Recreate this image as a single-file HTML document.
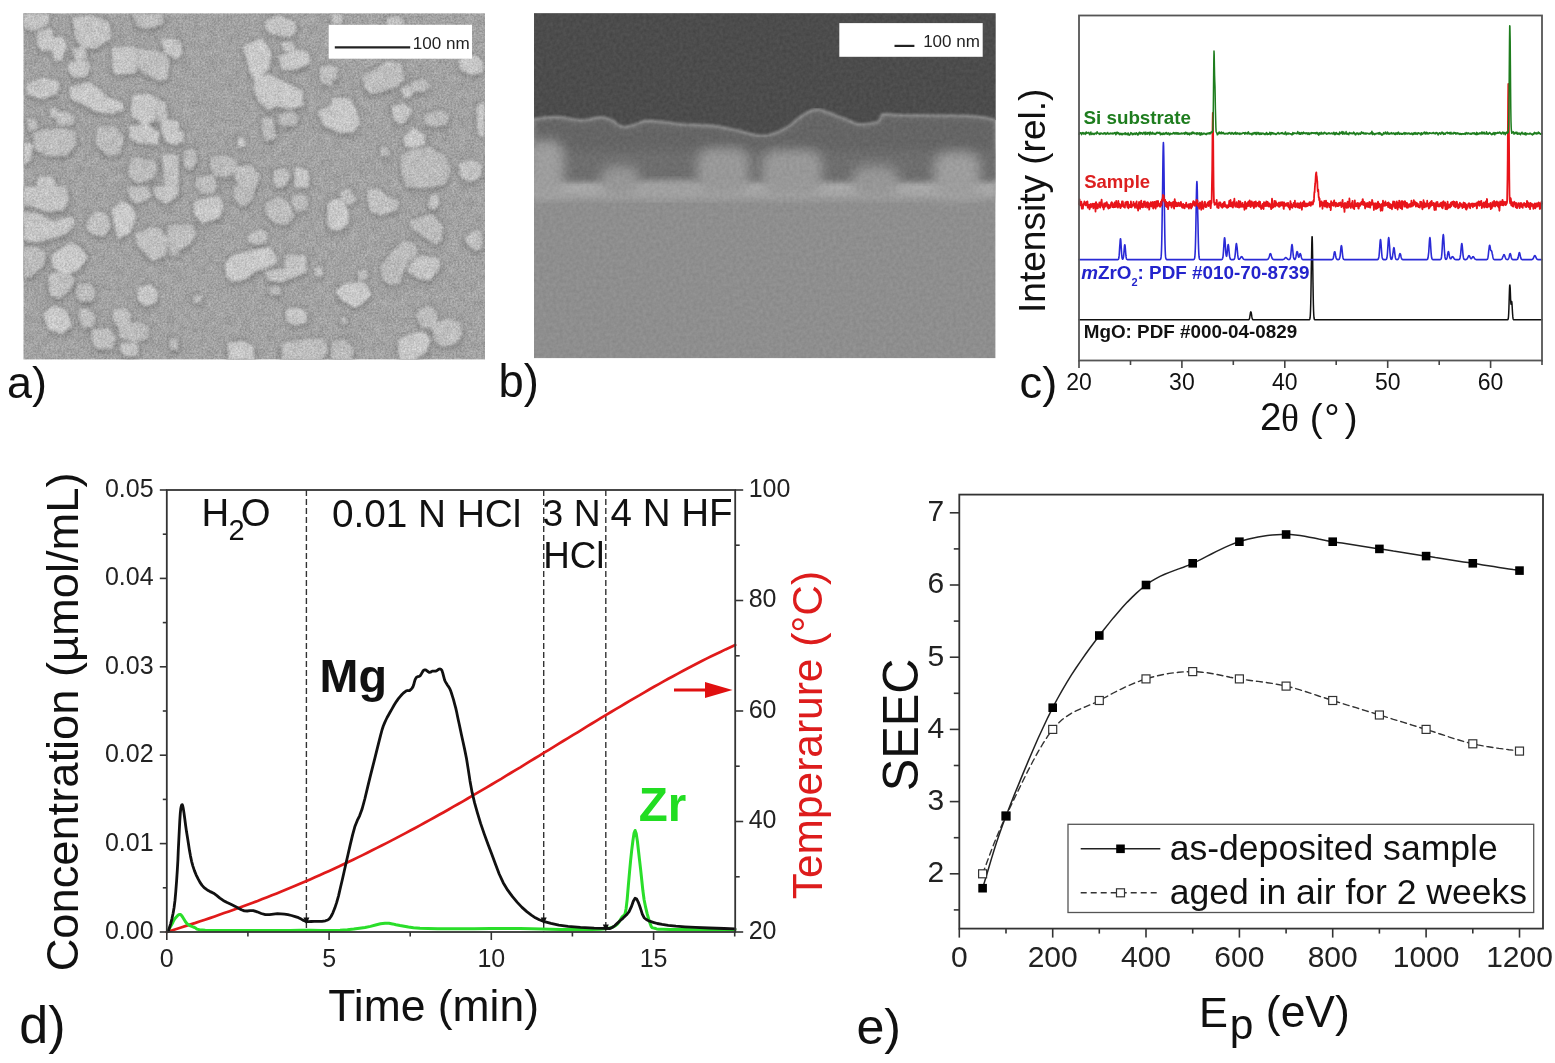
<!DOCTYPE html>
<html><head><meta charset="utf-8"><title>Figure</title>
<style>
html,body{margin:0;padding:0;background:#fff;}
body{width:1555px;height:1063px;overflow:hidden;}
svg{display:block;}
text{font-family:'Liberation Sans', Arial, sans-serif;}
</style></head><body>
<svg width="1555" height="1063" viewBox="0 0 1555 1063">
<rect x="0" y="0" width="1555" height="1063" fill="#fff"/>
<defs>
<filter id="blur2" x="-5%" y="-5%" width="110%" height="110%"><feGaussianBlur stdDeviation="2"/></filter>
<filter id="blur3" x="-5%" y="-5%" width="110%" height="110%"><feGaussianBlur stdDeviation="3"/></filter>
<filter id="blur4" x="-20%" y="-20%" width="140%" height="140%"><feGaussianBlur stdDeviation="4"/></filter>
<filter id="blur6" x="-40%" y="-40%" width="180%" height="180%"><feGaussianBlur stdDeviation="6"/></filter>
<filter id="blur1" x="-5%" y="-5%" width="110%" height="110%"><feGaussianBlur stdDeviation="1"/></filter>
<filter id="blur15" x="-5%" y="-5%" width="110%" height="110%"><feGaussianBlur stdDeviation="1.5"/></filter>
<filter id="grainA" x="0" y="0" width="100%" height="100%" color-interpolation-filters="sRGB">
 <feTurbulence type="fractalNoise" baseFrequency="0.55" numOctaves="2" seed="4"/>
 <feColorMatrix type="matrix" values="1 0 0 0 0  1 0 0 0 0  1 0 0 0 0  0 0 0 0 1"/>
</filter>
<filter id="grainB" x="0" y="0" width="100%" height="100%" color-interpolation-filters="sRGB">
 <feTurbulence type="fractalNoise" baseFrequency="0.3" numOctaves="2" seed="9"/>
 <feColorMatrix type="matrix" values="1 0 0 0 0  1 0 0 0 0  1 0 0 0 0  0 0 0 0 1"/>
</filter>
<filter id="grainC" x="0" y="0" width="100%" height="100%" color-interpolation-filters="sRGB">
 <feTurbulence type="fractalNoise" baseFrequency="0.12" numOctaves="3" seed="21"/>
 <feColorMatrix type="matrix" values="1 0 0 0 0  1 0 0 0 0  1 0 0 0 0  0 0 0 0 1"/>
</filter>
<clipPath id="clipA"><rect x="23.4" y="13.3" width="461.6" height="346.2"/></clipPath>
<clipPath id="clipB"><rect x="534" y="13.3" width="461.6" height="345"/></clipPath>
</defs>
<g clip-path="url(#clipA)">
<rect x="23.4" y="13.3" width="461.6" height="346.2" fill="rgb(181,181,181)"/>
<g filter="url(#blur3)" fill="rgb(125,125,125)" transform="translate(0.5,3)">
<polygon points="24.0,14.0 48.4,14.0 48.4,23.8 33.8,30.3 24.0,27.0"/>
<polygon points="37.0,33.5 48.4,27.8 52.5,30.3 51.7,49.8 41.9,50.6 37.8,44.9"/>
<polygon points="52.5,38.4 63.1,36.8 66.3,46.6 61.4,60.4 54.9,59.6 51.7,49.8"/>
<polygon points="72.8,17.3 92.4,15.6 108.6,22.1 110.3,38.4 95.6,48.2 81.0,46.6 76.1,38.4"/>
<polygon points="72.8,49.0 84.2,47.4 86.7,58.0 76.1,60.4"/>
<polygon points="69.6,62.8 87.5,61.2 90.7,67.7 85.9,76.7 72.8,76.7 68.0,69.3"/>
<polygon points="111.9,48.2 134.7,46.6 136.3,72.6 115.2,74.2 112.7,67.7"/>
<polygon points="137.1,48.2 164.0,53.1 168.9,61.2 167.3,79.1 159.1,80.7 141.2,71.0 137.1,62.8"/>
<polygon points="133.1,14.0 162.4,14.0 162.4,23.8 147.7,28.7 136.3,25.4"/>
<polygon points="160.7,38.4 178.0,40.0 178.0,59.6 165.6,53.1"/>
<polygon points="27.3,84.0 43.5,77.5 59.8,82.4 56.6,93.8 40.3,98.6 27.3,93.8"/>
<polygon points="69.6,87.3 89.1,82.4 100.5,90.5 108.6,98.6 121.7,101.9 123.3,110.0 111.9,113.3 97.3,111.7 85.9,105.2 71.2,98.6"/>
<polygon points="133.1,95.4 147.7,93.8 157.5,98.6 154.2,119.8 144.5,124.7 132.3,116.6 131.4,106.8"/>
<polygon points="157.5,100.3 165.6,101.9 167.3,118.2 157.5,121.4"/>
<polygon points="27.3,118.2 36.2,119.0 37.0,128.0 28.9,131.2"/>
<polygon points="50.0,108.4 56.6,108.4 56.6,116.6 50.0,116.6"/>
<polygon points="54.9,113.3 66.3,111.7 74.5,116.6 72.8,124.7 58.2,124.7"/>
<polygon points="33.8,132.8 56.6,128.0 74.5,131.2 76.1,144.2 66.3,155.6 46.8,155.6 35.4,149.1"/>
<polygon points="97.3,126.3 115.2,126.3 123.3,137.7 120.0,154.0 108.6,155.6 95.6,144.2"/>
<polygon points="129.8,126.3 147.7,124.7 159.1,132.8 157.5,144.2 138.0,142.6 129.8,137.7"/>
<polygon points="162.4,119.8 178.0,121.4 178.0,144.2 167.3,142.6 161.6,131.2"/>
<polygon points="24.0,142.6 32.1,144.2 30.5,160.5 24.0,163.8"/>
<polygon points="131.4,157.3 154.2,160.5 157.5,170.3 152.6,178.4 138.0,183.3 128.2,175.2"/>
<polygon points="38.7,176.8 51.7,176.8 56.6,187.0 37.0,187.0"/>
<polygon points="162.4,154.0 178.0,155.6 178.0,187.0 165.6,187.0"/>
<polygon points="265.9,20.5 278.9,15.6 295.2,22.1 296.8,30.3 290.3,36.8 270.8,33.5 265.9,28.7"/>
<polygon points="178.0,41.7 181.3,43.3 181.3,54.7 178.0,56.3"/>
<polygon points="243.1,46.6 261.0,38.4 270.8,51.4 269.2,67.7 256.1,82.4 249.6,69.3"/>
<polygon points="280.6,43.3 292.0,41.7 295.2,49.8 285.4,51.4"/>
<polygon points="278.9,56.3 301.7,49.8 308.2,53.1 309.9,62.8 295.2,69.3 282.2,69.3"/>
<polygon points="319.6,67.7 332.0,64.5 332.0,85.6 321.3,82.4"/>
<polygon points="254.5,82.4 269.2,74.2 277.3,79.1 292.0,85.6 301.7,90.5 303.3,105.2 288.7,108.4 275.7,105.2 269.2,110.0 259.4,101.9 254.5,92.1"/>
<polygon points="278.9,114.9 292.0,111.7 298.5,118.2 295.2,124.7 283.8,126.3 278.9,121.4"/>
<polygon points="318.0,111.7 332.0,105.2 332.0,128.0 324.5,126.3"/>
<polygon points="262.6,118.2 272.4,118.2 275.7,137.7 265.9,141.0 262.6,131.2"/>
<polygon points="184.5,150.7 194.3,149.1 197.5,160.5 191.0,170.3 184.5,165.4"/>
<polygon points="210.6,157.3 226.8,155.6 236.6,160.5 236.6,170.3 226.8,176.8 215.4,175.2 210.6,167.0"/>
<polygon points="236.6,167.0 251.3,165.4 259.4,175.2 256.1,187.0 239.9,187.0 235.0,176.8"/>
<polygon points="274.0,170.3 285.4,168.6 290.3,176.8 283.8,187.0 274.0,187.0"/>
<polygon points="295.2,167.0 308.2,170.3 308.2,187.0 295.2,187.0"/>
<polygon points="197.5,176.8 213.8,175.2 217.1,187.0 194.3,187.0"/>
<polygon points="238.2,137.7 243.1,137.7 244.7,145.9 238.2,145.9"/>
<polygon points="178.0,131.2 182.9,131.2 182.9,142.6 178.0,142.6"/>
<polygon points="387.3,17.3 402.0,17.3 403.6,25.4 387.3,25.4"/>
<polygon points="332.0,14.0 341.8,14.0 341.8,23.8 332.0,23.8"/>
<polygon points="459.0,59.6 475.3,54.7 483.4,62.8 481.8,72.6 470.4,74.2 460.6,69.3"/>
<polygon points="362.9,75.9 380.8,66.1 387.3,61.2 400.4,62.8 403.6,79.1 397.1,85.6 384.1,90.5 371.1,93.8 364.6,87.3"/>
<polygon points="400.4,88.9 408.5,85.6 413.4,93.8 405.3,98.6"/>
<polygon points="411.8,82.4 423.2,79.1 429.7,85.6 423.2,92.1 413.4,90.5"/>
<polygon points="332.0,98.6 349.9,98.6 356.4,111.7 359.7,123.1 353.2,131.2 341.8,132.8 332.0,128.0"/>
<polygon points="332.0,67.7 336.9,67.7 336.9,79.1 332.0,79.1"/>
<polygon points="392.2,106.8 403.6,103.5 411.8,110.0 406.9,119.8 400.4,124.7 393.9,118.2"/>
<polygon points="424.8,114.9 437.8,110.0 449.2,114.9 446.0,124.7 432.9,126.3 424.8,123.1"/>
<polygon points="403.6,137.7 413.4,128.0 423.2,134.5 424.8,144.2 413.4,147.5 405.3,145.9"/>
<polygon points="400.4,155.6 410.1,150.7 429.7,147.5 444.3,155.6 450.8,170.3 446.0,183.3 429.7,187.0 406.9,187.0 402.0,173.5"/>
<polygon points="459.0,163.8 472.0,160.5 481.8,165.4 480.1,176.8 470.4,181.7 460.6,176.8"/>
<polygon points="476.9,105.2 484.2,101.9 484.2,136.1 478.5,134.5"/>
<polygon points="380.8,147.5 387.3,147.5 389.0,155.6 380.8,155.6"/>
<polygon points="24.0,187.0 66.3,187.0 68.0,200.0 63.1,209.8 46.8,211.4 33.8,206.5 24.0,204.9"/>
<polygon points="24.0,211.4 40.3,214.7 53.3,222.8 72.8,216.3 74.5,224.4 64.7,234.2 48.4,239.1 35.4,242.3 24.0,239.1"/>
<polygon points="24.0,247.2 37.0,247.2 45.2,253.7 43.5,265.1 30.5,276.5 24.0,276.5"/>
<polygon points="51.7,255.4 71.2,242.3 79.3,247.2 87.5,257.0 77.7,270.0 63.1,274.9 53.3,266.8"/>
<polygon points="48.4,274.9 64.7,271.6 74.5,278.2 71.2,287.9 59.8,297.7 50.0,294.4"/>
<polygon points="87.5,219.6 97.3,211.4 107.0,214.7 110.3,227.7 103.8,235.8 92.4,234.2 86.7,227.7"/>
<polygon points="111.9,209.8 121.7,201.7 131.4,206.5 136.3,216.3 129.8,232.6 118.4,239.1 115.2,227.7"/>
<polygon points="128.2,187.0 147.7,187.0 151.0,196.8 138.0,203.3 129.8,198.4"/>
<polygon points="154.2,187.0 178.0,187.0 178.0,195.1 165.6,203.3 155.9,196.8"/>
<polygon points="136.3,234.2 149.3,227.7 160.7,229.3 167.3,239.1 165.6,255.4 152.6,260.3 142.8,250.5 136.3,244.0"/>
<polygon points="167.3,226.1 178.0,224.4 178.0,255.4 170.5,255.4"/>
<polygon points="77.7,284.7 89.1,283.0 95.6,291.2 92.4,301.0 81.0,301.0 76.1,294.4"/>
<polygon points="138.0,287.9 149.3,284.7 157.5,291.2 155.9,302.6 144.5,305.8 138.0,299.3"/>
<polygon points="43.5,314.0 53.3,305.8 66.3,310.7 71.2,325.4 61.4,333.5 48.4,328.6"/>
<polygon points="79.3,309.1 89.1,309.1 95.6,317.2 92.4,327.0 82.6,327.0 79.3,317.2"/>
<polygon points="113.5,310.7 124.9,307.5 131.4,315.6 128.2,325.4 118.4,327.0 113.5,318.9"/>
<polygon points="118.4,325.4 138.0,322.1 149.3,327.0 147.7,338.4 133.1,341.6 120.0,336.8"/>
<polygon points="92.4,330.3 108.6,328.6 115.2,338.4 111.9,348.2 97.3,348.2 92.4,340.0"/>
<polygon points="121.7,343.3 136.3,343.3 138.0,354.7 124.9,356.3 120.0,349.8"/>
<polygon points="170.5,340.0 178.0,338.4 178.0,349.8 170.5,348.2"/>
<polygon points="233.3,187.0 254.5,187.0 252.9,198.4 243.1,206.5 235.0,200.0"/>
<polygon points="194.3,201.7 204.0,198.4 218.7,196.8 223.6,206.5 218.7,217.9 202.4,222.8 194.3,213.0"/>
<polygon points="197.5,187.0 215.4,187.0 213.8,193.5 200.8,193.5"/>
<polygon points="178.0,226.1 191.0,224.4 195.9,232.6 191.0,242.3 181.3,248.9 178.0,248.9"/>
<polygon points="265.9,203.3 278.9,196.8 288.7,203.3 293.6,216.3 287.1,224.4 275.7,222.8 265.9,213.0"/>
<polygon points="292.0,196.8 301.7,193.5 308.2,200.0 306.6,209.8 296.8,211.4 292.0,203.3"/>
<polygon points="327.8,203.3 332.0,200.0 332.0,229.3 327.8,226.1"/>
<polygon points="248.0,235.8 261.0,229.3 266.7,232.6 265.9,242.3 256.1,244.0 248.0,240.7"/>
<polygon points="225.2,263.5 233.3,255.4 246.4,252.1 269.2,247.2 275.7,255.4 275.7,263.5 264.3,268.4 254.5,271.6 246.4,278.2 233.3,281.4 226.8,276.5"/>
<polygon points="265.9,271.6 285.4,268.4 285.4,255.4 305.0,255.4 306.6,271.6 295.2,276.5 282.2,281.4 267.5,279.8"/>
<polygon points="194.3,296.1 200.8,296.1 200.8,302.6 194.3,302.6"/>
<polygon points="269.2,287.9 278.9,286.3 280.6,294.4 270.8,294.4"/>
<polygon points="285.4,310.7 295.2,307.5 305.0,310.7 306.6,322.1 295.2,325.4 287.1,320.5"/>
<polygon points="228.5,343.3 243.1,341.6 252.9,346.5 254.5,360.0 228.5,360.0"/>
<polygon points="282.2,343.3 295.2,341.6 311.5,338.4 324.5,340.0 327.8,349.8 321.3,360.0 282.2,360.0"/>
<polygon points="314.7,268.4 321.3,266.8 322.9,274.9 316.4,276.5"/>
<polygon points="332.0,200.0 341.8,200.0 348.3,211.4 348.3,222.8 341.8,229.3 332.0,229.3"/>
<polygon points="340.1,191.9 349.9,188.6 356.4,200.0 349.9,204.9 341.8,201.7"/>
<polygon points="367.8,190.3 377.6,188.6 387.3,196.8 398.7,201.7 397.1,209.8 380.8,214.7 371.1,211.4 367.8,201.7"/>
<polygon points="410.1,221.2 423.2,216.3 432.9,214.7 442.7,226.1 441.1,240.7 434.6,244.0 423.2,235.8 411.8,227.7"/>
<polygon points="429.7,196.8 436.2,193.5 439.4,203.3 432.9,209.8 428.0,206.5"/>
<polygon points="465.5,237.5 476.9,229.3 481.8,234.2 481.8,247.2 476.9,250.5 467.1,244.0"/>
<polygon points="380.8,266.8 390.6,253.7 402.0,242.3 413.4,242.3 418.3,252.1 408.5,261.9 402.0,271.6 400.4,283.0 390.6,284.7 382.5,278.2"/>
<polygon points="408.5,266.8 419.9,255.4 439.4,258.6 439.4,268.4 429.7,279.8 418.3,278.2 408.5,271.6"/>
<polygon points="335.3,291.2 348.3,283.0 364.6,283.0 371.1,294.4 364.6,301.0 354.8,307.5 341.8,299.3"/>
<polygon points="358.0,271.6 366.2,268.4 367.8,278.2 359.7,281.4"/>
<polygon points="418.3,310.7 429.7,305.8 437.8,315.6 432.9,328.6 421.5,327.0 416.6,317.2"/>
<polygon points="432.9,323.7 449.2,318.9 459.0,322.1 462.2,333.5 455.7,343.3 442.7,346.5 434.6,340.0"/>
<polygon points="398.7,340.0 411.8,333.5 423.2,331.9 429.7,340.0 426.4,351.4 413.4,360.0 400.4,360.0 398.7,349.8"/>
<polygon points="332.0,341.6 345.0,340.0 353.2,349.8 351.5,360.0 332.0,360.0"/>
<polygon points="341.8,317.2 346.7,317.2 346.7,323.7 341.8,323.7"/>
</g>
<g filter="url(#blur2)" fill="none" stroke="rgb(140,140,140)" stroke-width="4" stroke-linejoin="round">
<polygon points="24.0,14.0 48.4,14.0 48.4,23.8 33.8,30.3 24.0,27.0"/>
<polygon points="37.0,33.5 48.4,27.8 52.5,30.3 51.7,49.8 41.9,50.6 37.8,44.9"/>
<polygon points="52.5,38.4 63.1,36.8 66.3,46.6 61.4,60.4 54.9,59.6 51.7,49.8"/>
<polygon points="72.8,17.3 92.4,15.6 108.6,22.1 110.3,38.4 95.6,48.2 81.0,46.6 76.1,38.4"/>
<polygon points="72.8,49.0 84.2,47.4 86.7,58.0 76.1,60.4"/>
<polygon points="69.6,62.8 87.5,61.2 90.7,67.7 85.9,76.7 72.8,76.7 68.0,69.3"/>
<polygon points="111.9,48.2 134.7,46.6 136.3,72.6 115.2,74.2 112.7,67.7"/>
<polygon points="137.1,48.2 164.0,53.1 168.9,61.2 167.3,79.1 159.1,80.7 141.2,71.0 137.1,62.8"/>
<polygon points="133.1,14.0 162.4,14.0 162.4,23.8 147.7,28.7 136.3,25.4"/>
<polygon points="160.7,38.4 178.0,40.0 178.0,59.6 165.6,53.1"/>
<polygon points="27.3,84.0 43.5,77.5 59.8,82.4 56.6,93.8 40.3,98.6 27.3,93.8"/>
<polygon points="69.6,87.3 89.1,82.4 100.5,90.5 108.6,98.6 121.7,101.9 123.3,110.0 111.9,113.3 97.3,111.7 85.9,105.2 71.2,98.6"/>
<polygon points="133.1,95.4 147.7,93.8 157.5,98.6 154.2,119.8 144.5,124.7 132.3,116.6 131.4,106.8"/>
<polygon points="157.5,100.3 165.6,101.9 167.3,118.2 157.5,121.4"/>
<polygon points="27.3,118.2 36.2,119.0 37.0,128.0 28.9,131.2"/>
<polygon points="50.0,108.4 56.6,108.4 56.6,116.6 50.0,116.6"/>
<polygon points="54.9,113.3 66.3,111.7 74.5,116.6 72.8,124.7 58.2,124.7"/>
<polygon points="33.8,132.8 56.6,128.0 74.5,131.2 76.1,144.2 66.3,155.6 46.8,155.6 35.4,149.1"/>
<polygon points="97.3,126.3 115.2,126.3 123.3,137.7 120.0,154.0 108.6,155.6 95.6,144.2"/>
<polygon points="129.8,126.3 147.7,124.7 159.1,132.8 157.5,144.2 138.0,142.6 129.8,137.7"/>
<polygon points="162.4,119.8 178.0,121.4 178.0,144.2 167.3,142.6 161.6,131.2"/>
<polygon points="24.0,142.6 32.1,144.2 30.5,160.5 24.0,163.8"/>
<polygon points="131.4,157.3 154.2,160.5 157.5,170.3 152.6,178.4 138.0,183.3 128.2,175.2"/>
<polygon points="38.7,176.8 51.7,176.8 56.6,187.0 37.0,187.0"/>
<polygon points="162.4,154.0 178.0,155.6 178.0,187.0 165.6,187.0"/>
<polygon points="265.9,20.5 278.9,15.6 295.2,22.1 296.8,30.3 290.3,36.8 270.8,33.5 265.9,28.7"/>
<polygon points="178.0,41.7 181.3,43.3 181.3,54.7 178.0,56.3"/>
<polygon points="243.1,46.6 261.0,38.4 270.8,51.4 269.2,67.7 256.1,82.4 249.6,69.3"/>
<polygon points="280.6,43.3 292.0,41.7 295.2,49.8 285.4,51.4"/>
<polygon points="278.9,56.3 301.7,49.8 308.2,53.1 309.9,62.8 295.2,69.3 282.2,69.3"/>
<polygon points="319.6,67.7 332.0,64.5 332.0,85.6 321.3,82.4"/>
<polygon points="254.5,82.4 269.2,74.2 277.3,79.1 292.0,85.6 301.7,90.5 303.3,105.2 288.7,108.4 275.7,105.2 269.2,110.0 259.4,101.9 254.5,92.1"/>
<polygon points="278.9,114.9 292.0,111.7 298.5,118.2 295.2,124.7 283.8,126.3 278.9,121.4"/>
<polygon points="318.0,111.7 332.0,105.2 332.0,128.0 324.5,126.3"/>
<polygon points="262.6,118.2 272.4,118.2 275.7,137.7 265.9,141.0 262.6,131.2"/>
<polygon points="184.5,150.7 194.3,149.1 197.5,160.5 191.0,170.3 184.5,165.4"/>
<polygon points="210.6,157.3 226.8,155.6 236.6,160.5 236.6,170.3 226.8,176.8 215.4,175.2 210.6,167.0"/>
<polygon points="236.6,167.0 251.3,165.4 259.4,175.2 256.1,187.0 239.9,187.0 235.0,176.8"/>
<polygon points="274.0,170.3 285.4,168.6 290.3,176.8 283.8,187.0 274.0,187.0"/>
<polygon points="295.2,167.0 308.2,170.3 308.2,187.0 295.2,187.0"/>
<polygon points="197.5,176.8 213.8,175.2 217.1,187.0 194.3,187.0"/>
<polygon points="238.2,137.7 243.1,137.7 244.7,145.9 238.2,145.9"/>
<polygon points="178.0,131.2 182.9,131.2 182.9,142.6 178.0,142.6"/>
<polygon points="387.3,17.3 402.0,17.3 403.6,25.4 387.3,25.4"/>
<polygon points="332.0,14.0 341.8,14.0 341.8,23.8 332.0,23.8"/>
<polygon points="459.0,59.6 475.3,54.7 483.4,62.8 481.8,72.6 470.4,74.2 460.6,69.3"/>
<polygon points="362.9,75.9 380.8,66.1 387.3,61.2 400.4,62.8 403.6,79.1 397.1,85.6 384.1,90.5 371.1,93.8 364.6,87.3"/>
<polygon points="400.4,88.9 408.5,85.6 413.4,93.8 405.3,98.6"/>
<polygon points="411.8,82.4 423.2,79.1 429.7,85.6 423.2,92.1 413.4,90.5"/>
<polygon points="332.0,98.6 349.9,98.6 356.4,111.7 359.7,123.1 353.2,131.2 341.8,132.8 332.0,128.0"/>
<polygon points="332.0,67.7 336.9,67.7 336.9,79.1 332.0,79.1"/>
<polygon points="392.2,106.8 403.6,103.5 411.8,110.0 406.9,119.8 400.4,124.7 393.9,118.2"/>
<polygon points="424.8,114.9 437.8,110.0 449.2,114.9 446.0,124.7 432.9,126.3 424.8,123.1"/>
<polygon points="403.6,137.7 413.4,128.0 423.2,134.5 424.8,144.2 413.4,147.5 405.3,145.9"/>
<polygon points="400.4,155.6 410.1,150.7 429.7,147.5 444.3,155.6 450.8,170.3 446.0,183.3 429.7,187.0 406.9,187.0 402.0,173.5"/>
<polygon points="459.0,163.8 472.0,160.5 481.8,165.4 480.1,176.8 470.4,181.7 460.6,176.8"/>
<polygon points="476.9,105.2 484.2,101.9 484.2,136.1 478.5,134.5"/>
<polygon points="380.8,147.5 387.3,147.5 389.0,155.6 380.8,155.6"/>
<polygon points="24.0,187.0 66.3,187.0 68.0,200.0 63.1,209.8 46.8,211.4 33.8,206.5 24.0,204.9"/>
<polygon points="24.0,211.4 40.3,214.7 53.3,222.8 72.8,216.3 74.5,224.4 64.7,234.2 48.4,239.1 35.4,242.3 24.0,239.1"/>
<polygon points="24.0,247.2 37.0,247.2 45.2,253.7 43.5,265.1 30.5,276.5 24.0,276.5"/>
<polygon points="51.7,255.4 71.2,242.3 79.3,247.2 87.5,257.0 77.7,270.0 63.1,274.9 53.3,266.8"/>
<polygon points="48.4,274.9 64.7,271.6 74.5,278.2 71.2,287.9 59.8,297.7 50.0,294.4"/>
<polygon points="87.5,219.6 97.3,211.4 107.0,214.7 110.3,227.7 103.8,235.8 92.4,234.2 86.7,227.7"/>
<polygon points="111.9,209.8 121.7,201.7 131.4,206.5 136.3,216.3 129.8,232.6 118.4,239.1 115.2,227.7"/>
<polygon points="128.2,187.0 147.7,187.0 151.0,196.8 138.0,203.3 129.8,198.4"/>
<polygon points="154.2,187.0 178.0,187.0 178.0,195.1 165.6,203.3 155.9,196.8"/>
<polygon points="136.3,234.2 149.3,227.7 160.7,229.3 167.3,239.1 165.6,255.4 152.6,260.3 142.8,250.5 136.3,244.0"/>
<polygon points="167.3,226.1 178.0,224.4 178.0,255.4 170.5,255.4"/>
<polygon points="77.7,284.7 89.1,283.0 95.6,291.2 92.4,301.0 81.0,301.0 76.1,294.4"/>
<polygon points="138.0,287.9 149.3,284.7 157.5,291.2 155.9,302.6 144.5,305.8 138.0,299.3"/>
<polygon points="43.5,314.0 53.3,305.8 66.3,310.7 71.2,325.4 61.4,333.5 48.4,328.6"/>
<polygon points="79.3,309.1 89.1,309.1 95.6,317.2 92.4,327.0 82.6,327.0 79.3,317.2"/>
<polygon points="113.5,310.7 124.9,307.5 131.4,315.6 128.2,325.4 118.4,327.0 113.5,318.9"/>
<polygon points="118.4,325.4 138.0,322.1 149.3,327.0 147.7,338.4 133.1,341.6 120.0,336.8"/>
<polygon points="92.4,330.3 108.6,328.6 115.2,338.4 111.9,348.2 97.3,348.2 92.4,340.0"/>
<polygon points="121.7,343.3 136.3,343.3 138.0,354.7 124.9,356.3 120.0,349.8"/>
<polygon points="170.5,340.0 178.0,338.4 178.0,349.8 170.5,348.2"/>
<polygon points="233.3,187.0 254.5,187.0 252.9,198.4 243.1,206.5 235.0,200.0"/>
<polygon points="194.3,201.7 204.0,198.4 218.7,196.8 223.6,206.5 218.7,217.9 202.4,222.8 194.3,213.0"/>
<polygon points="197.5,187.0 215.4,187.0 213.8,193.5 200.8,193.5"/>
<polygon points="178.0,226.1 191.0,224.4 195.9,232.6 191.0,242.3 181.3,248.9 178.0,248.9"/>
<polygon points="265.9,203.3 278.9,196.8 288.7,203.3 293.6,216.3 287.1,224.4 275.7,222.8 265.9,213.0"/>
<polygon points="292.0,196.8 301.7,193.5 308.2,200.0 306.6,209.8 296.8,211.4 292.0,203.3"/>
<polygon points="327.8,203.3 332.0,200.0 332.0,229.3 327.8,226.1"/>
<polygon points="248.0,235.8 261.0,229.3 266.7,232.6 265.9,242.3 256.1,244.0 248.0,240.7"/>
<polygon points="225.2,263.5 233.3,255.4 246.4,252.1 269.2,247.2 275.7,255.4 275.7,263.5 264.3,268.4 254.5,271.6 246.4,278.2 233.3,281.4 226.8,276.5"/>
<polygon points="265.9,271.6 285.4,268.4 285.4,255.4 305.0,255.4 306.6,271.6 295.2,276.5 282.2,281.4 267.5,279.8"/>
<polygon points="194.3,296.1 200.8,296.1 200.8,302.6 194.3,302.6"/>
<polygon points="269.2,287.9 278.9,286.3 280.6,294.4 270.8,294.4"/>
<polygon points="285.4,310.7 295.2,307.5 305.0,310.7 306.6,322.1 295.2,325.4 287.1,320.5"/>
<polygon points="228.5,343.3 243.1,341.6 252.9,346.5 254.5,360.0 228.5,360.0"/>
<polygon points="282.2,343.3 295.2,341.6 311.5,338.4 324.5,340.0 327.8,349.8 321.3,360.0 282.2,360.0"/>
<polygon points="314.7,268.4 321.3,266.8 322.9,274.9 316.4,276.5"/>
<polygon points="332.0,200.0 341.8,200.0 348.3,211.4 348.3,222.8 341.8,229.3 332.0,229.3"/>
<polygon points="340.1,191.9 349.9,188.6 356.4,200.0 349.9,204.9 341.8,201.7"/>
<polygon points="367.8,190.3 377.6,188.6 387.3,196.8 398.7,201.7 397.1,209.8 380.8,214.7 371.1,211.4 367.8,201.7"/>
<polygon points="410.1,221.2 423.2,216.3 432.9,214.7 442.7,226.1 441.1,240.7 434.6,244.0 423.2,235.8 411.8,227.7"/>
<polygon points="429.7,196.8 436.2,193.5 439.4,203.3 432.9,209.8 428.0,206.5"/>
<polygon points="465.5,237.5 476.9,229.3 481.8,234.2 481.8,247.2 476.9,250.5 467.1,244.0"/>
<polygon points="380.8,266.8 390.6,253.7 402.0,242.3 413.4,242.3 418.3,252.1 408.5,261.9 402.0,271.6 400.4,283.0 390.6,284.7 382.5,278.2"/>
<polygon points="408.5,266.8 419.9,255.4 439.4,258.6 439.4,268.4 429.7,279.8 418.3,278.2 408.5,271.6"/>
<polygon points="335.3,291.2 348.3,283.0 364.6,283.0 371.1,294.4 364.6,301.0 354.8,307.5 341.8,299.3"/>
<polygon points="358.0,271.6 366.2,268.4 367.8,278.2 359.7,281.4"/>
<polygon points="418.3,310.7 429.7,305.8 437.8,315.6 432.9,328.6 421.5,327.0 416.6,317.2"/>
<polygon points="432.9,323.7 449.2,318.9 459.0,322.1 462.2,333.5 455.7,343.3 442.7,346.5 434.6,340.0"/>
<polygon points="398.7,340.0 411.8,333.5 423.2,331.9 429.7,340.0 426.4,351.4 413.4,360.0 400.4,360.0 398.7,349.8"/>
<polygon points="332.0,341.6 345.0,340.0 353.2,349.8 351.5,360.0 332.0,360.0"/>
<polygon points="341.8,317.2 346.7,317.2 346.7,323.7 341.8,323.7"/>
</g>
<g filter="url(#blur15)" stroke-width="1.5" stroke-linejoin="round">
<polygon points="24.0,14.0 48.4,14.0 48.4,23.8 33.8,30.3 24.0,27.0" fill="rgb(232,232,232)" stroke="rgb(232,232,232)"/>
<polygon points="37.0,33.5 48.4,27.8 52.5,30.3 51.7,49.8 41.9,50.6 37.8,44.9" fill="rgb(235,235,235)" stroke="rgb(235,235,235)"/>
<polygon points="52.5,38.4 63.1,36.8 66.3,46.6 61.4,60.4 54.9,59.6 51.7,49.8" fill="rgb(242,242,242)" stroke="rgb(242,242,242)"/>
<polygon points="72.8,17.3 92.4,15.6 108.6,22.1 110.3,38.4 95.6,48.2 81.0,46.6 76.1,38.4" fill="rgb(232,232,232)" stroke="rgb(232,232,232)"/>
<polygon points="72.8,49.0 84.2,47.4 86.7,58.0 76.1,60.4" fill="rgb(232,232,232)" stroke="rgb(232,232,232)"/>
<polygon points="69.6,62.8 87.5,61.2 90.7,67.7 85.9,76.7 72.8,76.7 68.0,69.3" fill="rgb(234,234,234)" stroke="rgb(234,234,234)"/>
<polygon points="111.9,48.2 134.7,46.6 136.3,72.6 115.2,74.2 112.7,67.7" fill="rgb(236,236,236)" stroke="rgb(236,236,236)"/>
<polygon points="137.1,48.2 164.0,53.1 168.9,61.2 167.3,79.1 159.1,80.7 141.2,71.0 137.1,62.8" fill="rgb(224,224,224)" stroke="rgb(224,224,224)"/>
<polygon points="133.1,14.0 162.4,14.0 162.4,23.8 147.7,28.7 136.3,25.4" fill="rgb(223,223,223)" stroke="rgb(223,223,223)"/>
<polygon points="160.7,38.4 178.0,40.0 178.0,59.6 165.6,53.1" fill="rgb(234,234,234)" stroke="rgb(234,234,234)"/>
<polygon points="27.3,84.0 43.5,77.5 59.8,82.4 56.6,93.8 40.3,98.6 27.3,93.8" fill="rgb(233,233,233)" stroke="rgb(233,233,233)"/>
<polygon points="69.6,87.3 89.1,82.4 100.5,90.5 108.6,98.6 121.7,101.9 123.3,110.0 111.9,113.3 97.3,111.7 85.9,105.2 71.2,98.6" fill="rgb(238,238,238)" stroke="rgb(238,238,238)"/>
<polygon points="133.1,95.4 147.7,93.8 157.5,98.6 154.2,119.8 144.5,124.7 132.3,116.6 131.4,106.8" fill="rgb(237,237,237)" stroke="rgb(237,237,237)"/>
<polygon points="157.5,100.3 165.6,101.9 167.3,118.2 157.5,121.4" fill="rgb(223,223,223)" stroke="rgb(223,223,223)"/>
<polygon points="27.3,118.2 36.2,119.0 37.0,128.0 28.9,131.2" fill="rgb(221,221,221)" stroke="rgb(221,221,221)"/>
<polygon points="50.0,108.4 56.6,108.4 56.6,116.6 50.0,116.6" fill="rgb(232,232,232)" stroke="rgb(232,232,232)"/>
<polygon points="54.9,113.3 66.3,111.7 74.5,116.6 72.8,124.7 58.2,124.7" fill="rgb(227,227,227)" stroke="rgb(227,227,227)"/>
<polygon points="33.8,132.8 56.6,128.0 74.5,131.2 76.1,144.2 66.3,155.6 46.8,155.6 35.4,149.1" fill="rgb(222,222,222)" stroke="rgb(222,222,222)"/>
<polygon points="97.3,126.3 115.2,126.3 123.3,137.7 120.0,154.0 108.6,155.6 95.6,144.2" fill="rgb(220,220,220)" stroke="rgb(220,220,220)"/>
<polygon points="129.8,126.3 147.7,124.7 159.1,132.8 157.5,144.2 138.0,142.6 129.8,137.7" fill="rgb(235,235,235)" stroke="rgb(235,235,235)"/>
<polygon points="162.4,119.8 178.0,121.4 178.0,144.2 167.3,142.6 161.6,131.2" fill="rgb(240,240,240)" stroke="rgb(240,240,240)"/>
<polygon points="24.0,142.6 32.1,144.2 30.5,160.5 24.0,163.8" fill="rgb(238,238,238)" stroke="rgb(238,238,238)"/>
<polygon points="131.4,157.3 154.2,160.5 157.5,170.3 152.6,178.4 138.0,183.3 128.2,175.2" fill="rgb(219,219,219)" stroke="rgb(219,219,219)"/>
<polygon points="38.7,176.8 51.7,176.8 56.6,187.0 37.0,187.0" fill="rgb(237,237,237)" stroke="rgb(237,237,237)"/>
<polygon points="162.4,154.0 178.0,155.6 178.0,187.0 165.6,187.0" fill="rgb(230,230,230)" stroke="rgb(230,230,230)"/>
<polygon points="265.9,20.5 278.9,15.6 295.2,22.1 296.8,30.3 290.3,36.8 270.8,33.5 265.9,28.7" fill="rgb(232,232,232)" stroke="rgb(232,232,232)"/>
<polygon points="178.0,41.7 181.3,43.3 181.3,54.7 178.0,56.3" fill="rgb(238,238,238)" stroke="rgb(238,238,238)"/>
<polygon points="243.1,46.6 261.0,38.4 270.8,51.4 269.2,67.7 256.1,82.4 249.6,69.3" fill="rgb(241,241,241)" stroke="rgb(241,241,241)"/>
<polygon points="280.6,43.3 292.0,41.7 295.2,49.8 285.4,51.4" fill="rgb(237,237,237)" stroke="rgb(237,237,237)"/>
<polygon points="278.9,56.3 301.7,49.8 308.2,53.1 309.9,62.8 295.2,69.3 282.2,69.3" fill="rgb(238,238,238)" stroke="rgb(238,238,238)"/>
<polygon points="319.6,67.7 332.0,64.5 332.0,85.6 321.3,82.4" fill="rgb(223,223,223)" stroke="rgb(223,223,223)"/>
<polygon points="254.5,82.4 269.2,74.2 277.3,79.1 292.0,85.6 301.7,90.5 303.3,105.2 288.7,108.4 275.7,105.2 269.2,110.0 259.4,101.9 254.5,92.1" fill="rgb(237,237,237)" stroke="rgb(237,237,237)"/>
<polygon points="278.9,114.9 292.0,111.7 298.5,118.2 295.2,124.7 283.8,126.3 278.9,121.4" fill="rgb(218,218,218)" stroke="rgb(218,218,218)"/>
<polygon points="318.0,111.7 332.0,105.2 332.0,128.0 324.5,126.3" fill="rgb(234,234,234)" stroke="rgb(234,234,234)"/>
<polygon points="262.6,118.2 272.4,118.2 275.7,137.7 265.9,141.0 262.6,131.2" fill="rgb(220,220,220)" stroke="rgb(220,220,220)"/>
<polygon points="184.5,150.7 194.3,149.1 197.5,160.5 191.0,170.3 184.5,165.4" fill="rgb(219,219,219)" stroke="rgb(219,219,219)"/>
<polygon points="210.6,157.3 226.8,155.6 236.6,160.5 236.6,170.3 226.8,176.8 215.4,175.2 210.6,167.0" fill="rgb(219,219,219)" stroke="rgb(219,219,219)"/>
<polygon points="236.6,167.0 251.3,165.4 259.4,175.2 256.1,187.0 239.9,187.0 235.0,176.8" fill="rgb(224,224,224)" stroke="rgb(224,224,224)"/>
<polygon points="274.0,170.3 285.4,168.6 290.3,176.8 283.8,187.0 274.0,187.0" fill="rgb(225,225,225)" stroke="rgb(225,225,225)"/>
<polygon points="295.2,167.0 308.2,170.3 308.2,187.0 295.2,187.0" fill="rgb(237,237,237)" stroke="rgb(237,237,237)"/>
<polygon points="197.5,176.8 213.8,175.2 217.1,187.0 194.3,187.0" fill="rgb(218,218,218)" stroke="rgb(218,218,218)"/>
<polygon points="238.2,137.7 243.1,137.7 244.7,145.9 238.2,145.9" fill="rgb(242,242,242)" stroke="rgb(242,242,242)"/>
<polygon points="178.0,131.2 182.9,131.2 182.9,142.6 178.0,142.6" fill="rgb(232,232,232)" stroke="rgb(232,232,232)"/>
<polygon points="387.3,17.3 402.0,17.3 403.6,25.4 387.3,25.4" fill="rgb(228,228,228)" stroke="rgb(228,228,228)"/>
<polygon points="332.0,14.0 341.8,14.0 341.8,23.8 332.0,23.8" fill="rgb(232,232,232)" stroke="rgb(232,232,232)"/>
<polygon points="459.0,59.6 475.3,54.7 483.4,62.8 481.8,72.6 470.4,74.2 460.6,69.3" fill="rgb(236,236,236)" stroke="rgb(236,236,236)"/>
<polygon points="362.9,75.9 380.8,66.1 387.3,61.2 400.4,62.8 403.6,79.1 397.1,85.6 384.1,90.5 371.1,93.8 364.6,87.3" fill="rgb(224,224,224)" stroke="rgb(224,224,224)"/>
<polygon points="400.4,88.9 408.5,85.6 413.4,93.8 405.3,98.6" fill="rgb(234,234,234)" stroke="rgb(234,234,234)"/>
<polygon points="411.8,82.4 423.2,79.1 429.7,85.6 423.2,92.1 413.4,90.5" fill="rgb(225,225,225)" stroke="rgb(225,225,225)"/>
<polygon points="332.0,98.6 349.9,98.6 356.4,111.7 359.7,123.1 353.2,131.2 341.8,132.8 332.0,128.0" fill="rgb(238,238,238)" stroke="rgb(238,238,238)"/>
<polygon points="332.0,67.7 336.9,67.7 336.9,79.1 332.0,79.1" fill="rgb(227,227,227)" stroke="rgb(227,227,227)"/>
<polygon points="392.2,106.8 403.6,103.5 411.8,110.0 406.9,119.8 400.4,124.7 393.9,118.2" fill="rgb(233,233,233)" stroke="rgb(233,233,233)"/>
<polygon points="424.8,114.9 437.8,110.0 449.2,114.9 446.0,124.7 432.9,126.3 424.8,123.1" fill="rgb(218,218,218)" stroke="rgb(218,218,218)"/>
<polygon points="403.6,137.7 413.4,128.0 423.2,134.5 424.8,144.2 413.4,147.5 405.3,145.9" fill="rgb(239,239,239)" stroke="rgb(239,239,239)"/>
<polygon points="400.4,155.6 410.1,150.7 429.7,147.5 444.3,155.6 450.8,170.3 446.0,183.3 429.7,187.0 406.9,187.0 402.0,173.5" fill="rgb(220,220,220)" stroke="rgb(220,220,220)"/>
<polygon points="459.0,163.8 472.0,160.5 481.8,165.4 480.1,176.8 470.4,181.7 460.6,176.8" fill="rgb(232,232,232)" stroke="rgb(232,232,232)"/>
<polygon points="476.9,105.2 484.2,101.9 484.2,136.1 478.5,134.5" fill="rgb(238,238,238)" stroke="rgb(238,238,238)"/>
<polygon points="380.8,147.5 387.3,147.5 389.0,155.6 380.8,155.6" fill="rgb(226,226,226)" stroke="rgb(226,226,226)"/>
<polygon points="24.0,187.0 66.3,187.0 68.0,200.0 63.1,209.8 46.8,211.4 33.8,206.5 24.0,204.9" fill="rgb(231,231,231)" stroke="rgb(231,231,231)"/>
<polygon points="24.0,211.4 40.3,214.7 53.3,222.8 72.8,216.3 74.5,224.4 64.7,234.2 48.4,239.1 35.4,242.3 24.0,239.1" fill="rgb(235,235,235)" stroke="rgb(235,235,235)"/>
<polygon points="24.0,247.2 37.0,247.2 45.2,253.7 43.5,265.1 30.5,276.5 24.0,276.5" fill="rgb(220,220,220)" stroke="rgb(220,220,220)"/>
<polygon points="51.7,255.4 71.2,242.3 79.3,247.2 87.5,257.0 77.7,270.0 63.1,274.9 53.3,266.8" fill="rgb(240,240,240)" stroke="rgb(240,240,240)"/>
<polygon points="48.4,274.9 64.7,271.6 74.5,278.2 71.2,287.9 59.8,297.7 50.0,294.4" fill="rgb(226,226,226)" stroke="rgb(226,226,226)"/>
<polygon points="87.5,219.6 97.3,211.4 107.0,214.7 110.3,227.7 103.8,235.8 92.4,234.2 86.7,227.7" fill="rgb(228,228,228)" stroke="rgb(228,228,228)"/>
<polygon points="111.9,209.8 121.7,201.7 131.4,206.5 136.3,216.3 129.8,232.6 118.4,239.1 115.2,227.7" fill="rgb(242,242,242)" stroke="rgb(242,242,242)"/>
<polygon points="128.2,187.0 147.7,187.0 151.0,196.8 138.0,203.3 129.8,198.4" fill="rgb(225,225,225)" stroke="rgb(225,225,225)"/>
<polygon points="154.2,187.0 178.0,187.0 178.0,195.1 165.6,203.3 155.9,196.8" fill="rgb(234,234,234)" stroke="rgb(234,234,234)"/>
<polygon points="136.3,234.2 149.3,227.7 160.7,229.3 167.3,239.1 165.6,255.4 152.6,260.3 142.8,250.5 136.3,244.0" fill="rgb(227,227,227)" stroke="rgb(227,227,227)"/>
<polygon points="167.3,226.1 178.0,224.4 178.0,255.4 170.5,255.4" fill="rgb(218,218,218)" stroke="rgb(218,218,218)"/>
<polygon points="77.7,284.7 89.1,283.0 95.6,291.2 92.4,301.0 81.0,301.0 76.1,294.4" fill="rgb(220,220,220)" stroke="rgb(220,220,220)"/>
<polygon points="138.0,287.9 149.3,284.7 157.5,291.2 155.9,302.6 144.5,305.8 138.0,299.3" fill="rgb(236,236,236)" stroke="rgb(236,236,236)"/>
<polygon points="43.5,314.0 53.3,305.8 66.3,310.7 71.2,325.4 61.4,333.5 48.4,328.6" fill="rgb(242,242,242)" stroke="rgb(242,242,242)"/>
<polygon points="79.3,309.1 89.1,309.1 95.6,317.2 92.4,327.0 82.6,327.0 79.3,317.2" fill="rgb(221,221,221)" stroke="rgb(221,221,221)"/>
<polygon points="113.5,310.7 124.9,307.5 131.4,315.6 128.2,325.4 118.4,327.0 113.5,318.9" fill="rgb(230,230,230)" stroke="rgb(230,230,230)"/>
<polygon points="118.4,325.4 138.0,322.1 149.3,327.0 147.7,338.4 133.1,341.6 120.0,336.8" fill="rgb(221,221,221)" stroke="rgb(221,221,221)"/>
<polygon points="92.4,330.3 108.6,328.6 115.2,338.4 111.9,348.2 97.3,348.2 92.4,340.0" fill="rgb(227,227,227)" stroke="rgb(227,227,227)"/>
<polygon points="121.7,343.3 136.3,343.3 138.0,354.7 124.9,356.3 120.0,349.8" fill="rgb(230,230,230)" stroke="rgb(230,230,230)"/>
<polygon points="170.5,340.0 178.0,338.4 178.0,349.8 170.5,348.2" fill="rgb(220,220,220)" stroke="rgb(220,220,220)"/>
<polygon points="233.3,187.0 254.5,187.0 252.9,198.4 243.1,206.5 235.0,200.0" fill="rgb(218,218,218)" stroke="rgb(218,218,218)"/>
<polygon points="194.3,201.7 204.0,198.4 218.7,196.8 223.6,206.5 218.7,217.9 202.4,222.8 194.3,213.0" fill="rgb(239,239,239)" stroke="rgb(239,239,239)"/>
<polygon points="197.5,187.0 215.4,187.0 213.8,193.5 200.8,193.5" fill="rgb(218,218,218)" stroke="rgb(218,218,218)"/>
<polygon points="178.0,226.1 191.0,224.4 195.9,232.6 191.0,242.3 181.3,248.9 178.0,248.9" fill="rgb(224,224,224)" stroke="rgb(224,224,224)"/>
<polygon points="265.9,203.3 278.9,196.8 288.7,203.3 293.6,216.3 287.1,224.4 275.7,222.8 265.9,213.0" fill="rgb(224,224,224)" stroke="rgb(224,224,224)"/>
<polygon points="292.0,196.8 301.7,193.5 308.2,200.0 306.6,209.8 296.8,211.4 292.0,203.3" fill="rgb(219,219,219)" stroke="rgb(219,219,219)"/>
<polygon points="327.8,203.3 332.0,200.0 332.0,229.3 327.8,226.1" fill="rgb(233,233,233)" stroke="rgb(233,233,233)"/>
<polygon points="248.0,235.8 261.0,229.3 266.7,232.6 265.9,242.3 256.1,244.0 248.0,240.7" fill="rgb(230,230,230)" stroke="rgb(230,230,230)"/>
<polygon points="225.2,263.5 233.3,255.4 246.4,252.1 269.2,247.2 275.7,255.4 275.7,263.5 264.3,268.4 254.5,271.6 246.4,278.2 233.3,281.4 226.8,276.5" fill="rgb(240,240,240)" stroke="rgb(240,240,240)"/>
<polygon points="265.9,271.6 285.4,268.4 285.4,255.4 305.0,255.4 306.6,271.6 295.2,276.5 282.2,281.4 267.5,279.8" fill="rgb(230,230,230)" stroke="rgb(230,230,230)"/>
<polygon points="194.3,296.1 200.8,296.1 200.8,302.6 194.3,302.6" fill="rgb(231,231,231)" stroke="rgb(231,231,231)"/>
<polygon points="269.2,287.9 278.9,286.3 280.6,294.4 270.8,294.4" fill="rgb(220,220,220)" stroke="rgb(220,220,220)"/>
<polygon points="285.4,310.7 295.2,307.5 305.0,310.7 306.6,322.1 295.2,325.4 287.1,320.5" fill="rgb(236,236,236)" stroke="rgb(236,236,236)"/>
<polygon points="228.5,343.3 243.1,341.6 252.9,346.5 254.5,360.0 228.5,360.0" fill="rgb(238,238,238)" stroke="rgb(238,238,238)"/>
<polygon points="282.2,343.3 295.2,341.6 311.5,338.4 324.5,340.0 327.8,349.8 321.3,360.0 282.2,360.0" fill="rgb(224,224,224)" stroke="rgb(224,224,224)"/>
<polygon points="314.7,268.4 321.3,266.8 322.9,274.9 316.4,276.5" fill="rgb(242,242,242)" stroke="rgb(242,242,242)"/>
<polygon points="332.0,200.0 341.8,200.0 348.3,211.4 348.3,222.8 341.8,229.3 332.0,229.3" fill="rgb(239,239,239)" stroke="rgb(239,239,239)"/>
<polygon points="340.1,191.9 349.9,188.6 356.4,200.0 349.9,204.9 341.8,201.7" fill="rgb(226,226,226)" stroke="rgb(226,226,226)"/>
<polygon points="367.8,190.3 377.6,188.6 387.3,196.8 398.7,201.7 397.1,209.8 380.8,214.7 371.1,211.4 367.8,201.7" fill="rgb(228,228,228)" stroke="rgb(228,228,228)"/>
<polygon points="410.1,221.2 423.2,216.3 432.9,214.7 442.7,226.1 441.1,240.7 434.6,244.0 423.2,235.8 411.8,227.7" fill="rgb(220,220,220)" stroke="rgb(220,220,220)"/>
<polygon points="429.7,196.8 436.2,193.5 439.4,203.3 432.9,209.8 428.0,206.5" fill="rgb(227,227,227)" stroke="rgb(227,227,227)"/>
<polygon points="465.5,237.5 476.9,229.3 481.8,234.2 481.8,247.2 476.9,250.5 467.1,244.0" fill="rgb(228,228,228)" stroke="rgb(228,228,228)"/>
<polygon points="380.8,266.8 390.6,253.7 402.0,242.3 413.4,242.3 418.3,252.1 408.5,261.9 402.0,271.6 400.4,283.0 390.6,284.7 382.5,278.2" fill="rgb(218,218,218)" stroke="rgb(218,218,218)"/>
<polygon points="408.5,266.8 419.9,255.4 439.4,258.6 439.4,268.4 429.7,279.8 418.3,278.2 408.5,271.6" fill="rgb(231,231,231)" stroke="rgb(231,231,231)"/>
<polygon points="335.3,291.2 348.3,283.0 364.6,283.0 371.1,294.4 364.6,301.0 354.8,307.5 341.8,299.3" fill="rgb(242,242,242)" stroke="rgb(242,242,242)"/>
<polygon points="358.0,271.6 366.2,268.4 367.8,278.2 359.7,281.4" fill="rgb(221,221,221)" stroke="rgb(221,221,221)"/>
<polygon points="418.3,310.7 429.7,305.8 437.8,315.6 432.9,328.6 421.5,327.0 416.6,317.2" fill="rgb(222,222,222)" stroke="rgb(222,222,222)"/>
<polygon points="432.9,323.7 449.2,318.9 459.0,322.1 462.2,333.5 455.7,343.3 442.7,346.5 434.6,340.0" fill="rgb(225,225,225)" stroke="rgb(225,225,225)"/>
<polygon points="398.7,340.0 411.8,333.5 423.2,331.9 429.7,340.0 426.4,351.4 413.4,360.0 400.4,360.0 398.7,349.8" fill="rgb(240,240,240)" stroke="rgb(240,240,240)"/>
<polygon points="332.0,341.6 345.0,340.0 353.2,349.8 351.5,360.0 332.0,360.0" fill="rgb(221,221,221)" stroke="rgb(221,221,221)"/>
<polygon points="341.8,317.2 346.7,317.2 346.7,323.7 341.8,323.7" fill="rgb(218,218,218)" stroke="rgb(218,218,218)"/>
</g>
<rect x="23.4" y="13.3" width="461.6" height="346.2" filter="url(#grainC)" opacity="0.12"/>
<rect x="23.4" y="13.3" width="461.6" height="346.2" filter="url(#grainA)" opacity="0.26"/>
</g>
<g clip-path="url(#clipB)">
<rect x="534" y="13.3" width="461.6" height="345" fill="rgb(144,144,144)"/>
<rect x="530" y="177" width="470" height="21" fill="rgb(172,172,172)" filter="url(#blur4)"/>
<polygon points="534.0,119.4 535.9,119.0 538.6,118.5 541.7,117.9 545.0,117.5 548.5,117.2 552.2,117.0 556.2,116.9 560.0,117.0 563.9,117.5 567.8,118.2 571.6,118.9 575.0,119.5 577.7,119.8 580.0,120.1 582.3,120.1 585.0,120.0 588.5,119.4 592.4,118.5 596.3,117.7 600.0,117.3 603.3,117.5 606.4,118.1 609.4,119.0 612.0,120.0 614.2,121.4 616.1,123.2 618.0,124.8 620.0,126.0 622.2,126.5 624.6,126.7 627.1,126.5 630.0,126.0 633.4,125.0 637.2,123.5 641.1,122.0 645.0,121.0 648.6,120.7 652.2,120.8 655.9,121.1 660.0,121.5 664.6,122.0 669.7,122.7 674.9,123.4 680.0,124.0 685.1,124.4 690.3,124.6 695.4,124.8 700.0,125.0 703.9,125.2 707.2,125.2 710.7,125.5 715.0,126.0 720.7,127.0 727.2,128.3 733.9,129.7 740.0,131.0 745.5,132.3 750.6,133.8 755.5,135.0 760.0,135.6 764.1,135.6 767.8,135.1 771.4,134.2 775.0,133.0 778.9,131.5 782.8,129.6 786.6,127.5 790.0,125.4 792.7,123.3 795.0,121.2 797.3,119.1 800.0,117.0 803.4,114.8 807.2,112.5 811.1,110.6 815.0,109.5 818.6,109.5 822.2,110.3 825.9,111.6 830.0,113.0 834.9,114.8 840.3,117.0 845.6,119.2 850.0,121.0 853.0,122.3 855.1,123.3 857.2,123.9 860.0,124.2 864.2,124.1 869.3,123.6 874.2,122.7 878.0,121.6 879.9,119.9 880.6,117.7 881.2,115.7 883.0,114.3 885.6,113.9 888.7,114.2 893.1,114.7 900.0,115.0 910.9,115.1 924.8,115.3 938.8,115.4 950.0,115.5 957.2,115.6 962.2,115.7 966.1,115.8 970.0,116.0 974.2,116.3 978.1,116.6 981.6,117.0 985.0,117.5 988.3,118.1 991.4,118.8 994.1,119.5 996.0,120.0 996,180 534,180" fill="rgb(100,100,100)" filter="url(#blur3)"/>
<rect x="534" y="150" width="462" height="30" fill="rgb(112,112,112)" filter="url(#blur4)" opacity="0.8"/>
<rect x="528" y="140" width="36" height="58" rx="14" fill="rgb(160,160,160)" filter="url(#blur6)"/>
<rect x="600" y="166" width="40" height="30" rx="14" fill="rgb(152,152,152)" filter="url(#blur6)"/>
<rect x="697" y="148" width="52" height="48" rx="14" fill="rgb(155,155,155)" filter="url(#blur6)"/>
<rect x="762" y="150" width="60" height="47" rx="14" fill="rgb(155,155,155)" filter="url(#blur6)"/>
<rect x="852" y="166" width="47" height="31" rx="14" fill="rgb(152,152,152)" filter="url(#blur6)"/>
<rect x="934" y="152" width="46" height="48" rx="14" fill="rgb(160,160,160)" filter="url(#blur6)"/>
<rect x="640" y="182" width="60" height="14" rx="14" fill="rgb(160,160,160)" filter="url(#blur6)"/>
<polygon points="534,0 534.0,119.4 535.9,119.0 538.6,118.5 541.7,117.9 545.0,117.5 548.5,117.2 552.2,117.0 556.2,116.9 560.0,117.0 563.9,117.5 567.8,118.2 571.6,118.9 575.0,119.5 577.7,119.8 580.0,120.1 582.3,120.1 585.0,120.0 588.5,119.4 592.4,118.5 596.3,117.7 600.0,117.3 603.3,117.5 606.4,118.1 609.4,119.0 612.0,120.0 614.2,121.4 616.1,123.2 618.0,124.8 620.0,126.0 622.2,126.5 624.6,126.7 627.1,126.5 630.0,126.0 633.4,125.0 637.2,123.5 641.1,122.0 645.0,121.0 648.6,120.7 652.2,120.8 655.9,121.1 660.0,121.5 664.6,122.0 669.7,122.7 674.9,123.4 680.0,124.0 685.1,124.4 690.3,124.6 695.4,124.8 700.0,125.0 703.9,125.2 707.2,125.2 710.7,125.5 715.0,126.0 720.7,127.0 727.2,128.3 733.9,129.7 740.0,131.0 745.5,132.3 750.6,133.8 755.5,135.0 760.0,135.6 764.1,135.6 767.8,135.1 771.4,134.2 775.0,133.0 778.9,131.5 782.8,129.6 786.6,127.5 790.0,125.4 792.7,123.3 795.0,121.2 797.3,119.1 800.0,117.0 803.4,114.8 807.2,112.5 811.1,110.6 815.0,109.5 818.6,109.5 822.2,110.3 825.9,111.6 830.0,113.0 834.9,114.8 840.3,117.0 845.6,119.2 850.0,121.0 853.0,122.3 855.1,123.3 857.2,123.9 860.0,124.2 864.2,124.1 869.3,123.6 874.2,122.7 878.0,121.6 879.9,119.9 880.6,117.7 881.2,115.7 883.0,114.3 885.6,113.9 888.7,114.2 893.1,114.7 900.0,115.0 910.9,115.1 924.8,115.3 938.8,115.4 950.0,115.5 957.2,115.6 962.2,115.7 966.1,115.8 970.0,116.0 974.2,116.3 978.1,116.6 981.6,117.0 985.0,117.5 988.3,118.1 991.4,118.8 994.1,119.5 996.0,120.0 996,0" fill="rgb(72,72,72)"/>
<polyline points="534.0,119.4 535.9,119.0 538.6,118.5 541.7,117.9 545.0,117.5 548.5,117.2 552.2,117.0 556.2,116.9 560.0,117.0 563.9,117.5 567.8,118.2 571.6,118.9 575.0,119.5 577.7,119.8 580.0,120.1 582.3,120.1 585.0,120.0 588.5,119.4 592.4,118.5 596.3,117.7 600.0,117.3 603.3,117.5 606.4,118.1 609.4,119.0 612.0,120.0 614.2,121.4 616.1,123.2 618.0,124.8 620.0,126.0 622.2,126.5 624.6,126.7 627.1,126.5 630.0,126.0 633.4,125.0 637.2,123.5 641.1,122.0 645.0,121.0 648.6,120.7 652.2,120.8 655.9,121.1 660.0,121.5 664.6,122.0 669.7,122.7 674.9,123.4 680.0,124.0 685.1,124.4 690.3,124.6 695.4,124.8 700.0,125.0 703.9,125.2 707.2,125.2 710.7,125.5 715.0,126.0 720.7,127.0 727.2,128.3 733.9,129.7 740.0,131.0 745.5,132.3 750.6,133.8 755.5,135.0 760.0,135.6 764.1,135.6 767.8,135.1 771.4,134.2 775.0,133.0 778.9,131.5 782.8,129.6 786.6,127.5 790.0,125.4 792.7,123.3 795.0,121.2 797.3,119.1 800.0,117.0 803.4,114.8 807.2,112.5 811.1,110.6 815.0,109.5 818.6,109.5 822.2,110.3 825.9,111.6 830.0,113.0 834.9,114.8 840.3,117.0 845.6,119.2 850.0,121.0 853.0,122.3 855.1,123.3 857.2,123.9 860.0,124.2 864.2,124.1 869.3,123.6 874.2,122.7 878.0,121.6 879.9,119.9 880.6,117.7 881.2,115.7 883.0,114.3 885.6,113.9 888.7,114.2 893.1,114.7 900.0,115.0 910.9,115.1 924.8,115.3 938.8,115.4 950.0,115.5 957.2,115.6 962.2,115.7 966.1,115.8 970.0,116.0 974.2,116.3 978.1,116.6 981.6,117.0 985.0,117.5 988.3,118.1 991.4,118.8 994.1,119.5 996.0,120.0" fill="none" stroke="rgb(140,140,140)" stroke-width="2.4" stroke-linejoin="round" stroke-linecap="round" filter="url(#blur1)"/>
<rect x="534" y="13.3" width="461.6" height="345" filter="url(#grainB)" opacity="0.08"/>
</g>
<rect x="839.3" y="23.1" width="143.4" height="33.7" fill="#fff"/>
<line x1="894.5" y1="45.9" x2="914.4" y2="45.9" stroke="#222" stroke-width="2.2"/>
<text x="923.15" y="47.40" font-size="17.02" fill="#222"  >100 nm</text>
<rect x="328.7" y="24.8" width="143.3" height="33.9" fill="#fff"/>
<line x1="334.8" y1="47.3" x2="410.2" y2="47.3" stroke="#222" stroke-width="2.2"/>
<text x="412.65" y="48.90" font-size="17.08" fill="#222"  >100 nm</text>
<polyline points="1079.0,319.8 1079.2,319.8 1079.4,319.8 1079.6,319.8 1079.8,319.8 1080.0,319.8 1080.2,319.8 1080.4,319.8 1080.6,319.8 1080.9,319.8 1081.1,319.8 1081.3,319.8 1081.5,319.8 1081.7,319.8 1081.9,319.8 1082.1,319.8 1082.3,319.8 1082.5,319.8 1082.7,319.8 1082.9,319.8 1083.1,319.8 1083.3,319.8 1083.5,319.8 1083.7,319.8 1083.9,319.8 1084.1,319.8 1084.4,319.8 1084.6,319.8 1084.8,319.8 1085.0,319.8 1085.2,319.8 1085.4,319.8 1085.6,319.8 1085.8,319.8 1086.0,319.8 1086.2,319.8 1086.4,319.8 1086.6,319.8 1086.8,319.8 1087.0,319.8 1087.2,319.8 1087.4,319.8 1087.6,319.8 1087.8,319.8 1088.1,319.8 1088.3,319.8 1088.5,319.8 1088.7,319.8 1088.9,319.8 1089.1,319.8 1089.3,319.8 1089.5,319.8 1089.7,319.8 1089.9,319.8 1090.1,319.8 1090.3,319.8 1090.5,319.8 1090.7,319.8 1090.9,319.8 1091.1,319.8 1091.3,319.8 1091.6,319.8 1091.8,319.8 1092.0,319.8 1092.2,319.8 1092.4,319.8 1092.6,319.8 1092.8,319.8 1093.0,319.8 1093.2,319.8 1093.4,319.8 1093.6,319.8 1093.8,319.8 1094.0,319.8 1094.2,319.8 1094.4,319.8 1094.6,319.8 1094.8,319.8 1095.1,319.8 1095.3,319.8 1095.5,319.8 1095.7,319.8 1095.9,319.8 1096.1,319.8 1096.3,319.8 1096.5,319.8 1096.7,319.8 1096.9,319.8 1097.1,319.8 1097.3,319.8 1097.5,319.8 1097.7,319.8 1097.9,319.8 1098.1,319.8 1098.3,319.8 1098.6,319.8 1098.8,319.8 1099.0,319.8 1099.2,319.8 1099.4,319.8 1099.6,319.8 1099.8,319.8 1100.0,319.8 1100.2,319.8 1100.4,319.8 1100.6,319.8 1100.8,319.8 1101.0,319.8 1101.2,319.8 1101.4,319.8 1101.6,319.8 1101.8,319.8 1102.0,319.8 1102.3,319.8 1102.5,319.8 1102.7,319.8 1102.9,319.8 1103.1,319.8 1103.3,319.8 1103.5,319.8 1103.7,319.8 1103.9,319.8 1104.1,319.8 1104.3,319.8 1104.5,319.8 1104.7,319.8 1104.9,319.8 1105.1,319.8 1105.3,319.8 1105.5,319.8 1105.8,319.8 1106.0,319.8 1106.2,319.8 1106.4,319.8 1106.6,319.8 1106.8,319.8 1107.0,319.8 1107.2,319.8 1107.4,319.8 1107.6,319.8 1107.8,319.8 1108.0,319.8 1108.2,319.8 1108.4,319.8 1108.6,319.8 1108.8,319.8 1109.0,319.8 1109.3,319.8 1109.5,319.8 1109.7,319.8 1109.9,319.8 1110.1,319.8 1110.3,319.8 1110.5,319.8 1110.7,319.8 1110.9,319.8 1111.1,319.8 1111.3,319.8 1111.5,319.8 1111.7,319.8 1111.9,319.8 1112.1,319.8 1112.3,319.8 1112.5,319.8 1112.8,319.8 1113.0,319.8 1113.2,319.8 1113.4,319.8 1113.6,319.8 1113.8,319.8 1114.0,319.8 1114.2,319.8 1114.4,319.8 1114.6,319.8 1114.8,319.8 1115.0,319.8 1115.2,319.8 1115.4,319.8 1115.6,319.8 1115.8,319.8 1116.0,319.8 1116.2,319.8 1116.5,319.8 1116.7,319.8 1116.9,319.8 1117.1,319.8 1117.3,319.8 1117.5,319.8 1117.7,319.8 1117.9,319.8 1118.1,319.8 1118.3,319.8 1118.5,319.8 1118.7,319.8 1118.9,319.8 1119.1,319.8 1119.3,319.8 1119.5,319.8 1119.7,319.8 1120.0,319.8 1120.2,319.8 1120.4,319.8 1120.6,319.8 1120.8,319.8 1121.0,319.8 1121.2,319.8 1121.4,319.8 1121.6,319.8 1121.8,319.8 1122.0,319.8 1122.2,319.8 1122.4,319.8 1122.6,319.8 1122.8,319.8 1123.0,319.8 1123.2,319.8 1123.5,319.8 1123.7,319.8 1123.9,319.8 1124.1,319.8 1124.3,319.8 1124.5,319.8 1124.7,319.8 1124.9,319.8 1125.1,319.8 1125.3,319.8 1125.5,319.8 1125.7,319.8 1125.9,319.8 1126.1,319.8 1126.3,319.8 1126.5,319.8 1126.7,319.8 1127.0,319.8 1127.2,319.8 1127.4,319.8 1127.6,319.8 1127.8,319.8 1128.0,319.8 1128.2,319.8 1128.4,319.8 1128.6,319.8 1128.8,319.8 1129.0,319.8 1129.2,319.8 1129.4,319.8 1129.6,319.8 1129.8,319.8 1130.0,319.8 1130.2,319.8 1130.4,319.8 1130.7,319.8 1130.9,319.8 1131.1,319.8 1131.3,319.8 1131.5,319.8 1131.7,319.8 1131.9,319.8 1132.1,319.8 1132.3,319.8 1132.5,319.8 1132.7,319.8 1132.9,319.8 1133.1,319.8 1133.3,319.8 1133.5,319.8 1133.7,319.8 1133.9,319.8 1134.2,319.8 1134.4,319.8 1134.6,319.8 1134.8,319.8 1135.0,319.8 1135.2,319.8 1135.4,319.8 1135.6,319.8 1135.8,319.8 1136.0,319.8 1136.2,319.8 1136.4,319.8 1136.6,319.8 1136.8,319.8 1137.0,319.8 1137.2,319.8 1137.4,319.8 1137.7,319.8 1137.9,319.8 1138.1,319.8 1138.3,319.8 1138.5,319.8 1138.7,319.8 1138.9,319.8 1139.1,319.8 1139.3,319.8 1139.5,319.8 1139.7,319.8 1139.9,319.8 1140.1,319.8 1140.3,319.8 1140.5,319.8 1140.7,319.8 1140.9,319.8 1141.2,319.8 1141.4,319.8 1141.6,319.8 1141.8,319.8 1142.0,319.8 1142.2,319.8 1142.4,319.8 1142.6,319.8 1142.8,319.8 1143.0,319.8 1143.2,319.8 1143.4,319.8 1143.6,319.8 1143.8,319.8 1144.0,319.8 1144.2,319.8 1144.4,319.8 1144.7,319.8 1144.9,319.8 1145.1,319.8 1145.3,319.8 1145.5,319.8 1145.7,319.8 1145.9,319.8 1146.1,319.8 1146.3,319.8 1146.5,319.8 1146.7,319.8 1146.9,319.8 1147.1,319.8 1147.3,319.8 1147.5,319.8 1147.7,319.8 1147.9,319.8 1148.1,319.8 1148.4,319.8 1148.6,319.8 1148.8,319.8 1149.0,319.8 1149.2,319.8 1149.4,319.8 1149.6,319.8 1149.8,319.8 1150.0,319.8 1150.2,319.8 1150.4,319.8 1150.6,319.8 1150.8,319.8 1151.0,319.8 1151.2,319.8 1151.4,319.8 1151.6,319.8 1151.9,319.8 1152.1,319.8 1152.3,319.8 1152.5,319.8 1152.7,319.8 1152.9,319.8 1153.1,319.8 1153.3,319.8 1153.5,319.8 1153.7,319.8 1153.9,319.8 1154.1,319.8 1154.3,319.8 1154.5,319.8 1154.7,319.8 1154.9,319.8 1155.1,319.8 1155.4,319.8 1155.6,319.8 1155.8,319.8 1156.0,319.8 1156.2,319.8 1156.4,319.8 1156.6,319.8 1156.8,319.8 1157.0,319.8 1157.2,319.8 1157.4,319.8 1157.6,319.8 1157.8,319.8 1158.0,319.8 1158.2,319.8 1158.4,319.8 1158.6,319.8 1158.9,319.8 1159.1,319.8 1159.3,319.8 1159.5,319.8 1159.7,319.8 1159.9,319.8 1160.1,319.8 1160.3,319.8 1160.5,319.8 1160.7,319.8 1160.9,319.8 1161.1,319.8 1161.3,319.8 1161.5,319.8 1161.7,319.8 1161.9,319.8 1162.1,319.8 1162.3,319.8 1162.6,319.8 1162.8,319.8 1163.0,319.8 1163.2,319.8 1163.4,319.8 1163.6,319.8 1163.8,319.8 1164.0,319.8 1164.2,319.8 1164.4,319.8 1164.6,319.8 1164.8,319.8 1165.0,319.8 1165.2,319.8 1165.4,319.8 1165.6,319.8 1165.8,319.8 1166.1,319.8 1166.3,319.8 1166.5,319.8 1166.7,319.8 1166.9,319.8 1167.1,319.8 1167.3,319.8 1167.5,319.8 1167.7,319.8 1167.9,319.8 1168.1,319.8 1168.3,319.8 1168.5,319.8 1168.7,319.8 1168.9,319.8 1169.1,319.8 1169.3,319.8 1169.6,319.8 1169.8,319.8 1170.0,319.8 1170.2,319.8 1170.4,319.8 1170.6,319.8 1170.8,319.8 1171.0,319.8 1171.2,319.8 1171.4,319.8 1171.6,319.8 1171.8,319.8 1172.0,319.8 1172.2,319.8 1172.4,319.8 1172.6,319.8 1172.8,319.8 1173.1,319.8 1173.3,319.8 1173.5,319.8 1173.7,319.8 1173.9,319.8 1174.1,319.8 1174.3,319.8 1174.5,319.8 1174.7,319.8 1174.9,319.8 1175.1,319.8 1175.3,319.8 1175.5,319.8 1175.7,319.8 1175.9,319.8 1176.1,319.8 1176.3,319.8 1176.5,319.8 1176.8,319.8 1177.0,319.8 1177.2,319.8 1177.4,319.8 1177.6,319.8 1177.8,319.8 1178.0,319.8 1178.2,319.8 1178.4,319.8 1178.6,319.8 1178.8,319.8 1179.0,319.8 1179.2,319.8 1179.4,319.8 1179.6,319.8 1179.8,319.8 1180.0,319.8 1180.3,319.8 1180.5,319.8 1180.7,319.8 1180.9,319.8 1181.1,319.8 1181.3,319.8 1181.5,319.8 1181.7,319.8 1181.9,319.8 1182.1,319.8 1182.3,319.8 1182.5,319.8 1182.7,319.8 1182.9,319.8 1183.1,319.8 1183.3,319.8 1183.5,319.8 1183.8,319.8 1184.0,319.8 1184.2,319.8 1184.4,319.8 1184.6,319.8 1184.8,319.8 1185.0,319.8 1185.2,319.8 1185.4,319.8 1185.6,319.8 1185.8,319.8 1186.0,319.8 1186.2,319.8 1186.4,319.8 1186.6,319.8 1186.8,319.8 1187.0,319.8 1187.3,319.8 1187.5,319.8 1187.7,319.8 1187.9,319.8 1188.1,319.8 1188.3,319.8 1188.5,319.8 1188.7,319.8 1188.9,319.8 1189.1,319.8 1189.3,319.8 1189.5,319.8 1189.7,319.8 1189.9,319.8 1190.1,319.8 1190.3,319.8 1190.5,319.8 1190.7,319.8 1191.0,319.8 1191.2,319.8 1191.4,319.8 1191.6,319.8 1191.8,319.8 1192.0,319.8 1192.2,319.8 1192.4,319.8 1192.6,319.8 1192.8,319.8 1193.0,319.8 1193.2,319.8 1193.4,319.8 1193.6,319.8 1193.8,319.8 1194.0,319.8 1194.2,319.8 1194.5,319.8 1194.7,319.8 1194.9,319.8 1195.1,319.8 1195.3,319.8 1195.5,319.8 1195.7,319.8 1195.9,319.8 1196.1,319.8 1196.3,319.8 1196.5,319.8 1196.7,319.8 1196.9,319.8 1197.1,319.8 1197.3,319.8 1197.5,319.8 1197.7,319.8 1198.0,319.8 1198.2,319.8 1198.4,319.8 1198.6,319.8 1198.8,319.8 1199.0,319.8 1199.2,319.8 1199.4,319.8 1199.6,319.8 1199.8,319.8 1200.0,319.8 1200.2,319.8 1200.4,319.8 1200.6,319.8 1200.8,319.8 1201.0,319.8 1201.2,319.8 1201.5,319.8 1201.7,319.8 1201.9,319.8 1202.1,319.8 1202.3,319.8 1202.5,319.8 1202.7,319.8 1202.9,319.8 1203.1,319.8 1203.3,319.8 1203.5,319.8 1203.7,319.8 1203.9,319.8 1204.1,319.8 1204.3,319.8 1204.5,319.8 1204.7,319.8 1204.9,319.8 1205.2,319.8 1205.4,319.8 1205.6,319.8 1205.8,319.8 1206.0,319.8 1206.2,319.8 1206.4,319.8 1206.6,319.8 1206.8,319.8 1207.0,319.8 1207.2,319.8 1207.4,319.8 1207.6,319.8 1207.8,319.8 1208.0,319.8 1208.2,319.8 1208.4,319.8 1208.7,319.8 1208.9,319.8 1209.1,319.8 1209.3,319.8 1209.5,319.8 1209.7,319.8 1209.9,319.8 1210.1,319.8 1210.3,319.8 1210.5,319.8 1210.7,319.8 1210.9,319.8 1211.1,319.8 1211.3,319.8 1211.5,319.8 1211.7,319.8 1211.9,319.8 1212.2,319.8 1212.4,319.8 1212.6,319.8 1212.8,319.8 1213.0,319.8 1213.2,319.8 1213.4,319.8 1213.6,319.8 1213.8,319.8 1214.0,319.8 1214.2,319.8 1214.4,319.8 1214.6,319.8 1214.8,319.8 1215.0,319.8 1215.2,319.8 1215.4,319.8 1215.7,319.8 1215.9,319.8 1216.1,319.8 1216.3,319.8 1216.5,319.8 1216.7,319.8 1216.9,319.8 1217.1,319.8 1217.3,319.8 1217.5,319.8 1217.7,319.8 1217.9,319.8 1218.1,319.8 1218.3,319.8 1218.5,319.8 1218.7,319.8 1218.9,319.8 1219.1,319.8 1219.4,319.8 1219.6,319.8 1219.8,319.8 1220.0,319.8 1220.2,319.8 1220.4,319.8 1220.6,319.8 1220.8,319.8 1221.0,319.8 1221.2,319.8 1221.4,319.8 1221.6,319.8 1221.8,319.8 1222.0,319.8 1222.2,319.8 1222.4,319.8 1222.6,319.8 1222.9,319.8 1223.1,319.8 1223.3,319.8 1223.5,319.8 1223.7,319.8 1223.9,319.8 1224.1,319.8 1224.3,319.8 1224.5,319.8 1224.7,319.8 1224.9,319.8 1225.1,319.8 1225.3,319.8 1225.5,319.8 1225.7,319.8 1225.9,319.8 1226.1,319.8 1226.4,319.8 1226.6,319.8 1226.8,319.8 1227.0,319.8 1227.2,319.8 1227.4,319.8 1227.6,319.8 1227.8,319.8 1228.0,319.8 1228.2,319.8 1228.4,319.8 1228.6,319.8 1228.8,319.8 1229.0,319.8 1229.2,319.8 1229.4,319.8 1229.6,319.8 1229.9,319.8 1230.1,319.8 1230.3,319.8 1230.5,319.8 1230.7,319.8 1230.9,319.8 1231.1,319.8 1231.3,319.8 1231.5,319.8 1231.7,319.8 1231.9,319.8 1232.1,319.8 1232.3,319.8 1232.5,319.8 1232.7,319.8 1232.9,319.8 1233.1,319.8 1233.3,319.8 1233.6,319.8 1233.8,319.8 1234.0,319.8 1234.2,319.8 1234.4,319.8 1234.6,319.8 1234.8,319.8 1235.0,319.8 1235.2,319.8 1235.4,319.8 1235.6,319.8 1235.8,319.8 1236.0,319.8 1236.2,319.8 1236.4,319.8 1236.6,319.8 1236.8,319.8 1237.1,319.8 1237.3,319.8 1237.5,319.8 1237.7,319.8 1237.9,319.8 1238.1,319.8 1238.3,319.8 1238.5,319.8 1238.7,319.8 1238.9,319.8 1239.1,319.8 1239.3,319.8 1239.5,319.8 1239.7,319.8 1239.9,319.8 1240.1,319.8 1240.3,319.8 1240.6,319.8 1240.8,319.8 1241.0,319.8 1241.2,319.8 1241.4,319.8 1241.6,319.8 1241.8,319.8 1242.0,319.8 1242.2,319.8 1242.4,319.8 1242.6,319.8 1242.8,319.8 1243.0,319.8 1243.2,319.8 1243.4,319.8 1243.6,319.8 1243.8,319.8 1244.1,319.8 1244.3,319.8 1244.5,319.8 1244.7,319.8 1244.9,319.8 1245.1,319.8 1245.3,319.8 1245.5,319.8 1245.7,319.8 1245.9,319.8 1246.1,319.8 1246.3,319.8 1246.5,319.8 1246.7,319.8 1246.9,319.8 1247.1,319.8 1247.3,319.8 1247.6,319.8 1247.8,319.8 1248.0,319.8 1248.2,319.8 1248.4,319.8 1248.6,319.7 1248.8,319.7 1249.0,319.5 1249.2,319.2 1249.4,318.7 1249.6,318.0 1249.8,316.9 1250.0,315.6 1250.2,314.3 1250.4,313.0 1250.6,312.1 1250.8,311.8 1251.0,312.1 1251.3,313.0 1251.5,314.3 1251.7,315.6 1251.9,316.9 1252.1,318.0 1252.3,318.7 1252.5,319.2 1252.7,319.5 1252.9,319.7 1253.1,319.7 1253.3,319.8 1253.5,319.8 1253.7,319.8 1253.9,319.8 1254.1,319.8 1254.3,319.8 1254.5,319.8 1254.8,319.8 1255.0,319.8 1255.2,319.8 1255.4,319.8 1255.6,319.8 1255.8,319.8 1256.0,319.8 1256.2,319.8 1256.4,319.8 1256.6,319.8 1256.8,319.8 1257.0,319.8 1257.2,319.8 1257.4,319.8 1257.6,319.8 1257.8,319.8 1258.0,319.8 1258.3,319.8 1258.5,319.8 1258.7,319.8 1258.9,319.8 1259.1,319.8 1259.3,319.8 1259.5,319.8 1259.7,319.8 1259.9,319.8 1260.1,319.8 1260.3,319.8 1260.5,319.8 1260.7,319.8 1260.9,319.8 1261.1,319.8 1261.3,319.8 1261.5,319.8 1261.8,319.8 1262.0,319.8 1262.2,319.8 1262.4,319.8 1262.6,319.8 1262.8,319.8 1263.0,319.8 1263.2,319.8 1263.4,319.8 1263.6,319.8 1263.8,319.8 1264.0,319.8 1264.2,319.8 1264.4,319.8 1264.6,319.8 1264.8,319.8 1265.0,319.8 1265.2,319.8 1265.5,319.8 1265.7,319.8 1265.9,319.8 1266.1,319.8 1266.3,319.8 1266.5,319.8 1266.7,319.8 1266.9,319.8 1267.1,319.8 1267.3,319.8 1267.5,319.8 1267.7,319.8 1267.9,319.8 1268.1,319.8 1268.3,319.8 1268.5,319.8 1268.7,319.8 1269.0,319.8 1269.2,319.8 1269.4,319.8 1269.6,319.8 1269.8,319.8 1270.0,319.8 1270.2,319.8 1270.4,319.8 1270.6,319.8 1270.8,319.8 1271.0,319.8 1271.2,319.8 1271.4,319.8 1271.6,319.8 1271.8,319.8 1272.0,319.8 1272.2,319.8 1272.5,319.8 1272.7,319.8 1272.9,319.8 1273.1,319.8 1273.3,319.8 1273.5,319.8 1273.7,319.8 1273.9,319.8 1274.1,319.8 1274.3,319.8 1274.5,319.8 1274.7,319.8 1274.9,319.8 1275.1,319.8 1275.3,319.8 1275.5,319.8 1275.7,319.8 1276.0,319.8 1276.2,319.8 1276.4,319.8 1276.6,319.8 1276.8,319.8 1277.0,319.8 1277.2,319.8 1277.4,319.8 1277.6,319.8 1277.8,319.8 1278.0,319.8 1278.2,319.8 1278.4,319.8 1278.6,319.8 1278.8,319.8 1279.0,319.8 1279.2,319.8 1279.4,319.8 1279.7,319.8 1279.9,319.8 1280.1,319.8 1280.3,319.8 1280.5,319.8 1280.7,319.8 1280.9,319.8 1281.1,319.8 1281.3,319.8 1281.5,319.8 1281.7,319.8 1281.9,319.8 1282.1,319.8 1282.3,319.8 1282.5,319.8 1282.7,319.8 1282.9,319.8 1283.2,319.8 1283.4,319.8 1283.6,319.8 1283.8,319.8 1284.0,319.8 1284.2,319.8 1284.4,319.8 1284.6,319.8 1284.8,319.8 1285.0,319.8 1285.2,319.8 1285.4,319.8 1285.6,319.8 1285.8,319.8 1286.0,319.8 1286.2,319.8 1286.4,319.8 1286.7,319.8 1286.9,319.8 1287.1,319.8 1287.3,319.8 1287.5,319.8 1287.7,319.8 1287.9,319.8 1288.1,319.8 1288.3,319.8 1288.5,319.8 1288.7,319.8 1288.9,319.8 1289.1,319.8 1289.3,319.8 1289.5,319.8 1289.7,319.8 1289.9,319.8 1290.2,319.8 1290.4,319.8 1290.6,319.8 1290.8,319.8 1291.0,319.8 1291.2,319.8 1291.4,319.8 1291.6,319.8 1291.8,319.8 1292.0,319.8 1292.2,319.8 1292.4,319.8 1292.6,319.8 1292.8,319.8 1293.0,319.8 1293.2,319.8 1293.4,319.8 1293.6,319.8 1293.9,319.8 1294.1,319.8 1294.3,319.8 1294.5,319.8 1294.7,319.8 1294.9,319.8 1295.1,319.8 1295.3,319.8 1295.5,319.8 1295.7,319.8 1295.9,319.8 1296.1,319.8 1296.3,319.8 1296.5,319.8 1296.7,319.8 1296.9,319.8 1297.1,319.8 1297.4,319.8 1297.6,319.8 1297.8,319.8 1298.0,319.8 1298.2,319.8 1298.4,319.8 1298.6,319.8 1298.8,319.8 1299.0,319.8 1299.2,319.8 1299.4,319.8 1299.6,319.8 1299.8,319.8 1300.0,319.8 1300.2,319.8 1300.4,319.8 1300.6,319.8 1300.9,319.8 1301.1,319.8 1301.3,319.8 1301.5,319.8 1301.7,319.8 1301.9,319.8 1302.1,319.8 1302.3,319.8 1302.5,319.8 1302.7,319.8 1302.9,319.8 1303.1,319.8 1303.3,319.8 1303.5,319.8 1303.7,319.8 1303.9,319.8 1304.1,319.8 1304.4,319.8 1304.6,319.8 1304.8,319.8 1305.0,319.8 1305.2,319.8 1305.4,319.8 1305.6,319.8 1305.8,319.8 1306.0,319.8 1306.2,319.8 1306.4,319.8 1306.6,319.8 1306.8,319.8 1307.0,319.8 1307.2,319.8 1307.4,319.8 1307.6,319.8 1307.8,319.8 1308.1,319.8 1308.3,319.8 1308.5,319.8 1308.7,319.8 1308.9,319.8 1309.1,319.8 1309.3,319.8 1309.5,319.7 1309.7,319.4 1309.9,318.9 1310.1,317.7 1310.3,315.4 1310.5,311.3 1310.7,304.8 1310.9,295.4 1311.1,283.0 1311.3,268.9 1311.6,254.7 1311.8,243.2 1312.0,236.7 1312.2,236.7 1312.4,243.2 1312.6,254.7 1312.8,268.9 1313.0,283.0 1313.2,295.4 1313.4,304.8 1313.6,311.3 1313.8,315.4 1314.0,317.7 1314.2,318.9 1314.4,319.4 1314.6,319.7 1314.8,319.8 1315.1,319.8 1315.3,319.8 1315.5,319.8 1315.7,319.8 1315.9,319.8 1316.1,319.8 1316.3,319.8 1316.5,319.8 1316.7,319.8 1316.9,319.8 1317.1,319.8 1317.3,319.8 1317.5,319.8 1317.7,319.8 1317.9,319.8 1318.1,319.8 1318.3,319.8 1318.6,319.8 1318.8,319.8 1319.0,319.8 1319.2,319.8 1319.4,319.8 1319.6,319.8 1319.8,319.8 1320.0,319.8 1320.2,319.8 1320.4,319.8 1320.6,319.8 1320.8,319.8 1321.0,319.8 1321.2,319.8 1321.4,319.8 1321.6,319.8 1321.8,319.8 1322.0,319.8 1322.3,319.8 1322.5,319.8 1322.7,319.8 1322.9,319.8 1323.1,319.8 1323.3,319.8 1323.5,319.8 1323.7,319.8 1323.9,319.8 1324.1,319.8 1324.3,319.8 1324.5,319.8 1324.7,319.8 1324.9,319.8 1325.1,319.8 1325.3,319.8 1325.5,319.8 1325.8,319.8 1326.0,319.8 1326.2,319.8 1326.4,319.8 1326.6,319.8 1326.8,319.8 1327.0,319.8 1327.2,319.8 1327.4,319.8 1327.6,319.8 1327.8,319.8 1328.0,319.8 1328.2,319.8 1328.4,319.8 1328.6,319.8 1328.8,319.8 1329.0,319.8 1329.3,319.8 1329.5,319.8 1329.7,319.8 1329.9,319.8 1330.1,319.8 1330.3,319.8 1330.5,319.8 1330.7,319.8 1330.9,319.8 1331.1,319.8 1331.3,319.8 1331.5,319.8 1331.7,319.8 1331.9,319.8 1332.1,319.8 1332.3,319.8 1332.5,319.8 1332.8,319.8 1333.0,319.8 1333.2,319.8 1333.4,319.8 1333.6,319.8 1333.8,319.8 1334.0,319.8 1334.2,319.8 1334.4,319.8 1334.6,319.8 1334.8,319.8 1335.0,319.8 1335.2,319.8 1335.4,319.8 1335.6,319.8 1335.8,319.8 1336.0,319.8 1336.2,319.8 1336.5,319.8 1336.7,319.8 1336.9,319.8 1337.1,319.8 1337.3,319.8 1337.5,319.8 1337.7,319.8 1337.9,319.8 1338.1,319.8 1338.3,319.8 1338.5,319.8 1338.7,319.8 1338.9,319.8 1339.1,319.8 1339.3,319.8 1339.5,319.8 1339.7,319.8 1340.0,319.8 1340.2,319.8 1340.4,319.8 1340.6,319.8 1340.8,319.8 1341.0,319.8 1341.2,319.8 1341.4,319.8 1341.6,319.8 1341.8,319.8 1342.0,319.8 1342.2,319.8 1342.4,319.8 1342.6,319.8 1342.8,319.8 1343.0,319.8 1343.2,319.8 1343.5,319.8 1343.7,319.8 1343.9,319.8 1344.1,319.8 1344.3,319.8 1344.5,319.8 1344.7,319.8 1344.9,319.8 1345.1,319.8 1345.3,319.8 1345.5,319.8 1345.7,319.8 1345.9,319.8 1346.1,319.8 1346.3,319.8 1346.5,319.8 1346.7,319.8 1347.0,319.8 1347.2,319.8 1347.4,319.8 1347.6,319.8 1347.8,319.8 1348.0,319.8 1348.2,319.8 1348.4,319.8 1348.6,319.8 1348.8,319.8 1349.0,319.8 1349.2,319.8 1349.4,319.8 1349.6,319.8 1349.8,319.8 1350.0,319.8 1350.2,319.8 1350.5,319.8 1350.7,319.8 1350.9,319.8 1351.1,319.8 1351.3,319.8 1351.5,319.8 1351.7,319.8 1351.9,319.8 1352.1,319.8 1352.3,319.8 1352.5,319.8 1352.7,319.8 1352.9,319.8 1353.1,319.8 1353.3,319.8 1353.5,319.8 1353.7,319.8 1353.9,319.8 1354.2,319.8 1354.4,319.8 1354.6,319.8 1354.8,319.8 1355.0,319.8 1355.2,319.8 1355.4,319.8 1355.6,319.8 1355.8,319.8 1356.0,319.8 1356.2,319.8 1356.4,319.8 1356.6,319.8 1356.8,319.8 1357.0,319.8 1357.2,319.8 1357.4,319.8 1357.7,319.8 1357.9,319.8 1358.1,319.8 1358.3,319.8 1358.5,319.8 1358.7,319.8 1358.9,319.8 1359.1,319.8 1359.3,319.8 1359.5,319.8 1359.7,319.8 1359.9,319.8 1360.1,319.8 1360.3,319.8 1360.5,319.8 1360.7,319.8 1360.9,319.8 1361.2,319.8 1361.4,319.8 1361.6,319.8 1361.8,319.8 1362.0,319.8 1362.2,319.8 1362.4,319.8 1362.6,319.8 1362.8,319.8 1363.0,319.8 1363.2,319.8 1363.4,319.8 1363.6,319.8 1363.8,319.8 1364.0,319.8 1364.2,319.8 1364.4,319.8 1364.7,319.8 1364.9,319.8 1365.1,319.8 1365.3,319.8 1365.5,319.8 1365.7,319.8 1365.9,319.8 1366.1,319.8 1366.3,319.8 1366.5,319.8 1366.7,319.8 1366.9,319.8 1367.1,319.8 1367.3,319.8 1367.5,319.8 1367.7,319.8 1367.9,319.8 1368.1,319.8 1368.4,319.8 1368.6,319.8 1368.8,319.8 1369.0,319.8 1369.2,319.8 1369.4,319.8 1369.6,319.8 1369.8,319.8 1370.0,319.8 1370.2,319.8 1370.4,319.8 1370.6,319.8 1370.8,319.8 1371.0,319.8 1371.2,319.8 1371.4,319.8 1371.6,319.8 1371.9,319.8 1372.1,319.8 1372.3,319.8 1372.5,319.8 1372.7,319.8 1372.9,319.8 1373.1,319.8 1373.3,319.8 1373.5,319.8 1373.7,319.8 1373.9,319.8 1374.1,319.8 1374.3,319.8 1374.5,319.8 1374.7,319.8 1374.9,319.8 1375.1,319.8 1375.4,319.8 1375.6,319.8 1375.8,319.8 1376.0,319.8 1376.2,319.8 1376.4,319.8 1376.6,319.8 1376.8,319.8 1377.0,319.8 1377.2,319.8 1377.4,319.8 1377.6,319.8 1377.8,319.8 1378.0,319.8 1378.2,319.8 1378.4,319.8 1378.6,319.8 1378.9,319.8 1379.1,319.8 1379.3,319.8 1379.5,319.8 1379.7,319.8 1379.9,319.8 1380.1,319.8 1380.3,319.8 1380.5,319.8 1380.7,319.8 1380.9,319.8 1381.1,319.8 1381.3,319.8 1381.5,319.8 1381.7,319.8 1381.9,319.8 1382.1,319.8 1382.3,319.8 1382.6,319.8 1382.8,319.8 1383.0,319.8 1383.2,319.8 1383.4,319.8 1383.6,319.8 1383.8,319.8 1384.0,319.8 1384.2,319.8 1384.4,319.8 1384.6,319.8 1384.8,319.8 1385.0,319.8 1385.2,319.8 1385.4,319.8 1385.6,319.8 1385.8,319.8 1386.1,319.8 1386.3,319.8 1386.5,319.8 1386.7,319.8 1386.9,319.8 1387.1,319.8 1387.3,319.8 1387.5,319.8 1387.7,319.8 1387.9,319.8 1388.1,319.8 1388.3,319.8 1388.5,319.8 1388.7,319.8 1388.9,319.8 1389.1,319.8 1389.3,319.8 1389.6,319.8 1389.8,319.8 1390.0,319.8 1390.2,319.8 1390.4,319.8 1390.6,319.8 1390.8,319.8 1391.0,319.8 1391.2,319.8 1391.4,319.8 1391.6,319.8 1391.8,319.8 1392.0,319.8 1392.2,319.8 1392.4,319.8 1392.6,319.8 1392.8,319.8 1393.1,319.8 1393.3,319.8 1393.5,319.8 1393.7,319.8 1393.9,319.8 1394.1,319.8 1394.3,319.8 1394.5,319.8 1394.7,319.8 1394.9,319.8 1395.1,319.8 1395.3,319.8 1395.5,319.8 1395.7,319.8 1395.9,319.8 1396.1,319.8 1396.3,319.8 1396.5,319.8 1396.8,319.8 1397.0,319.8 1397.2,319.8 1397.4,319.8 1397.6,319.8 1397.8,319.8 1398.0,319.8 1398.2,319.8 1398.4,319.8 1398.6,319.8 1398.8,319.8 1399.0,319.8 1399.2,319.8 1399.4,319.8 1399.6,319.8 1399.8,319.8 1400.0,319.8 1400.3,319.8 1400.5,319.8 1400.7,319.8 1400.9,319.8 1401.1,319.8 1401.3,319.8 1401.5,319.8 1401.7,319.8 1401.9,319.8 1402.1,319.8 1402.3,319.8 1402.5,319.8 1402.7,319.8 1402.9,319.8 1403.1,319.8 1403.3,319.8 1403.5,319.8 1403.8,319.8 1404.0,319.8 1404.2,319.8 1404.4,319.8 1404.6,319.8 1404.8,319.8 1405.0,319.8 1405.2,319.8 1405.4,319.8 1405.6,319.8 1405.8,319.8 1406.0,319.8 1406.2,319.8 1406.4,319.8 1406.6,319.8 1406.8,319.8 1407.0,319.8 1407.3,319.8 1407.5,319.8 1407.7,319.8 1407.9,319.8 1408.1,319.8 1408.3,319.8 1408.5,319.8 1408.7,319.8 1408.9,319.8 1409.1,319.8 1409.3,319.8 1409.5,319.8 1409.7,319.8 1409.9,319.8 1410.1,319.8 1410.3,319.8 1410.5,319.8 1410.7,319.8 1411.0,319.8 1411.2,319.8 1411.4,319.8 1411.6,319.8 1411.8,319.8 1412.0,319.8 1412.2,319.8 1412.4,319.8 1412.6,319.8 1412.8,319.8 1413.0,319.8 1413.2,319.8 1413.4,319.8 1413.6,319.8 1413.8,319.8 1414.0,319.8 1414.2,319.8 1414.5,319.8 1414.7,319.8 1414.9,319.8 1415.1,319.8 1415.3,319.8 1415.5,319.8 1415.7,319.8 1415.9,319.8 1416.1,319.8 1416.3,319.8 1416.5,319.8 1416.7,319.8 1416.9,319.8 1417.1,319.8 1417.3,319.8 1417.5,319.8 1417.7,319.8 1418.0,319.8 1418.2,319.8 1418.4,319.8 1418.6,319.8 1418.8,319.8 1419.0,319.8 1419.2,319.8 1419.4,319.8 1419.6,319.8 1419.8,319.8 1420.0,319.8 1420.2,319.8 1420.4,319.8 1420.6,319.8 1420.8,319.8 1421.0,319.8 1421.2,319.8 1421.5,319.8 1421.7,319.8 1421.9,319.8 1422.1,319.8 1422.3,319.8 1422.5,319.8 1422.7,319.8 1422.9,319.8 1423.1,319.8 1423.3,319.8 1423.5,319.8 1423.7,319.8 1423.9,319.8 1424.1,319.8 1424.3,319.8 1424.5,319.8 1424.7,319.8 1424.9,319.8 1425.2,319.8 1425.4,319.8 1425.6,319.8 1425.8,319.8 1426.0,319.8 1426.2,319.8 1426.4,319.8 1426.6,319.8 1426.8,319.8 1427.0,319.8 1427.2,319.8 1427.4,319.8 1427.6,319.8 1427.8,319.8 1428.0,319.8 1428.2,319.8 1428.4,319.8 1428.7,319.8 1428.9,319.8 1429.1,319.8 1429.3,319.8 1429.5,319.8 1429.7,319.8 1429.9,319.8 1430.1,319.8 1430.3,319.8 1430.5,319.8 1430.7,319.8 1430.9,319.8 1431.1,319.8 1431.3,319.8 1431.5,319.8 1431.7,319.8 1431.9,319.8 1432.2,319.8 1432.4,319.8 1432.6,319.8 1432.8,319.8 1433.0,319.8 1433.2,319.8 1433.4,319.8 1433.6,319.8 1433.8,319.8 1434.0,319.8 1434.2,319.8 1434.4,319.8 1434.6,319.8 1434.8,319.8 1435.0,319.8 1435.2,319.8 1435.4,319.8 1435.7,319.8 1435.9,319.8 1436.1,319.8 1436.3,319.8 1436.5,319.8 1436.7,319.8 1436.9,319.8 1437.1,319.8 1437.3,319.8 1437.5,319.8 1437.7,319.8 1437.9,319.8 1438.1,319.8 1438.3,319.8 1438.5,319.8 1438.7,319.8 1438.9,319.8 1439.1,319.8 1439.4,319.8 1439.6,319.8 1439.8,319.8 1440.0,319.8 1440.2,319.8 1440.4,319.8 1440.6,319.8 1440.8,319.8 1441.0,319.8 1441.2,319.8 1441.4,319.8 1441.6,319.8 1441.8,319.8 1442.0,319.8 1442.2,319.8 1442.4,319.8 1442.6,319.8 1442.9,319.8 1443.1,319.8 1443.3,319.8 1443.5,319.8 1443.7,319.8 1443.9,319.8 1444.1,319.8 1444.3,319.8 1444.5,319.8 1444.7,319.8 1444.9,319.8 1445.1,319.8 1445.3,319.8 1445.5,319.8 1445.7,319.8 1445.9,319.8 1446.1,319.8 1446.4,319.8 1446.6,319.8 1446.8,319.8 1447.0,319.8 1447.2,319.8 1447.4,319.8 1447.6,319.8 1447.8,319.8 1448.0,319.8 1448.2,319.8 1448.4,319.8 1448.6,319.8 1448.8,319.8 1449.0,319.8 1449.2,319.8 1449.4,319.8 1449.6,319.8 1449.9,319.8 1450.1,319.8 1450.3,319.8 1450.5,319.8 1450.7,319.8 1450.9,319.8 1451.1,319.8 1451.3,319.8 1451.5,319.8 1451.7,319.8 1451.9,319.8 1452.1,319.8 1452.3,319.8 1452.5,319.8 1452.7,319.8 1452.9,319.8 1453.1,319.8 1453.4,319.8 1453.6,319.8 1453.8,319.8 1454.0,319.8 1454.2,319.8 1454.4,319.8 1454.6,319.8 1454.8,319.8 1455.0,319.8 1455.2,319.8 1455.4,319.8 1455.6,319.8 1455.8,319.8 1456.0,319.8 1456.2,319.8 1456.4,319.8 1456.6,319.8 1456.8,319.8 1457.1,319.8 1457.3,319.8 1457.5,319.8 1457.7,319.8 1457.9,319.8 1458.1,319.8 1458.3,319.8 1458.5,319.8 1458.7,319.8 1458.9,319.8 1459.1,319.8 1459.3,319.8 1459.5,319.8 1459.7,319.8 1459.9,319.8 1460.1,319.8 1460.3,319.8 1460.6,319.8 1460.8,319.8 1461.0,319.8 1461.2,319.8 1461.4,319.8 1461.6,319.8 1461.8,319.8 1462.0,319.8 1462.2,319.8 1462.4,319.8 1462.6,319.8 1462.8,319.8 1463.0,319.8 1463.2,319.8 1463.4,319.8 1463.6,319.8 1463.8,319.8 1464.1,319.8 1464.3,319.8 1464.5,319.8 1464.7,319.8 1464.9,319.8 1465.1,319.8 1465.3,319.8 1465.5,319.8 1465.7,319.8 1465.9,319.8 1466.1,319.8 1466.3,319.8 1466.5,319.8 1466.7,319.8 1466.9,319.8 1467.1,319.8 1467.3,319.8 1467.6,319.8 1467.8,319.8 1468.0,319.8 1468.2,319.8 1468.4,319.8 1468.6,319.8 1468.8,319.8 1469.0,319.8 1469.2,319.8 1469.4,319.8 1469.6,319.8 1469.8,319.8 1470.0,319.8 1470.2,319.8 1470.4,319.8 1470.6,319.8 1470.8,319.8 1471.0,319.8 1471.3,319.8 1471.5,319.8 1471.7,319.8 1471.9,319.8 1472.1,319.8 1472.3,319.8 1472.5,319.8 1472.7,319.8 1472.9,319.8 1473.1,319.8 1473.3,319.8 1473.5,319.8 1473.7,319.8 1473.9,319.8 1474.1,319.8 1474.3,319.8 1474.5,319.8 1474.8,319.8 1475.0,319.8 1475.2,319.8 1475.4,319.8 1475.6,319.8 1475.8,319.8 1476.0,319.8 1476.2,319.8 1476.4,319.8 1476.6,319.8 1476.8,319.8 1477.0,319.8 1477.2,319.8 1477.4,319.8 1477.6,319.8 1477.8,319.8 1478.0,319.8 1478.3,319.8 1478.5,319.8 1478.7,319.8 1478.9,319.8 1479.1,319.8 1479.3,319.8 1479.5,319.8 1479.7,319.8 1479.9,319.8 1480.1,319.8 1480.3,319.8 1480.5,319.8 1480.7,319.8 1480.9,319.8 1481.1,319.8 1481.3,319.8 1481.5,319.8 1481.8,319.8 1482.0,319.8 1482.2,319.8 1482.4,319.8 1482.6,319.8 1482.8,319.8 1483.0,319.8 1483.2,319.8 1483.4,319.8 1483.6,319.8 1483.8,319.8 1484.0,319.8 1484.2,319.8 1484.4,319.8 1484.6,319.8 1484.8,319.8 1485.0,319.8 1485.2,319.8 1485.5,319.8 1485.7,319.8 1485.9,319.8 1486.1,319.8 1486.3,319.8 1486.5,319.8 1486.7,319.8 1486.9,319.8 1487.1,319.8 1487.3,319.8 1487.5,319.8 1487.7,319.8 1487.9,319.8 1488.1,319.8 1488.3,319.8 1488.5,319.8 1488.7,319.8 1489.0,319.8 1489.2,319.8 1489.4,319.8 1489.6,319.8 1489.8,319.8 1490.0,319.8 1490.2,319.8 1490.4,319.8 1490.6,319.8 1490.8,319.8 1491.0,319.8 1491.2,319.8 1491.4,319.8 1491.6,319.8 1491.8,319.8 1492.0,319.8 1492.2,319.8 1492.5,319.8 1492.7,319.8 1492.9,319.8 1493.1,319.8 1493.3,319.8 1493.5,319.8 1493.7,319.8 1493.9,319.8 1494.1,319.8 1494.3,319.8 1494.5,319.8 1494.7,319.8 1494.9,319.8 1495.1,319.8 1495.3,319.8 1495.5,319.8 1495.7,319.8 1496.0,319.8 1496.2,319.8 1496.4,319.8 1496.6,319.8 1496.8,319.8 1497.0,319.8 1497.2,319.8 1497.4,319.8 1497.6,319.8 1497.8,319.8 1498.0,319.8 1498.2,319.8 1498.4,319.8 1498.6,319.8 1498.8,319.8 1499.0,319.8 1499.2,319.8 1499.4,319.8 1499.7,319.8 1499.9,319.8 1500.1,319.8 1500.3,319.8 1500.5,319.8 1500.7,319.8 1500.9,319.8 1501.1,319.8 1501.3,319.8 1501.5,319.8 1501.7,319.8 1501.9,319.8 1502.1,319.8 1502.3,319.8 1502.5,319.8 1502.7,319.8 1502.9,319.8 1503.2,319.8 1503.4,319.8 1503.6,319.8 1503.8,319.8 1504.0,319.8 1504.2,319.8 1504.4,319.8 1504.6,319.8 1504.8,319.8 1505.0,319.8 1505.2,319.8 1505.4,319.8 1505.6,319.8 1505.8,319.8 1506.0,319.8 1506.2,319.8 1506.4,319.8 1506.7,319.8 1506.9,319.8 1507.1,319.8 1507.3,319.8 1507.5,319.8 1507.7,319.7 1507.9,319.6 1508.1,319.2 1508.3,318.3 1508.5,316.5 1508.7,313.3 1508.9,308.4 1509.1,302.1 1509.3,295.1 1509.5,288.9 1509.7,285.2 1509.9,285.0 1510.2,288.1 1510.4,293.3 1510.6,298.7 1510.8,302.6 1511.0,304.2 1511.2,303.7 1511.4,302.4 1511.6,301.4 1511.8,301.8 1512.0,303.8 1512.2,307.1 1512.4,310.7 1512.6,314.0 1512.8,316.4 1513.0,318.1 1513.2,319.0 1513.4,319.5 1513.6,319.7 1513.9,319.8 1514.1,319.8 1514.3,319.8 1514.5,319.8 1514.7,319.8 1514.9,319.8 1515.1,319.8 1515.3,319.8 1515.5,319.8 1515.7,319.8 1515.9,319.8 1516.1,319.8 1516.3,319.8 1516.5,319.8 1516.7,319.8 1516.9,319.8 1517.1,319.8 1517.4,319.8 1517.6,319.8 1517.8,319.8 1518.0,319.8 1518.2,319.8 1518.4,319.8 1518.6,319.8 1518.8,319.8 1519.0,319.8 1519.2,319.8 1519.4,319.8 1519.6,319.8 1519.8,319.8 1520.0,319.8 1520.2,319.8 1520.4,319.8 1520.6,319.8 1520.9,319.8 1521.1,319.8 1521.3,319.8 1521.5,319.8 1521.7,319.8 1521.9,319.8 1522.1,319.8 1522.3,319.8 1522.5,319.8 1522.7,319.8 1522.9,319.8 1523.1,319.8 1523.3,319.8 1523.5,319.8 1523.7,319.8 1523.9,319.8 1524.1,319.8 1524.4,319.8 1524.6,319.8 1524.8,319.8 1525.0,319.8 1525.2,319.8 1525.4,319.8 1525.6,319.8 1525.8,319.8 1526.0,319.8 1526.2,319.8 1526.4,319.8 1526.6,319.8 1526.8,319.8 1527.0,319.8 1527.2,319.8 1527.4,319.8 1527.6,319.8 1527.8,319.8 1528.1,319.8 1528.3,319.8 1528.5,319.8 1528.7,319.8 1528.9,319.8 1529.1,319.8 1529.3,319.8 1529.5,319.8 1529.7,319.8 1529.9,319.8 1530.1,319.8 1530.3,319.8 1530.5,319.8 1530.7,319.8 1530.9,319.8 1531.1,319.8 1531.3,319.8 1531.6,319.8 1531.8,319.8 1532.0,319.8 1532.2,319.8 1532.4,319.8 1532.6,319.8 1532.8,319.8 1533.0,319.8 1533.2,319.8 1533.4,319.8 1533.6,319.8 1533.8,319.8 1534.0,319.8 1534.2,319.8 1534.4,319.8 1534.6,319.8 1534.8,319.8 1535.1,319.8 1535.3,319.8 1535.5,319.8 1535.7,319.8 1535.9,319.8 1536.1,319.8 1536.3,319.8 1536.5,319.8 1536.7,319.8 1536.9,319.8 1537.1,319.8 1537.3,319.8 1537.5,319.8 1537.7,319.8 1537.9,319.8 1538.1,319.8 1538.3,319.8 1538.6,319.8 1538.8,319.8 1539.0,319.8 1539.2,319.8 1539.4,319.8 1539.6,319.8 1539.8,319.8 1540.0,319.8 1540.2,319.8 1540.4,319.8 1540.6,319.8 1540.8,319.8 1541.0,319.8 1541.2,319.8 1541.4,319.8 1541.6,319.8 1541.8,319.8 1542.0,319.8" fill="none" stroke="#111" stroke-width="1.5" stroke-linejoin="round" stroke-linecap="round" />
<polyline points="1079.0,259.6 1079.2,259.6 1079.4,259.6 1079.6,259.6 1079.8,259.6 1080.0,259.6 1080.2,259.6 1080.4,259.6 1080.6,259.6 1080.9,259.6 1081.1,259.6 1081.3,259.6 1081.5,259.6 1081.7,259.6 1081.9,259.6 1082.1,259.6 1082.3,259.6 1082.5,259.6 1082.7,259.6 1082.9,259.6 1083.1,259.6 1083.3,259.6 1083.5,259.6 1083.7,259.6 1083.9,259.6 1084.1,259.6 1084.4,259.6 1084.6,259.6 1084.8,259.6 1085.0,259.6 1085.2,259.6 1085.4,259.6 1085.6,259.6 1085.8,259.6 1086.0,259.6 1086.2,259.6 1086.4,259.6 1086.6,259.6 1086.8,259.6 1087.0,259.6 1087.2,259.6 1087.4,259.6 1087.6,259.6 1087.8,259.6 1088.1,259.6 1088.3,259.6 1088.5,259.6 1088.7,259.6 1088.9,259.6 1089.1,259.6 1089.3,259.6 1089.5,259.6 1089.7,259.6 1089.9,259.6 1090.1,259.6 1090.3,259.6 1090.5,259.6 1090.7,259.6 1090.9,259.6 1091.1,259.6 1091.3,259.6 1091.6,259.6 1091.8,259.6 1092.0,259.6 1092.2,259.6 1092.4,259.6 1092.6,259.6 1092.8,259.6 1093.0,259.6 1093.2,259.6 1093.4,259.6 1093.6,259.6 1093.8,259.6 1094.0,259.6 1094.2,259.6 1094.4,259.6 1094.6,259.6 1094.8,259.6 1095.1,259.6 1095.3,259.6 1095.5,259.6 1095.7,259.6 1095.9,259.6 1096.1,259.6 1096.3,259.6 1096.5,259.6 1096.7,259.6 1096.9,259.6 1097.1,259.6 1097.3,259.6 1097.5,259.6 1097.7,259.6 1097.9,259.6 1098.1,259.6 1098.3,259.6 1098.6,259.6 1098.8,259.6 1099.0,259.6 1099.2,259.6 1099.4,259.6 1099.6,259.6 1099.8,259.6 1100.0,259.6 1100.2,259.6 1100.4,259.6 1100.6,259.6 1100.8,259.6 1101.0,259.6 1101.2,259.6 1101.4,259.6 1101.6,259.6 1101.8,259.6 1102.0,259.6 1102.3,259.6 1102.5,259.6 1102.7,259.6 1102.9,259.6 1103.1,259.6 1103.3,259.6 1103.5,259.6 1103.7,259.6 1103.9,259.6 1104.1,259.6 1104.3,259.6 1104.5,259.6 1104.7,259.6 1104.9,259.6 1105.1,259.6 1105.3,259.6 1105.5,259.6 1105.8,259.6 1106.0,259.6 1106.2,259.6 1106.4,259.6 1106.6,259.6 1106.8,259.6 1107.0,259.6 1107.2,259.6 1107.4,259.6 1107.6,259.6 1107.8,259.6 1108.0,259.6 1108.2,259.6 1108.4,259.6 1108.6,259.6 1108.8,259.6 1109.0,259.6 1109.3,259.6 1109.5,259.6 1109.7,259.6 1109.9,259.6 1110.1,259.6 1110.3,259.6 1110.5,259.6 1110.7,259.6 1110.9,259.6 1111.1,259.6 1111.3,259.6 1111.5,259.6 1111.7,259.6 1111.9,259.6 1112.1,259.6 1112.3,259.6 1112.5,259.6 1112.8,259.6 1113.0,259.6 1113.2,259.6 1113.4,259.6 1113.6,259.6 1113.8,259.6 1114.0,259.6 1114.2,259.6 1114.4,259.6 1114.6,259.6 1114.8,259.6 1115.0,259.6 1115.2,259.6 1115.4,259.6 1115.6,259.6 1115.8,259.6 1116.0,259.6 1116.2,259.6 1116.5,259.6 1116.7,259.6 1116.9,259.6 1117.1,259.6 1117.3,259.6 1117.5,259.6 1117.7,259.6 1117.9,259.6 1118.1,259.5 1118.3,259.4 1118.5,259.1 1118.7,258.5 1118.9,257.5 1119.1,255.9 1119.3,253.5 1119.5,250.4 1119.7,246.9 1120.0,243.3 1120.2,240.4 1120.4,238.8 1120.6,238.8 1120.8,240.4 1121.0,243.3 1121.2,246.9 1121.4,250.4 1121.6,253.5 1121.8,255.9 1122.0,257.5 1122.2,258.5 1122.4,259.0 1122.6,259.2 1122.8,259.1 1123.0,258.8 1123.2,258.1 1123.5,256.9 1123.7,255.2 1123.9,253.0 1124.1,250.5 1124.3,248.0 1124.5,245.9 1124.7,244.8 1124.9,244.8 1125.1,245.9 1125.3,248.0 1125.5,250.5 1125.7,253.0 1125.9,255.2 1126.1,256.9 1126.3,258.1 1126.5,258.8 1126.7,259.2 1127.0,259.4 1127.2,259.5 1127.4,259.6 1127.6,259.6 1127.8,259.6 1128.0,259.6 1128.2,259.6 1128.4,259.6 1128.6,259.6 1128.8,259.6 1129.0,259.6 1129.2,259.6 1129.4,259.6 1129.6,259.6 1129.8,259.6 1130.0,259.6 1130.2,259.6 1130.4,259.6 1130.7,259.6 1130.9,259.6 1131.1,259.6 1131.3,259.6 1131.5,259.6 1131.7,259.6 1131.9,259.6 1132.1,259.6 1132.3,259.6 1132.5,259.6 1132.7,259.6 1132.9,259.6 1133.1,259.6 1133.3,259.6 1133.5,259.6 1133.7,259.6 1133.9,259.6 1134.2,259.6 1134.4,259.6 1134.6,259.6 1134.8,259.6 1135.0,259.6 1135.2,259.6 1135.4,259.6 1135.6,259.6 1135.8,259.6 1136.0,259.6 1136.2,259.6 1136.4,259.6 1136.6,259.6 1136.8,259.6 1137.0,259.6 1137.2,259.6 1137.4,259.6 1137.7,259.6 1137.9,259.6 1138.1,259.6 1138.3,259.6 1138.5,259.6 1138.7,259.6 1138.9,259.6 1139.1,259.6 1139.3,259.6 1139.5,259.6 1139.7,259.6 1139.9,259.6 1140.1,259.6 1140.3,259.6 1140.5,259.6 1140.7,259.6 1140.9,259.6 1141.2,259.6 1141.4,259.6 1141.6,259.6 1141.8,259.6 1142.0,259.6 1142.2,259.6 1142.4,259.6 1142.6,259.6 1142.8,259.6 1143.0,259.6 1143.2,259.6 1143.4,259.6 1143.6,259.6 1143.8,259.6 1144.0,259.6 1144.2,259.6 1144.4,259.6 1144.7,259.6 1144.9,259.6 1145.1,259.6 1145.3,259.6 1145.5,259.6 1145.7,259.6 1145.9,259.6 1146.1,259.6 1146.3,259.6 1146.5,259.6 1146.7,259.6 1146.9,259.6 1147.1,259.6 1147.3,259.6 1147.5,259.6 1147.7,259.6 1147.9,259.6 1148.1,259.6 1148.4,259.6 1148.6,259.6 1148.8,259.6 1149.0,259.6 1149.2,259.6 1149.4,259.6 1149.6,259.6 1149.8,259.6 1150.0,259.6 1150.2,259.6 1150.4,259.6 1150.6,259.6 1150.8,259.6 1151.0,259.6 1151.2,259.6 1151.4,259.6 1151.6,259.6 1151.9,259.6 1152.1,259.6 1152.3,259.6 1152.5,259.6 1152.7,259.6 1152.9,259.6 1153.1,259.6 1153.3,259.6 1153.5,259.6 1153.7,259.6 1153.9,259.6 1154.1,259.6 1154.3,259.6 1154.5,259.6 1154.7,259.6 1154.9,259.6 1155.1,259.6 1155.4,259.6 1155.6,259.6 1155.8,259.6 1156.0,259.6 1156.2,259.6 1156.4,259.6 1156.6,259.6 1156.8,259.6 1157.0,259.6 1157.2,259.6 1157.4,259.6 1157.6,259.6 1157.8,259.6 1158.0,259.6 1158.2,259.6 1158.4,259.6 1158.6,259.6 1158.9,259.6 1159.1,259.6 1159.3,259.6 1159.5,259.6 1159.7,259.6 1159.9,259.6 1160.1,259.6 1160.3,259.5 1160.5,259.3 1160.7,259.0 1160.9,258.3 1161.1,256.9 1161.3,254.5 1161.5,250.3 1161.7,243.8 1161.9,234.3 1162.1,221.6 1162.3,206.0 1162.6,188.6 1162.8,171.3 1163.0,156.3 1163.2,146.2 1163.4,142.6 1163.6,146.2 1163.8,156.3 1164.0,171.3 1164.2,188.6 1164.4,206.0 1164.6,221.6 1164.8,234.3 1165.0,243.8 1165.2,250.3 1165.4,254.5 1165.6,256.9 1165.8,258.3 1166.1,259.0 1166.3,259.3 1166.5,259.5 1166.7,259.6 1166.9,259.6 1167.1,259.6 1167.3,259.6 1167.5,259.6 1167.7,259.6 1167.9,259.6 1168.1,259.6 1168.3,259.6 1168.5,259.6 1168.7,259.6 1168.9,259.6 1169.1,259.6 1169.3,259.6 1169.6,259.6 1169.8,259.6 1170.0,259.6 1170.2,259.6 1170.4,259.6 1170.6,259.6 1170.8,259.6 1171.0,259.6 1171.2,259.6 1171.4,259.6 1171.6,259.6 1171.8,259.6 1172.0,259.6 1172.2,259.6 1172.4,259.6 1172.6,259.6 1172.8,259.6 1173.1,259.6 1173.3,259.6 1173.5,259.6 1173.7,259.6 1173.9,259.6 1174.1,259.6 1174.3,259.6 1174.5,259.6 1174.7,259.6 1174.9,259.6 1175.1,259.6 1175.3,259.6 1175.5,259.6 1175.7,259.6 1175.9,259.6 1176.1,259.6 1176.3,259.6 1176.5,259.6 1176.8,259.6 1177.0,259.6 1177.2,259.6 1177.4,259.6 1177.6,259.6 1177.8,259.6 1178.0,259.6 1178.2,259.6 1178.4,259.6 1178.6,259.6 1178.8,259.6 1179.0,259.6 1179.2,259.6 1179.4,259.6 1179.6,259.6 1179.8,259.6 1180.0,259.6 1180.3,259.6 1180.5,259.6 1180.7,259.6 1180.9,259.6 1181.1,259.6 1181.3,259.6 1181.5,259.6 1181.7,259.6 1181.9,259.6 1182.1,259.6 1182.3,259.6 1182.5,259.6 1182.7,259.6 1182.9,259.6 1183.1,259.6 1183.3,259.6 1183.5,259.6 1183.8,259.6 1184.0,259.6 1184.2,259.6 1184.4,259.6 1184.6,259.6 1184.8,259.6 1185.0,259.6 1185.2,259.6 1185.4,259.6 1185.6,259.6 1185.8,259.6 1186.0,259.6 1186.2,259.6 1186.4,259.6 1186.6,259.6 1186.8,259.6 1187.0,259.6 1187.3,259.6 1187.5,259.6 1187.7,259.6 1187.9,259.6 1188.1,259.6 1188.3,259.6 1188.5,259.6 1188.7,259.6 1188.9,259.6 1189.1,259.6 1189.3,259.6 1189.5,259.6 1189.7,259.6 1189.9,259.6 1190.1,259.6 1190.3,259.6 1190.5,259.6 1190.7,259.6 1191.0,259.6 1191.2,259.6 1191.4,259.6 1191.6,259.6 1191.8,259.6 1192.0,259.6 1192.2,259.6 1192.4,259.6 1192.6,259.6 1192.8,259.6 1193.0,259.6 1193.2,259.6 1193.4,259.6 1193.6,259.6 1193.8,259.5 1194.0,259.4 1194.2,259.2 1194.5,258.7 1194.7,257.8 1194.9,256.2 1195.1,253.4 1195.3,249.0 1195.5,242.7 1195.7,234.3 1195.9,223.9 1196.1,212.3 1196.3,200.7 1196.5,190.8 1196.7,184.0 1196.9,181.6 1197.1,184.0 1197.3,190.8 1197.5,200.7 1197.7,212.3 1198.0,223.9 1198.2,234.3 1198.4,242.7 1198.6,249.0 1198.8,253.4 1199.0,256.2 1199.2,257.8 1199.4,258.7 1199.6,259.2 1199.8,259.4 1200.0,259.5 1200.2,259.6 1200.4,259.6 1200.6,259.6 1200.8,259.6 1201.0,259.6 1201.2,259.6 1201.5,259.6 1201.7,259.6 1201.9,259.6 1202.1,259.6 1202.3,259.6 1202.5,259.6 1202.7,259.6 1202.9,259.6 1203.1,259.6 1203.3,259.6 1203.5,259.6 1203.7,259.6 1203.9,259.6 1204.1,259.6 1204.3,259.6 1204.5,259.6 1204.7,259.6 1204.9,259.6 1205.2,259.6 1205.4,259.6 1205.6,259.6 1205.8,259.6 1206.0,259.6 1206.2,259.6 1206.4,259.6 1206.6,259.6 1206.8,259.6 1207.0,259.6 1207.2,259.6 1207.4,259.6 1207.6,259.6 1207.8,259.6 1208.0,259.6 1208.2,259.6 1208.4,259.6 1208.7,259.6 1208.9,259.6 1209.1,259.6 1209.3,259.6 1209.5,259.6 1209.7,259.6 1209.9,259.6 1210.1,259.6 1210.3,259.6 1210.5,259.6 1210.7,259.6 1210.9,259.6 1211.1,259.6 1211.3,259.6 1211.5,259.6 1211.7,259.6 1211.9,259.6 1212.2,259.6 1212.4,259.6 1212.6,259.6 1212.8,259.6 1213.0,259.6 1213.2,259.6 1213.4,259.6 1213.6,259.6 1213.8,259.6 1214.0,259.6 1214.2,259.6 1214.4,259.6 1214.6,259.6 1214.8,259.6 1215.0,259.6 1215.2,259.6 1215.4,259.6 1215.7,259.6 1215.9,259.6 1216.1,259.6 1216.3,259.6 1216.5,259.6 1216.7,259.6 1216.9,259.6 1217.1,259.6 1217.3,259.6 1217.5,259.6 1217.7,259.6 1217.9,259.6 1218.1,259.6 1218.3,259.6 1218.5,259.6 1218.7,259.6 1218.9,259.6 1219.1,259.6 1219.4,259.6 1219.6,259.6 1219.8,259.6 1220.0,259.6 1220.2,259.6 1220.4,259.6 1220.6,259.6 1220.8,259.6 1221.0,259.6 1221.2,259.6 1221.4,259.6 1221.6,259.6 1221.8,259.5 1222.0,259.4 1222.2,259.2 1222.4,258.9 1222.6,258.3 1222.9,257.3 1223.1,255.8 1223.3,253.7 1223.5,251.1 1223.7,247.9 1223.9,244.6 1224.1,241.5 1224.3,239.1 1224.5,237.8 1224.7,237.8 1224.9,239.1 1225.1,241.5 1225.3,244.6 1225.5,247.8 1225.7,250.9 1225.9,253.4 1226.1,255.1 1226.4,256.1 1226.6,256.3 1226.8,255.7 1227.0,254.4 1227.2,252.6 1227.4,250.4 1227.6,248.2 1227.8,246.4 1228.0,245.1 1228.2,244.6 1228.4,245.1 1228.6,246.4 1228.8,248.3 1229.0,250.5 1229.2,252.7 1229.4,254.7 1229.6,256.4 1229.9,257.6 1230.1,258.4 1230.3,258.9 1230.5,259.3 1230.7,259.4 1230.9,259.5 1231.1,259.6 1231.3,259.6 1231.5,259.6 1231.7,259.6 1231.9,259.6 1232.1,259.6 1232.3,259.6 1232.5,259.6 1232.7,259.6 1232.9,259.6 1233.1,259.6 1233.3,259.6 1233.6,259.6 1233.8,259.5 1234.0,259.4 1234.2,259.2 1234.4,258.9 1234.6,258.3 1234.8,257.4 1235.0,256.1 1235.2,254.4 1235.4,252.3 1235.6,249.9 1235.8,247.5 1236.0,245.5 1236.2,244.1 1236.4,243.6 1236.6,244.1 1236.8,245.5 1237.1,247.5 1237.3,249.9 1237.5,252.3 1237.7,254.4 1237.9,256.1 1238.1,257.4 1238.3,258.3 1238.5,258.9 1238.7,259.2 1238.9,259.3 1239.1,259.4 1239.3,259.3 1239.5,259.2 1239.7,259.0 1239.9,258.8 1240.1,258.5 1240.3,258.1 1240.6,257.8 1240.8,257.4 1241.0,257.1 1241.2,256.8 1241.4,256.7 1241.6,256.6 1241.8,256.7 1242.0,256.8 1242.2,257.1 1242.4,257.4 1242.6,257.8 1242.8,258.1 1243.0,258.5 1243.2,258.8 1243.4,259.0 1243.6,259.2 1243.8,259.3 1244.1,259.4 1244.3,259.5 1244.5,259.5 1244.7,259.6 1244.9,259.6 1245.1,259.6 1245.3,259.6 1245.5,259.6 1245.7,259.6 1245.9,259.6 1246.1,259.6 1246.3,259.6 1246.5,259.6 1246.7,259.6 1246.9,259.6 1247.1,259.6 1247.3,259.6 1247.6,259.6 1247.8,259.6 1248.0,259.6 1248.2,259.6 1248.4,259.6 1248.6,259.6 1248.8,259.6 1249.0,259.6 1249.2,259.6 1249.4,259.6 1249.6,259.6 1249.8,259.6 1250.0,259.6 1250.2,259.6 1250.4,259.6 1250.6,259.6 1250.8,259.6 1251.0,259.6 1251.3,259.6 1251.5,259.6 1251.7,259.6 1251.9,259.6 1252.1,259.6 1252.3,259.6 1252.5,259.6 1252.7,259.6 1252.9,259.6 1253.1,259.6 1253.3,259.6 1253.5,259.6 1253.7,259.6 1253.9,259.6 1254.1,259.6 1254.3,259.6 1254.5,259.6 1254.8,259.6 1255.0,259.6 1255.2,259.6 1255.4,259.6 1255.6,259.6 1255.8,259.6 1256.0,259.6 1256.2,259.6 1256.4,259.6 1256.6,259.6 1256.8,259.6 1257.0,259.6 1257.2,259.6 1257.4,259.6 1257.6,259.6 1257.8,259.6 1258.0,259.6 1258.3,259.6 1258.5,259.6 1258.7,259.6 1258.9,259.6 1259.1,259.6 1259.3,259.6 1259.5,259.6 1259.7,259.6 1259.9,259.6 1260.1,259.6 1260.3,259.6 1260.5,259.6 1260.7,259.6 1260.9,259.6 1261.1,259.6 1261.3,259.6 1261.5,259.6 1261.8,259.6 1262.0,259.6 1262.2,259.6 1262.4,259.6 1262.6,259.6 1262.8,259.6 1263.0,259.6 1263.2,259.6 1263.4,259.6 1263.6,259.6 1263.8,259.6 1264.0,259.6 1264.2,259.6 1264.4,259.6 1264.6,259.6 1264.8,259.6 1265.0,259.6 1265.2,259.6 1265.5,259.6 1265.7,259.6 1265.9,259.6 1266.1,259.6 1266.3,259.6 1266.5,259.6 1266.7,259.6 1266.9,259.6 1267.1,259.6 1267.3,259.5 1267.5,259.5 1267.7,259.4 1267.9,259.3 1268.1,259.1 1268.3,258.8 1268.5,258.4 1268.7,257.9 1269.0,257.3 1269.2,256.7 1269.4,256.0 1269.6,255.2 1269.8,254.6 1270.0,254.1 1270.2,253.7 1270.4,253.6 1270.6,253.7 1270.8,254.1 1271.0,254.6 1271.2,255.2 1271.4,256.0 1271.6,256.7 1271.8,257.3 1272.0,257.9 1272.2,258.4 1272.5,258.8 1272.7,259.1 1272.9,259.3 1273.1,259.4 1273.3,259.5 1273.5,259.5 1273.7,259.6 1273.9,259.6 1274.1,259.6 1274.3,259.6 1274.5,259.6 1274.7,259.6 1274.9,259.6 1275.1,259.6 1275.3,259.6 1275.5,259.6 1275.7,259.6 1276.0,259.6 1276.2,259.6 1276.4,259.6 1276.6,259.6 1276.8,259.6 1277.0,259.6 1277.2,259.6 1277.4,259.6 1277.6,259.6 1277.8,259.6 1278.0,259.6 1278.2,259.6 1278.4,259.6 1278.6,259.6 1278.8,259.6 1279.0,259.6 1279.2,259.6 1279.4,259.6 1279.7,259.6 1279.9,259.6 1280.1,259.6 1280.3,259.6 1280.5,259.6 1280.7,259.6 1280.9,259.6 1281.1,259.6 1281.3,259.6 1281.5,259.6 1281.7,259.6 1281.9,259.6 1282.1,259.6 1282.3,259.6 1282.5,259.6 1282.7,259.6 1282.9,259.6 1283.2,259.5 1283.4,259.5 1283.6,259.4 1283.8,259.3 1284.0,259.2 1284.2,259.0 1284.4,258.8 1284.6,258.6 1284.8,258.4 1285.0,258.1 1285.2,257.9 1285.4,257.8 1285.6,257.6 1285.8,257.6 1286.0,257.6 1286.2,257.8 1286.4,257.9 1286.7,258.1 1286.9,258.4 1287.1,258.6 1287.3,258.8 1287.5,259.0 1287.7,259.2 1287.9,259.3 1288.1,259.4 1288.3,259.5 1288.5,259.5 1288.7,259.6 1288.9,259.6 1289.1,259.6 1289.3,259.5 1289.5,259.4 1289.7,259.3 1289.9,258.9 1290.2,258.4 1290.4,257.6 1290.6,256.4 1290.8,254.7 1291.0,252.7 1291.2,250.5 1291.4,248.3 1291.6,246.4 1291.8,245.1 1292.0,244.6 1292.2,245.1 1292.4,246.4 1292.6,248.3 1292.8,250.5 1293.0,252.7 1293.2,254.7 1293.4,256.4 1293.6,257.6 1293.9,258.4 1294.1,258.9 1294.3,259.2 1294.5,259.4 1294.7,259.4 1294.9,259.4 1295.1,259.2 1295.3,259.0 1295.5,258.5 1295.7,257.9 1295.9,257.0 1296.1,255.9 1296.3,254.7 1296.5,253.6 1296.7,252.5 1296.9,251.8 1297.1,251.6 1297.4,251.8 1297.6,252.5 1297.8,253.5 1298.0,254.6 1298.2,255.7 1298.4,256.5 1298.6,257.1 1298.8,257.2 1299.0,257.0 1299.2,256.5 1299.4,255.8 1299.6,255.0 1299.8,254.3 1300.0,253.8 1300.2,253.6 1300.4,253.8 1300.6,254.3 1300.9,255.1 1301.1,256.0 1301.3,256.9 1301.5,257.7 1301.7,258.3 1301.9,258.8 1302.1,259.1 1302.3,259.3 1302.5,259.5 1302.7,259.5 1302.9,259.6 1303.1,259.6 1303.3,259.6 1303.5,259.6 1303.7,259.6 1303.9,259.6 1304.1,259.6 1304.4,259.6 1304.6,259.6 1304.8,259.6 1305.0,259.6 1305.2,259.6 1305.4,259.6 1305.6,259.6 1305.8,259.6 1306.0,259.6 1306.2,259.6 1306.4,259.6 1306.6,259.6 1306.8,259.6 1307.0,259.6 1307.2,259.6 1307.4,259.6 1307.6,259.6 1307.8,259.6 1308.1,259.6 1308.3,259.6 1308.5,259.6 1308.7,259.6 1308.9,259.6 1309.1,259.6 1309.3,259.6 1309.5,259.6 1309.7,259.6 1309.9,259.6 1310.1,259.6 1310.3,259.6 1310.5,259.6 1310.7,259.6 1310.9,259.6 1311.1,259.6 1311.3,259.6 1311.6,259.6 1311.8,259.6 1312.0,259.6 1312.2,259.6 1312.4,259.6 1312.6,259.6 1312.8,259.6 1313.0,259.6 1313.2,259.6 1313.4,259.6 1313.6,259.6 1313.8,259.6 1314.0,259.6 1314.2,259.6 1314.4,259.6 1314.6,259.6 1314.8,259.6 1315.1,259.6 1315.3,259.6 1315.5,259.6 1315.7,259.6 1315.9,259.6 1316.1,259.6 1316.3,259.6 1316.5,259.6 1316.7,259.6 1316.9,259.6 1317.1,259.6 1317.3,259.6 1317.5,259.6 1317.7,259.6 1317.9,259.6 1318.1,259.6 1318.3,259.6 1318.6,259.6 1318.8,259.6 1319.0,259.6 1319.2,259.6 1319.4,259.6 1319.6,259.6 1319.8,259.6 1320.0,259.6 1320.2,259.6 1320.4,259.6 1320.6,259.6 1320.8,259.6 1321.0,259.6 1321.2,259.6 1321.4,259.6 1321.6,259.6 1321.8,259.6 1322.0,259.6 1322.3,259.6 1322.5,259.6 1322.7,259.6 1322.9,259.6 1323.1,259.6 1323.3,259.6 1323.5,259.6 1323.7,259.6 1323.9,259.6 1324.1,259.6 1324.3,259.6 1324.5,259.6 1324.7,259.6 1324.9,259.6 1325.1,259.6 1325.3,259.6 1325.5,259.6 1325.8,259.6 1326.0,259.6 1326.2,259.6 1326.4,259.6 1326.6,259.6 1326.8,259.6 1327.0,259.6 1327.2,259.6 1327.4,259.6 1327.6,259.6 1327.8,259.6 1328.0,259.6 1328.2,259.6 1328.4,259.6 1328.6,259.6 1328.8,259.6 1329.0,259.6 1329.3,259.6 1329.5,259.6 1329.7,259.6 1329.9,259.6 1330.1,259.6 1330.3,259.6 1330.5,259.6 1330.7,259.6 1330.9,259.6 1331.1,259.6 1331.3,259.6 1331.5,259.6 1331.7,259.6 1331.9,259.6 1332.1,259.5 1332.3,259.5 1332.5,259.3 1332.8,259.1 1333.0,258.8 1333.2,258.2 1333.4,257.5 1333.6,256.5 1333.8,255.4 1334.0,254.1 1334.2,253.0 1334.4,252.1 1334.6,251.7 1334.8,251.7 1335.0,252.1 1335.2,253.0 1335.4,254.1 1335.6,255.4 1335.8,256.5 1336.0,257.5 1336.2,258.2 1336.5,258.8 1336.7,259.1 1336.9,259.3 1337.1,259.5 1337.3,259.5 1337.5,259.6 1337.7,259.6 1337.9,259.6 1338.1,259.6 1338.3,259.6 1338.5,259.6 1338.7,259.5 1338.9,259.4 1339.1,259.3 1339.3,259.0 1339.5,258.5 1339.7,257.7 1340.0,256.6 1340.2,255.1 1340.4,253.2 1340.6,251.1 1340.8,249.0 1341.0,247.2 1341.2,246.0 1341.4,245.6 1341.6,246.0 1341.8,247.2 1342.0,249.0 1342.2,251.1 1342.4,253.2 1342.6,255.1 1342.8,256.6 1343.0,257.7 1343.2,258.5 1343.5,259.0 1343.7,259.3 1343.9,259.4 1344.1,259.5 1344.3,259.6 1344.5,259.6 1344.7,259.6 1344.9,259.6 1345.1,259.6 1345.3,259.6 1345.5,259.6 1345.7,259.6 1345.9,259.6 1346.1,259.6 1346.3,259.6 1346.5,259.6 1346.7,259.6 1347.0,259.6 1347.2,259.6 1347.4,259.6 1347.6,259.6 1347.8,259.6 1348.0,259.6 1348.2,259.6 1348.4,259.6 1348.6,259.6 1348.8,259.6 1349.0,259.6 1349.2,259.6 1349.4,259.6 1349.6,259.6 1349.8,259.6 1350.0,259.6 1350.2,259.6 1350.5,259.6 1350.7,259.6 1350.9,259.6 1351.1,259.6 1351.3,259.6 1351.5,259.6 1351.7,259.6 1351.9,259.6 1352.1,259.6 1352.3,259.6 1352.5,259.6 1352.7,259.6 1352.9,259.6 1353.1,259.6 1353.3,259.6 1353.5,259.6 1353.7,259.6 1353.9,259.6 1354.2,259.6 1354.4,259.6 1354.6,259.6 1354.8,259.6 1355.0,259.6 1355.2,259.6 1355.4,259.6 1355.6,259.6 1355.8,259.6 1356.0,259.6 1356.2,259.6 1356.4,259.6 1356.6,259.6 1356.8,259.6 1357.0,259.6 1357.2,259.6 1357.4,259.6 1357.7,259.6 1357.9,259.6 1358.1,259.6 1358.3,259.6 1358.5,259.6 1358.7,259.6 1358.9,259.6 1359.1,259.6 1359.3,259.6 1359.5,259.6 1359.7,259.6 1359.9,259.6 1360.1,259.6 1360.3,259.6 1360.5,259.6 1360.7,259.6 1360.9,259.6 1361.2,259.6 1361.4,259.6 1361.6,259.6 1361.8,259.6 1362.0,259.6 1362.2,259.6 1362.4,259.6 1362.6,259.6 1362.8,259.6 1363.0,259.6 1363.2,259.6 1363.4,259.6 1363.6,259.6 1363.8,259.6 1364.0,259.6 1364.2,259.6 1364.4,259.6 1364.7,259.6 1364.9,259.6 1365.1,259.6 1365.3,259.6 1365.5,259.6 1365.7,259.6 1365.9,259.6 1366.1,259.6 1366.3,259.6 1366.5,259.6 1366.7,259.6 1366.9,259.6 1367.1,259.6 1367.3,259.6 1367.5,259.6 1367.7,259.6 1367.9,259.6 1368.1,259.6 1368.4,259.6 1368.6,259.6 1368.8,259.6 1369.0,259.6 1369.2,259.6 1369.4,259.6 1369.6,259.6 1369.8,259.6 1370.0,259.6 1370.2,259.6 1370.4,259.6 1370.6,259.6 1370.8,259.6 1371.0,259.6 1371.2,259.6 1371.4,259.6 1371.6,259.6 1371.9,259.6 1372.1,259.6 1372.3,259.6 1372.5,259.6 1372.7,259.6 1372.9,259.6 1373.1,259.6 1373.3,259.6 1373.5,259.6 1373.7,259.6 1373.9,259.6 1374.1,259.6 1374.3,259.6 1374.5,259.6 1374.7,259.6 1374.9,259.6 1375.1,259.6 1375.4,259.6 1375.6,259.6 1375.8,259.6 1376.0,259.6 1376.2,259.6 1376.4,259.6 1376.6,259.6 1376.8,259.6 1377.0,259.6 1377.2,259.6 1377.4,259.6 1377.6,259.6 1377.8,259.5 1378.0,259.4 1378.2,259.1 1378.4,258.7 1378.6,258.0 1378.9,256.9 1379.1,255.3 1379.3,253.1 1379.5,250.4 1379.7,247.5 1379.9,244.5 1380.1,242.0 1380.3,240.2 1380.5,239.6 1380.7,240.2 1380.9,242.0 1381.1,244.5 1381.3,247.5 1381.5,250.4 1381.7,253.1 1381.9,255.3 1382.1,256.9 1382.3,258.0 1382.6,258.7 1382.8,259.1 1383.0,259.4 1383.2,259.5 1383.4,259.6 1383.6,259.6 1383.8,259.6 1384.0,259.6 1384.2,259.6 1384.4,259.6 1384.6,259.6 1384.8,259.6 1385.0,259.6 1385.2,259.6 1385.4,259.6 1385.6,259.6 1385.8,259.6 1386.1,259.5 1386.3,259.4 1386.5,259.1 1386.7,258.6 1386.9,257.8 1387.1,256.6 1387.3,254.8 1387.5,252.5 1387.7,249.5 1387.9,246.3 1388.1,243.0 1388.3,240.2 1388.5,238.3 1388.7,237.6 1388.9,238.3 1389.1,240.2 1389.3,243.0 1389.6,246.3 1389.8,249.5 1390.0,252.5 1390.2,254.8 1390.4,256.6 1390.6,257.8 1390.8,258.6 1391.0,259.1 1391.2,259.3 1391.4,259.4 1391.6,259.3 1391.8,259.1 1392.0,258.6 1392.2,258.0 1392.4,257.0 1392.6,255.7 1392.8,254.1 1393.1,252.3 1393.3,250.5 1393.5,249.0 1393.7,248.0 1393.9,247.6 1394.1,248.0 1394.3,249.0 1394.5,250.5 1394.7,252.3 1394.9,254.1 1395.1,255.7 1395.3,257.0 1395.5,258.0 1395.7,258.6 1395.9,259.1 1396.1,259.3 1396.3,259.5 1396.5,259.5 1396.8,259.6 1397.0,259.6 1397.2,259.6 1397.4,259.6 1397.6,259.5 1397.8,259.5 1398.0,259.3 1398.2,259.1 1398.4,258.8 1398.6,258.3 1398.8,257.7 1399.0,256.9 1399.2,256.0 1399.4,255.1 1399.6,254.3 1399.8,253.8 1400.0,253.6 1400.3,253.8 1400.5,254.3 1400.7,255.1 1400.9,256.0 1401.1,256.9 1401.3,257.7 1401.5,258.3 1401.7,258.8 1401.9,259.1 1402.1,259.3 1402.3,259.5 1402.5,259.5 1402.7,259.6 1402.9,259.6 1403.1,259.6 1403.3,259.6 1403.5,259.6 1403.8,259.6 1404.0,259.6 1404.2,259.6 1404.4,259.6 1404.6,259.6 1404.8,259.6 1405.0,259.6 1405.2,259.6 1405.4,259.6 1405.6,259.6 1405.8,259.6 1406.0,259.6 1406.2,259.6 1406.4,259.6 1406.6,259.6 1406.8,259.6 1407.0,259.6 1407.3,259.6 1407.5,259.6 1407.7,259.6 1407.9,259.6 1408.1,259.6 1408.3,259.6 1408.5,259.6 1408.7,259.6 1408.9,259.6 1409.1,259.6 1409.3,259.6 1409.5,259.6 1409.7,259.6 1409.9,259.6 1410.1,259.6 1410.3,259.6 1410.5,259.6 1410.7,259.6 1411.0,259.6 1411.2,259.6 1411.4,259.6 1411.6,259.6 1411.8,259.6 1412.0,259.6 1412.2,259.6 1412.4,259.6 1412.6,259.6 1412.8,259.6 1413.0,259.6 1413.2,259.6 1413.4,259.6 1413.6,259.6 1413.8,259.6 1414.0,259.6 1414.2,259.6 1414.5,259.6 1414.7,259.6 1414.9,259.6 1415.1,259.6 1415.3,259.6 1415.5,259.6 1415.7,259.6 1415.9,259.6 1416.1,259.6 1416.3,259.6 1416.5,259.6 1416.7,259.6 1416.9,259.6 1417.1,259.6 1417.3,259.6 1417.5,259.6 1417.7,259.6 1418.0,259.6 1418.2,259.6 1418.4,259.6 1418.6,259.6 1418.8,259.6 1419.0,259.6 1419.2,259.6 1419.4,259.6 1419.6,259.6 1419.8,259.6 1420.0,259.6 1420.2,259.6 1420.4,259.6 1420.6,259.6 1420.8,259.6 1421.0,259.6 1421.2,259.6 1421.5,259.6 1421.7,259.6 1421.9,259.6 1422.1,259.6 1422.3,259.6 1422.5,259.6 1422.7,259.6 1422.9,259.6 1423.1,259.6 1423.3,259.6 1423.5,259.6 1423.7,259.6 1423.9,259.6 1424.1,259.6 1424.3,259.6 1424.5,259.6 1424.7,259.6 1424.9,259.6 1425.2,259.6 1425.4,259.6 1425.6,259.6 1425.8,259.6 1426.0,259.6 1426.2,259.6 1426.4,259.6 1426.6,259.6 1426.8,259.6 1427.0,259.6 1427.2,259.5 1427.4,259.4 1427.6,259.1 1427.8,258.6 1428.0,257.8 1428.2,256.6 1428.4,254.8 1428.7,252.5 1428.9,249.5 1429.1,246.3 1429.3,243.0 1429.5,240.2 1429.7,238.3 1429.9,237.6 1430.1,238.3 1430.3,240.2 1430.5,243.0 1430.7,246.3 1430.9,249.5 1431.1,252.5 1431.3,254.8 1431.5,256.6 1431.7,257.8 1431.9,258.6 1432.2,259.1 1432.4,259.4 1432.6,259.5 1432.8,259.6 1433.0,259.6 1433.2,259.6 1433.4,259.6 1433.6,259.6 1433.8,259.6 1434.0,259.6 1434.2,259.6 1434.4,259.6 1434.6,259.6 1434.8,259.6 1435.0,259.6 1435.2,259.6 1435.4,259.6 1435.7,259.6 1435.9,259.6 1436.1,259.6 1436.3,259.6 1436.5,259.6 1436.7,259.6 1436.9,259.6 1437.1,259.6 1437.3,259.6 1437.5,259.6 1437.7,259.6 1437.9,259.6 1438.1,259.6 1438.3,259.6 1438.5,259.6 1438.7,259.6 1438.9,259.6 1439.1,259.6 1439.4,259.6 1439.6,259.6 1439.8,259.6 1440.0,259.6 1440.2,259.6 1440.4,259.5 1440.6,259.5 1440.8,259.3 1441.0,259.0 1441.2,258.5 1441.4,257.6 1441.6,256.2 1441.8,254.2 1442.0,251.5 1442.2,248.2 1442.4,244.4 1442.6,240.7 1442.9,237.5 1443.1,235.4 1443.3,234.6 1443.5,235.4 1443.7,237.5 1443.9,240.7 1444.1,244.4 1444.3,248.2 1444.5,251.5 1444.7,254.2 1444.9,256.2 1445.1,257.6 1445.3,258.5 1445.5,259.0 1445.7,259.3 1445.9,259.4 1446.1,259.4 1446.4,259.2 1446.6,259.0 1446.8,258.5 1447.0,257.9 1447.2,257.0 1447.4,255.9 1447.6,254.7 1447.8,253.6 1448.0,252.5 1448.2,251.8 1448.4,251.6 1448.6,251.8 1448.8,252.5 1449.0,253.6 1449.2,254.7 1449.4,255.9 1449.6,256.9 1449.9,257.8 1450.1,258.3 1450.3,258.7 1450.5,258.8 1450.7,258.8 1450.9,258.7 1451.1,258.4 1451.3,258.1 1451.5,257.8 1451.7,257.4 1451.9,257.1 1452.1,256.8 1452.3,256.7 1452.5,256.6 1452.7,256.7 1452.9,256.8 1453.1,257.1 1453.4,257.4 1453.6,257.8 1453.8,258.1 1454.0,258.5 1454.2,258.8 1454.4,259.0 1454.6,259.2 1454.8,259.3 1455.0,259.4 1455.2,259.5 1455.4,259.5 1455.6,259.6 1455.8,259.6 1456.0,259.6 1456.2,259.6 1456.4,259.6 1456.6,259.6 1456.8,259.6 1457.1,259.6 1457.3,259.6 1457.5,259.6 1457.7,259.6 1457.9,259.6 1458.1,259.6 1458.3,259.6 1458.5,259.6 1458.7,259.6 1458.9,259.6 1459.1,259.5 1459.3,259.4 1459.5,259.2 1459.7,258.9 1459.9,258.3 1460.1,257.4 1460.3,256.1 1460.6,254.4 1460.8,252.3 1461.0,249.9 1461.2,247.5 1461.4,245.5 1461.6,244.1 1461.8,243.6 1462.0,244.1 1462.2,245.5 1462.4,247.5 1462.6,249.9 1462.8,252.3 1463.0,254.4 1463.2,256.1 1463.4,257.4 1463.6,258.3 1463.8,258.9 1464.1,259.2 1464.3,259.4 1464.5,259.5 1464.7,259.6 1464.9,259.6 1465.1,259.6 1465.3,259.6 1465.5,259.6 1465.7,259.6 1465.9,259.6 1466.1,259.5 1466.3,259.5 1466.5,259.4 1466.7,259.2 1466.9,259.1 1467.1,258.8 1467.3,258.5 1467.6,258.1 1467.8,257.7 1468.0,257.2 1468.2,256.7 1468.4,256.3 1468.6,255.9 1468.8,255.7 1469.0,255.6 1469.2,255.7 1469.4,255.9 1469.6,256.2 1469.8,256.7 1470.0,257.1 1470.2,257.6 1470.4,258.0 1470.6,258.3 1470.8,258.5 1471.0,258.7 1471.3,258.7 1471.5,258.5 1471.7,258.3 1471.9,258.1 1472.1,257.7 1472.3,257.4 1472.5,257.1 1472.7,256.8 1472.9,256.7 1473.1,256.6 1473.3,256.7 1473.5,256.8 1473.7,257.1 1473.9,257.4 1474.1,257.8 1474.3,258.1 1474.5,258.5 1474.8,258.8 1475.0,259.0 1475.2,259.2 1475.4,259.3 1475.6,259.4 1475.8,259.5 1476.0,259.5 1476.2,259.6 1476.4,259.6 1476.6,259.6 1476.8,259.6 1477.0,259.6 1477.2,259.6 1477.4,259.6 1477.6,259.6 1477.8,259.6 1478.0,259.6 1478.3,259.6 1478.5,259.6 1478.7,259.6 1478.9,259.6 1479.1,259.6 1479.3,259.6 1479.5,259.6 1479.7,259.6 1479.9,259.6 1480.1,259.6 1480.3,259.6 1480.5,259.6 1480.7,259.6 1480.9,259.6 1481.1,259.6 1481.3,259.6 1481.5,259.6 1481.8,259.6 1482.0,259.6 1482.2,259.6 1482.4,259.6 1482.6,259.6 1482.8,259.6 1483.0,259.6 1483.2,259.6 1483.4,259.6 1483.6,259.6 1483.8,259.6 1484.0,259.6 1484.2,259.6 1484.4,259.6 1484.6,259.6 1484.8,259.6 1485.0,259.6 1485.2,259.6 1485.5,259.6 1485.7,259.6 1485.9,259.6 1486.1,259.6 1486.3,259.6 1486.5,259.6 1486.7,259.6 1486.9,259.5 1487.1,259.4 1487.3,259.3 1487.5,259.0 1487.7,258.5 1487.9,257.7 1488.1,256.6 1488.3,255.1 1488.5,253.2 1488.7,251.1 1489.0,249.0 1489.2,247.2 1489.4,245.8 1489.6,245.2 1489.8,245.4 1490.0,246.2 1490.2,247.3 1490.4,248.5 1490.6,249.5 1490.8,250.2 1491.0,250.5 1491.2,250.6 1491.4,250.7 1491.6,251.0 1491.8,251.5 1492.0,252.4 1492.2,253.5 1492.5,254.7 1492.7,255.9 1492.9,257.0 1493.1,257.9 1493.3,258.5 1493.5,259.0 1493.7,259.2 1493.9,259.4 1494.1,259.5 1494.3,259.6 1494.5,259.6 1494.7,259.6 1494.9,259.6 1495.1,259.6 1495.3,259.6 1495.5,259.6 1495.7,259.6 1496.0,259.6 1496.2,259.6 1496.4,259.6 1496.6,259.6 1496.8,259.6 1497.0,259.6 1497.2,259.6 1497.4,259.6 1497.6,259.6 1497.8,259.6 1498.0,259.6 1498.2,259.6 1498.4,259.6 1498.6,259.6 1498.8,259.6 1499.0,259.6 1499.2,259.6 1499.4,259.6 1499.7,259.6 1499.9,259.6 1500.1,259.6 1500.3,259.6 1500.5,259.6 1500.7,259.6 1500.9,259.5 1501.1,259.5 1501.3,259.4 1501.5,259.3 1501.7,259.2 1501.9,258.9 1502.1,258.6 1502.3,258.2 1502.5,257.7 1502.7,257.2 1502.9,256.6 1503.2,256.0 1503.4,255.4 1503.6,255.0 1503.8,254.7 1504.0,254.6 1504.2,254.7 1504.4,255.0 1504.6,255.4 1504.8,256.0 1505.0,256.6 1505.2,257.2 1505.4,257.7 1505.6,258.2 1505.8,258.6 1506.0,258.9 1506.2,259.2 1506.4,259.3 1506.7,259.4 1506.9,259.5 1507.1,259.5 1507.3,259.6 1507.5,259.6 1507.7,259.5 1507.9,259.5 1508.1,259.3 1508.3,259.1 1508.5,258.8 1508.7,258.3 1508.9,257.7 1509.1,256.9 1509.3,256.0 1509.5,255.1 1509.7,254.3 1509.9,253.8 1510.2,253.6 1510.4,253.8 1510.6,254.3 1510.8,255.1 1511.0,256.0 1511.2,256.9 1511.4,257.7 1511.6,258.3 1511.8,258.8 1512.0,259.1 1512.2,259.3 1512.4,259.5 1512.6,259.5 1512.8,259.6 1513.0,259.6 1513.2,259.6 1513.4,259.6 1513.6,259.6 1513.9,259.6 1514.1,259.6 1514.3,259.6 1514.5,259.6 1514.7,259.6 1514.9,259.6 1515.1,259.6 1515.3,259.6 1515.5,259.6 1515.7,259.6 1515.9,259.6 1516.1,259.6 1516.3,259.6 1516.5,259.6 1516.7,259.6 1516.9,259.5 1517.1,259.4 1517.4,259.3 1517.6,259.0 1517.8,258.7 1518.0,258.1 1518.2,257.3 1518.4,256.4 1518.6,255.4 1518.8,254.3 1519.0,253.4 1519.2,252.8 1519.4,252.6 1519.6,252.8 1519.8,253.4 1520.0,254.3 1520.2,255.4 1520.4,256.4 1520.6,257.3 1520.9,258.1 1521.1,258.7 1521.3,259.0 1521.5,259.3 1521.7,259.4 1521.9,259.5 1522.1,259.6 1522.3,259.6 1522.5,259.6 1522.7,259.6 1522.9,259.6 1523.1,259.6 1523.3,259.6 1523.5,259.6 1523.7,259.6 1523.9,259.6 1524.1,259.6 1524.4,259.6 1524.6,259.6 1524.8,259.6 1525.0,259.6 1525.2,259.6 1525.4,259.6 1525.6,259.6 1525.8,259.6 1526.0,259.6 1526.2,259.6 1526.4,259.6 1526.6,259.6 1526.8,259.6 1527.0,259.6 1527.2,259.6 1527.4,259.6 1527.6,259.6 1527.8,259.6 1528.1,259.6 1528.3,259.6 1528.5,259.6 1528.7,259.6 1528.9,259.6 1529.1,259.6 1529.3,259.6 1529.5,259.6 1529.7,259.6 1529.9,259.6 1530.1,259.6 1530.3,259.6 1530.5,259.6 1530.7,259.6 1530.9,259.6 1531.1,259.6 1531.3,259.6 1531.6,259.6 1531.8,259.6 1532.0,259.5 1532.2,259.5 1532.4,259.4 1532.6,259.2 1532.8,259.1 1533.0,258.8 1533.2,258.5 1533.4,258.1 1533.6,257.7 1533.8,257.2 1534.0,256.7 1534.2,256.3 1534.4,255.9 1534.6,255.7 1534.8,255.6 1535.1,255.7 1535.3,255.9 1535.5,256.3 1535.7,256.7 1535.9,257.2 1536.1,257.7 1536.3,258.1 1536.5,258.5 1536.7,258.8 1536.9,259.1 1537.1,259.2 1537.3,259.4 1537.5,259.5 1537.7,259.5 1537.9,259.6 1538.1,259.6 1538.3,259.6 1538.6,259.6 1538.8,259.6 1539.0,259.6 1539.2,259.6 1539.4,259.6 1539.6,259.6 1539.8,259.6 1540.0,259.6 1540.2,259.6 1540.4,259.6 1540.6,259.6 1540.8,259.6 1541.0,259.6 1541.2,259.6 1541.4,259.6 1541.6,259.6 1541.8,259.6 1542.0,259.6" fill="none" stroke="#2a2ad6" stroke-width="1.6" stroke-linejoin="round" stroke-linecap="round" />
<polyline points="1079.0,204.1 1079.2,203.8 1079.4,201.7 1079.6,199.5 1079.8,203.6 1080.0,205.4 1080.2,203.9 1080.4,205.3 1080.6,205.4 1080.9,204.6 1081.1,204.7 1081.3,201.7 1081.5,203.0 1081.7,207.9 1081.9,208.7 1082.1,206.7 1082.3,205.4 1082.5,205.8 1082.7,207.6 1082.9,208.7 1083.1,206.1 1083.3,204.2 1083.5,204.4 1083.7,203.8 1083.9,203.2 1084.1,203.8 1084.4,201.3 1084.6,202.0 1084.8,204.7 1085.0,202.5 1085.2,202.8 1085.4,203.5 1085.6,205.4 1085.8,204.9 1086.0,203.3 1086.2,205.3 1086.4,204.1 1086.6,201.9 1086.8,203.6 1087.0,204.7 1087.2,202.9 1087.4,201.4 1087.6,203.6 1087.8,207.7 1088.1,206.1 1088.3,204.8 1088.5,207.0 1088.7,207.7 1088.9,205.4 1089.1,204.7 1089.3,206.5 1089.5,209.3 1089.7,208.7 1089.9,206.6 1090.1,207.5 1090.3,206.9 1090.5,204.5 1090.7,204.0 1090.9,207.4 1091.1,206.5 1091.3,204.8 1091.6,204.2 1091.8,204.3 1092.0,205.9 1092.2,206.5 1092.4,205.4 1092.6,203.9 1092.8,203.7 1093.0,204.6 1093.2,205.6 1093.4,208.4 1093.6,207.3 1093.8,205.1 1094.0,205.2 1094.2,203.6 1094.4,205.9 1094.6,207.1 1094.8,206.3 1095.1,203.9 1095.3,206.8 1095.5,211.5 1095.7,206.9 1095.9,202.2 1096.1,202.2 1096.3,204.4 1096.5,204.1 1096.7,204.1 1096.9,204.5 1097.1,207.9 1097.3,208.5 1097.5,204.1 1097.7,207.2 1097.9,208.2 1098.1,205.5 1098.3,205.0 1098.6,205.8 1098.8,205.2 1099.0,204.6 1099.2,204.4 1099.4,202.4 1099.6,202.7 1099.8,204.8 1100.0,207.4 1100.2,207.5 1100.4,204.9 1100.6,204.7 1100.8,206.0 1101.0,202.8 1101.2,201.4 1101.4,201.5 1101.6,199.7 1101.8,201.6 1102.0,203.8 1102.3,204.9 1102.5,205.3 1102.7,207.0 1102.9,207.4 1103.1,206.2 1103.3,205.1 1103.5,207.3 1103.7,209.5 1103.9,206.0 1104.1,203.5 1104.3,205.3 1104.5,207.5 1104.7,206.0 1104.9,206.2 1105.1,205.0 1105.3,203.2 1105.5,206.3 1105.8,205.7 1106.0,204.5 1106.2,205.3 1106.4,204.7 1106.6,202.2 1106.8,202.1 1107.0,204.9 1107.2,205.6 1107.4,206.4 1107.6,207.4 1107.8,205.9 1108.0,204.3 1108.2,207.1 1108.4,208.7 1108.6,206.4 1108.8,204.9 1109.0,206.3 1109.3,208.1 1109.5,206.5 1109.7,205.7 1109.9,205.8 1110.1,205.2 1110.3,207.7 1110.5,206.0 1110.7,204.5 1110.9,204.8 1111.1,202.8 1111.3,205.4 1111.5,204.5 1111.7,202.1 1111.9,202.3 1112.1,202.8 1112.3,204.8 1112.5,207.2 1112.8,205.9 1113.0,205.5 1113.2,204.7 1113.4,206.4 1113.6,207.4 1113.8,203.8 1114.0,204.8 1114.2,205.6 1114.4,204.9 1114.6,202.5 1114.8,203.9 1115.0,207.2 1115.2,205.4 1115.4,202.8 1115.6,203.7 1115.8,206.9 1116.0,204.1 1116.2,201.0 1116.5,203.5 1116.7,204.0 1116.9,203.4 1117.1,204.3 1117.3,205.9 1117.5,207.1 1117.7,207.4 1117.9,207.6 1118.1,205.3 1118.3,200.8 1118.5,202.1 1118.7,206.0 1118.9,206.2 1119.1,204.6 1119.3,206.7 1119.5,205.3 1119.7,203.8 1120.0,206.9 1120.2,207.1 1120.4,208.2 1120.6,207.6 1120.8,206.1 1121.0,205.0 1121.2,205.6 1121.4,206.6 1121.6,206.6 1121.8,204.5 1122.0,201.3 1122.2,202.9 1122.4,205.8 1122.6,203.6 1122.8,201.4 1123.0,203.1 1123.2,204.9 1123.5,205.8 1123.7,206.8 1123.9,206.1 1124.1,205.3 1124.3,207.3 1124.5,206.4 1124.7,207.7 1124.9,207.6 1125.1,204.7 1125.3,202.6 1125.5,202.3 1125.7,204.2 1125.9,203.4 1126.1,204.5 1126.3,203.9 1126.5,203.8 1126.7,202.6 1127.0,201.6 1127.2,206.2 1127.4,207.1 1127.6,206.0 1127.8,204.6 1128.0,202.0 1128.2,205.1 1128.4,208.3 1128.6,207.6 1128.8,206.2 1129.0,206.6 1129.2,206.0 1129.4,205.4 1129.6,206.9 1129.8,204.7 1130.0,205.7 1130.2,207.1 1130.4,206.3 1130.7,204.1 1130.9,201.3 1131.1,202.8 1131.3,205.1 1131.5,207.3 1131.7,207.1 1131.9,205.4 1132.1,205.6 1132.3,205.5 1132.5,204.9 1132.7,205.8 1132.9,204.6 1133.1,204.6 1133.3,203.6 1133.5,201.9 1133.7,204.8 1133.9,205.0 1134.2,204.8 1134.4,206.0 1134.6,205.1 1134.8,206.8 1135.0,207.8 1135.2,204.9 1135.4,203.5 1135.6,204.5 1135.8,203.1 1136.0,204.5 1136.2,206.5 1136.4,202.5 1136.6,201.3 1136.8,205.6 1137.0,207.3 1137.2,208.3 1137.4,208.0 1137.7,205.7 1137.9,208.3 1138.1,210.6 1138.3,206.6 1138.5,204.9 1138.7,204.8 1138.9,202.9 1139.1,201.9 1139.3,203.4 1139.5,204.4 1139.7,202.5 1139.9,206.6 1140.1,208.9 1140.3,206.0 1140.5,202.3 1140.7,202.9 1140.9,202.2 1141.2,200.6 1141.4,204.6 1141.6,207.0 1141.8,206.3 1142.0,206.3 1142.2,206.4 1142.4,204.2 1142.6,203.9 1142.8,207.4 1143.0,207.3 1143.2,205.3 1143.4,206.2 1143.6,203.8 1143.8,201.7 1144.0,201.4 1144.2,203.3 1144.4,205.0 1144.7,202.8 1144.9,201.5 1145.1,204.2 1145.3,207.1 1145.5,206.7 1145.7,205.6 1145.9,205.7 1146.1,205.7 1146.3,205.5 1146.5,204.9 1146.7,203.0 1146.9,202.5 1147.1,204.3 1147.3,207.6 1147.5,206.1 1147.7,202.2 1147.9,204.4 1148.1,206.9 1148.4,204.9 1148.6,203.1 1148.8,203.3 1149.0,204.5 1149.2,209.6 1149.4,208.1 1149.6,204.3 1149.8,204.6 1150.0,204.4 1150.2,205.6 1150.4,205.8 1150.6,203.8 1150.8,202.1 1151.0,204.7 1151.2,206.5 1151.4,205.5 1151.6,205.9 1151.9,204.6 1152.1,205.4 1152.3,205.3 1152.5,202.2 1152.7,201.9 1152.9,203.2 1153.1,208.2 1153.3,208.5 1153.5,205.2 1153.7,207.3 1153.9,206.3 1154.1,202.2 1154.3,201.9 1154.5,203.3 1154.7,201.9 1154.9,202.0 1155.1,204.4 1155.4,207.6 1155.6,208.6 1155.8,205.9 1156.0,204.1 1156.2,202.9 1156.4,201.1 1156.6,201.9 1156.8,201.3 1157.0,201.3 1157.2,206.7 1157.4,206.3 1157.6,204.6 1157.8,204.0 1158.0,200.8 1158.2,202.3 1158.4,204.6 1158.6,204.9 1158.9,205.4 1159.1,205.6 1159.3,204.8 1159.5,204.7 1159.7,206.7 1159.9,205.2 1160.1,203.4 1160.3,205.5 1160.5,206.6 1160.7,204.7 1160.9,201.7 1161.1,201.4 1161.3,205.2 1161.5,204.5 1161.7,201.6 1161.9,200.1 1162.1,199.4 1162.3,199.6 1162.6,199.2 1162.8,197.5 1163.0,194.8 1163.2,198.2 1163.4,199.8 1163.6,195.8 1163.8,195.8 1164.0,198.4 1164.2,201.0 1164.4,201.7 1164.6,200.7 1164.8,201.9 1165.0,201.2 1165.2,199.9 1165.4,204.0 1165.6,206.0 1165.8,204.4 1166.1,203.5 1166.3,202.0 1166.5,203.3 1166.7,205.1 1166.9,207.1 1167.1,205.9 1167.3,203.5 1167.5,204.2 1167.7,203.0 1167.9,206.0 1168.1,209.1 1168.3,206.8 1168.5,203.0 1168.7,203.2 1168.9,205.8 1169.1,204.5 1169.3,201.6 1169.6,205.0 1169.8,205.3 1170.0,204.3 1170.2,205.2 1170.4,203.2 1170.6,205.5 1170.8,204.5 1171.0,202.6 1171.2,204.1 1171.4,206.2 1171.6,207.7 1171.8,206.2 1172.0,203.1 1172.2,204.6 1172.4,205.8 1172.6,204.5 1172.8,202.5 1173.1,201.9 1173.3,205.2 1173.5,204.9 1173.7,205.1 1173.9,207.3 1174.1,208.7 1174.3,206.1 1174.5,201.8 1174.7,199.2 1174.9,200.8 1175.1,202.0 1175.3,203.1 1175.5,202.4 1175.7,203.3 1175.9,206.2 1176.1,202.5 1176.3,202.8 1176.5,205.8 1176.8,206.2 1177.0,205.4 1177.2,205.5 1177.4,206.2 1177.6,204.9 1177.8,204.3 1178.0,202.9 1178.2,203.9 1178.4,203.9 1178.6,202.6 1178.8,202.7 1179.0,204.3 1179.2,206.1 1179.4,203.4 1179.6,203.5 1179.8,204.6 1180.0,205.2 1180.3,205.5 1180.5,204.5 1180.7,204.1 1180.9,201.9 1181.1,202.9 1181.3,206.2 1181.5,204.2 1181.7,203.9 1181.9,206.8 1182.1,207.4 1182.3,207.6 1182.5,207.6 1182.7,205.3 1182.9,207.1 1183.1,207.8 1183.3,204.0 1183.5,206.0 1183.8,205.8 1184.0,205.0 1184.2,204.9 1184.4,205.3 1184.6,208.3 1184.8,206.0 1185.0,205.0 1185.2,206.7 1185.4,205.8 1185.6,205.5 1185.8,205.5 1186.0,203.9 1186.2,202.7 1186.4,204.0 1186.6,206.1 1186.8,206.9 1187.0,206.8 1187.3,206.6 1187.5,205.5 1187.7,206.9 1187.9,206.3 1188.1,205.0 1188.3,205.9 1188.5,204.5 1188.7,207.5 1188.9,208.7 1189.1,204.3 1189.3,204.1 1189.5,205.1 1189.7,207.1 1189.9,206.6 1190.1,204.2 1190.3,204.6 1190.5,203.7 1190.7,205.4 1191.0,207.7 1191.2,208.5 1191.4,206.7 1191.6,204.2 1191.8,205.1 1192.0,205.4 1192.2,206.8 1192.4,205.4 1192.6,203.9 1192.8,204.1 1193.0,202.1 1193.2,201.6 1193.4,201.1 1193.6,204.0 1193.8,204.8 1194.0,202.6 1194.2,201.9 1194.5,202.0 1194.7,203.0 1194.9,205.4 1195.1,206.0 1195.3,204.5 1195.5,204.1 1195.7,205.0 1195.9,203.5 1196.1,202.6 1196.3,202.0 1196.5,199.8 1196.7,201.8 1196.9,203.1 1197.1,201.8 1197.3,200.3 1197.5,201.3 1197.7,205.8 1198.0,206.2 1198.2,204.3 1198.4,203.8 1198.6,205.0 1198.8,204.9 1199.0,207.7 1199.2,208.8 1199.4,205.0 1199.6,206.5 1199.8,205.0 1200.0,202.4 1200.2,203.0 1200.4,203.7 1200.6,207.1 1200.8,206.1 1201.0,207.1 1201.2,209.8 1201.5,208.5 1201.7,207.5 1201.9,203.3 1202.1,201.3 1202.3,205.2 1202.5,206.4 1202.7,205.1 1202.9,206.0 1203.1,207.5 1203.3,208.9 1203.5,207.3 1203.7,205.7 1203.9,206.6 1204.1,205.0 1204.3,202.7 1204.5,202.3 1204.7,202.0 1204.9,201.7 1205.2,204.2 1205.4,205.9 1205.6,207.2 1205.8,207.1 1206.0,205.0 1206.2,204.8 1206.4,205.4 1206.6,206.9 1206.8,205.4 1207.0,205.0 1207.2,204.4 1207.4,203.2 1207.6,202.8 1207.8,204.8 1208.0,204.8 1208.2,202.1 1208.4,204.7 1208.7,206.0 1208.9,202.7 1209.1,201.3 1209.3,202.3 1209.5,202.2 1209.7,202.8 1209.9,202.6 1210.1,201.0 1210.3,203.6 1210.5,207.5 1210.7,208.1 1210.9,205.1 1211.1,203.7 1211.3,203.3 1211.5,203.0 1211.7,198.4 1211.9,185.7 1212.2,169.6 1212.4,147.3 1212.6,124.2 1212.8,112.8 1213.0,120.4 1213.2,140.5 1213.4,166.7 1213.6,186.8 1213.8,196.4 1214.0,202.1 1214.2,202.1 1214.4,203.0 1214.6,204.8 1214.8,204.5 1215.0,204.1 1215.2,204.7 1215.4,203.5 1215.7,203.0 1215.9,203.7 1216.1,202.9 1216.3,203.8 1216.5,201.8 1216.7,199.8 1216.9,202.5 1217.1,206.5 1217.3,207.6 1217.5,204.5 1217.7,205.7 1217.9,207.0 1218.1,204.1 1218.3,203.7 1218.5,206.7 1218.7,208.0 1218.9,205.0 1219.1,202.4 1219.4,204.2 1219.6,204.1 1219.8,202.6 1220.0,205.2 1220.2,204.4 1220.4,202.3 1220.6,204.1 1220.8,204.8 1221.0,206.3 1221.2,206.7 1221.4,205.7 1221.6,206.6 1221.8,205.0 1222.0,205.2 1222.2,207.8 1222.4,206.4 1222.6,203.9 1222.9,203.8 1223.1,206.5 1223.3,206.8 1223.5,204.2 1223.7,202.5 1223.9,203.1 1224.1,203.0 1224.3,204.3 1224.5,205.0 1224.7,202.0 1224.9,204.5 1225.1,206.7 1225.3,206.0 1225.5,204.3 1225.7,204.7 1225.9,206.3 1226.1,205.5 1226.4,206.3 1226.6,207.5 1226.8,206.2 1227.0,206.9 1227.2,207.8 1227.4,205.5 1227.6,205.7 1227.8,206.1 1228.0,207.4 1228.2,207.4 1228.4,205.1 1228.6,204.7 1228.8,206.0 1229.0,203.9 1229.2,201.0 1229.4,202.8 1229.6,205.2 1229.9,206.4 1230.1,205.3 1230.3,202.3 1230.5,199.8 1230.7,201.7 1230.9,204.0 1231.1,204.6 1231.3,206.5 1231.5,204.9 1231.7,205.5 1231.9,206.1 1232.1,204.0 1232.3,204.8 1232.5,202.4 1232.7,205.4 1232.9,207.6 1233.1,205.9 1233.3,205.4 1233.6,201.7 1233.8,201.2 1234.0,201.8 1234.2,200.6 1234.4,198.7 1234.6,202.3 1234.8,204.8 1235.0,204.0 1235.2,206.6 1235.4,205.7 1235.6,204.1 1235.8,206.2 1236.0,206.7 1236.2,205.6 1236.4,203.8 1236.6,202.2 1236.8,204.5 1237.1,205.4 1237.3,205.7 1237.5,207.0 1237.7,206.4 1237.9,206.3 1238.1,206.1 1238.3,206.8 1238.5,203.6 1238.7,201.0 1238.9,204.3 1239.1,207.6 1239.3,204.8 1239.5,201.8 1239.7,204.7 1239.9,207.2 1240.1,206.0 1240.3,201.4 1240.6,202.5 1240.8,206.4 1241.0,206.6 1241.2,206.1 1241.4,206.3 1241.6,204.7 1241.8,204.7 1242.0,206.8 1242.2,206.1 1242.4,203.7 1242.6,202.9 1242.8,205.0 1243.0,204.9 1243.2,205.7 1243.4,206.9 1243.6,204.8 1243.8,205.7 1244.1,206.0 1244.3,207.8 1244.5,209.8 1244.7,205.9 1244.9,203.4 1245.1,201.7 1245.3,203.2 1245.5,206.6 1245.7,205.7 1245.9,203.2 1246.1,205.0 1246.3,208.7 1246.5,206.0 1246.7,203.4 1246.9,203.3 1247.1,205.3 1247.3,206.4 1247.6,205.2 1247.8,204.3 1248.0,202.6 1248.2,202.1 1248.4,201.6 1248.6,203.8 1248.8,206.0 1249.0,204.7 1249.2,204.1 1249.4,202.8 1249.6,200.5 1249.8,200.7 1250.0,202.8 1250.2,203.4 1250.4,205.3 1250.6,207.1 1250.8,204.5 1251.0,202.1 1251.3,204.8 1251.5,203.0 1251.7,201.3 1251.9,205.4 1252.1,205.9 1252.3,204.3 1252.5,205.0 1252.7,204.8 1252.9,202.7 1253.1,203.9 1253.3,204.9 1253.5,205.4 1253.7,207.1 1253.9,208.2 1254.1,203.3 1254.3,201.9 1254.5,206.0 1254.8,206.7 1255.0,205.5 1255.2,203.9 1255.4,204.9 1255.6,204.2 1255.8,201.4 1256.0,203.5 1256.2,206.7 1256.4,204.1 1256.6,204.6 1256.8,205.0 1257.0,204.1 1257.2,203.5 1257.4,203.0 1257.6,203.8 1257.8,203.0 1258.0,204.5 1258.3,206.0 1258.5,204.3 1258.7,205.5 1258.9,205.6 1259.1,201.3 1259.3,202.1 1259.5,206.9 1259.7,206.6 1259.9,202.1 1260.1,201.9 1260.3,204.2 1260.5,205.9 1260.7,206.1 1260.9,206.8 1261.1,209.0 1261.3,207.7 1261.5,205.5 1261.8,205.4 1262.0,205.4 1262.2,207.0 1262.4,207.0 1262.6,204.0 1262.8,204.7 1263.0,208.2 1263.2,207.3 1263.4,207.8 1263.6,209.0 1263.8,204.3 1264.0,202.2 1264.2,202.7 1264.4,202.6 1264.6,202.9 1264.8,203.9 1265.0,206.0 1265.2,202.9 1265.5,203.1 1265.7,205.7 1265.9,206.0 1266.1,205.8 1266.3,201.3 1266.5,201.5 1266.7,205.1 1266.9,205.9 1267.1,205.2 1267.3,203.2 1267.5,202.0 1267.7,202.4 1267.9,202.2 1268.1,203.4 1268.3,205.4 1268.5,206.4 1268.7,206.5 1269.0,205.1 1269.2,205.5 1269.4,205.6 1269.6,203.4 1269.8,204.7 1270.0,206.0 1270.2,204.7 1270.4,206.4 1270.6,207.3 1270.8,206.5 1271.0,208.5 1271.2,209.2 1271.4,207.7 1271.6,206.2 1271.8,202.3 1272.0,198.7 1272.2,200.1 1272.5,206.8 1272.7,207.8 1272.9,204.0 1273.1,205.0 1273.3,207.2 1273.5,206.9 1273.7,206.2 1273.9,206.1 1274.1,204.8 1274.3,203.5 1274.5,200.9 1274.7,201.6 1274.9,204.6 1275.1,205.1 1275.3,206.5 1275.5,204.2 1275.7,201.2 1276.0,204.0 1276.2,203.4 1276.4,202.7 1276.6,205.0 1276.8,205.4 1277.0,204.2 1277.2,204.3 1277.4,203.8 1277.6,204.0 1277.8,205.6 1278.0,204.0 1278.2,204.2 1278.4,206.5 1278.6,204.8 1278.8,202.8 1279.0,202.5 1279.2,204.1 1279.4,206.8 1279.7,204.3 1279.9,202.9 1280.1,202.6 1280.3,203.0 1280.5,205.9 1280.7,205.1 1280.9,203.7 1281.1,202.2 1281.3,204.5 1281.5,205.2 1281.7,203.0 1281.9,204.2 1282.1,205.4 1282.3,205.6 1282.5,203.6 1282.7,202.1 1282.9,204.3 1283.2,203.7 1283.4,204.2 1283.6,208.5 1283.8,208.9 1284.0,205.8 1284.2,202.3 1284.4,203.8 1284.6,206.4 1284.8,204.7 1285.0,204.9 1285.2,204.8 1285.4,204.1 1285.6,205.7 1285.8,205.1 1286.0,204.9 1286.2,205.6 1286.4,203.3 1286.7,203.7 1286.9,205.4 1287.1,203.7 1287.3,203.3 1287.5,204.6 1287.7,206.2 1287.9,204.8 1288.1,202.9 1288.3,206.0 1288.5,207.0 1288.7,205.2 1288.9,205.1 1289.1,205.9 1289.3,208.2 1289.5,208.2 1289.7,208.6 1289.9,209.5 1290.2,204.3 1290.4,201.1 1290.6,202.3 1290.8,204.1 1291.0,206.2 1291.2,203.7 1291.4,205.5 1291.6,207.4 1291.8,207.4 1292.0,206.4 1292.2,205.3 1292.4,207.9 1292.6,206.3 1292.8,205.0 1293.0,205.5 1293.2,204.5 1293.4,204.9 1293.6,202.8 1293.9,203.3 1294.1,206.1 1294.3,203.4 1294.5,204.2 1294.7,203.2 1294.9,200.7 1295.1,205.0 1295.3,207.3 1295.5,204.8 1295.7,206.0 1295.9,206.5 1296.1,204.3 1296.3,204.7 1296.5,205.9 1296.7,206.6 1296.9,204.3 1297.1,203.1 1297.4,205.2 1297.6,207.3 1297.8,206.9 1298.0,206.5 1298.2,207.4 1298.4,204.7 1298.6,203.3 1298.8,207.6 1299.0,207.5 1299.2,205.6 1299.4,204.2 1299.6,207.4 1299.8,208.1 1300.0,204.8 1300.2,206.6 1300.4,203.5 1300.6,202.5 1300.9,206.2 1301.1,205.6 1301.3,205.4 1301.5,205.8 1301.7,206.2 1301.9,209.8 1302.1,206.6 1302.3,203.9 1302.5,204.4 1302.7,202.6 1302.9,203.6 1303.1,205.2 1303.3,205.8 1303.5,206.1 1303.7,202.4 1303.9,201.1 1304.1,201.2 1304.4,202.3 1304.6,206.4 1304.8,206.3 1305.0,204.4 1305.2,204.5 1305.4,206.3 1305.6,206.6 1305.8,204.7 1306.0,203.4 1306.2,205.9 1306.4,206.4 1306.6,204.9 1306.8,204.9 1307.0,205.5 1307.2,206.2 1307.4,204.9 1307.6,203.7 1307.8,203.7 1308.1,204.3 1308.3,205.5 1308.5,203.3 1308.7,204.6 1308.9,205.1 1309.1,203.0 1309.3,203.0 1309.5,202.1 1309.7,203.4 1309.9,204.9 1310.1,205.3 1310.3,205.6 1310.5,204.8 1310.7,205.8 1310.9,204.0 1311.1,202.1 1311.3,204.7 1311.6,203.7 1311.8,203.1 1312.0,202.4 1312.2,202.9 1312.4,203.4 1312.6,203.7 1312.8,204.5 1313.0,203.7 1313.2,202.9 1313.4,200.6 1313.6,200.5 1313.8,201.7 1314.0,198.9 1314.2,194.5 1314.4,192.0 1314.6,192.5 1314.8,188.3 1315.1,184.4 1315.3,183.2 1315.5,180.8 1315.7,176.7 1315.9,174.1 1316.1,173.1 1316.3,172.4 1316.5,176.1 1316.7,175.9 1316.9,177.7 1317.1,180.3 1317.3,181.4 1317.5,187.4 1317.7,190.8 1317.9,191.3 1318.1,189.4 1318.3,190.1 1318.6,195.9 1318.8,197.8 1319.0,197.3 1319.2,200.1 1319.4,200.3 1319.6,198.7 1319.8,202.1 1320.0,206.7 1320.2,205.0 1320.4,202.6 1320.6,204.5 1320.8,203.5 1321.0,201.7 1321.2,203.2 1321.4,203.0 1321.6,201.4 1321.8,205.5 1322.0,204.0 1322.3,204.1 1322.5,208.8 1322.7,205.3 1322.9,205.0 1323.1,206.1 1323.3,203.3 1323.5,202.3 1323.7,202.6 1323.9,205.5 1324.1,204.9 1324.3,201.0 1324.5,202.1 1324.7,203.0 1324.9,206.5 1325.1,206.7 1325.3,202.8 1325.5,202.4 1325.8,202.3 1326.0,200.6 1326.2,201.7 1326.4,203.5 1326.6,203.0 1326.8,205.7 1327.0,207.5 1327.2,207.0 1327.4,204.3 1327.6,203.0 1327.8,203.6 1328.0,203.3 1328.2,203.8 1328.4,203.5 1328.6,205.2 1328.8,204.9 1329.0,205.4 1329.3,207.0 1329.5,205.0 1329.7,205.0 1329.9,204.7 1330.1,203.7 1330.3,205.5 1330.5,205.6 1330.7,210.1 1330.9,208.8 1331.1,201.1 1331.3,204.6 1331.5,205.7 1331.7,203.0 1331.9,202.3 1332.1,202.8 1332.3,203.2 1332.5,204.5 1332.8,204.7 1333.0,203.6 1333.2,205.4 1333.4,205.7 1333.6,204.1 1333.8,202.4 1334.0,201.0 1334.2,200.3 1334.4,203.4 1334.6,204.7 1334.8,203.1 1335.0,204.1 1335.2,205.2 1335.4,206.4 1335.6,206.6 1335.8,204.8 1336.0,202.6 1336.2,203.5 1336.5,205.0 1336.7,204.3 1336.9,203.3 1337.1,203.8 1337.3,206.2 1337.5,205.5 1337.7,205.3 1337.9,205.6 1338.1,204.2 1338.3,205.9 1338.5,206.0 1338.7,204.7 1338.9,203.0 1339.1,203.8 1339.3,205.3 1339.5,204.0 1339.7,204.0 1340.0,204.6 1340.2,204.3 1340.4,202.4 1340.6,203.5 1340.8,205.3 1341.0,204.4 1341.2,205.0 1341.4,207.2 1341.6,205.2 1341.8,204.4 1342.0,206.0 1342.2,203.3 1342.4,200.9 1342.6,200.0 1342.8,203.6 1343.0,206.1 1343.2,203.6 1343.5,205.2 1343.7,207.9 1343.9,207.7 1344.1,207.7 1344.3,208.9 1344.5,211.9 1344.7,208.8 1344.9,203.0 1345.1,203.2 1345.3,204.7 1345.5,204.6 1345.7,204.8 1345.9,203.3 1346.1,203.6 1346.3,207.0 1346.5,207.7 1346.7,207.9 1347.0,206.0 1347.2,205.6 1347.4,202.5 1347.6,201.7 1347.8,204.7 1348.0,207.5 1348.2,207.5 1348.4,202.7 1348.6,205.7 1348.8,206.6 1349.0,203.5 1349.2,203.5 1349.4,198.5 1349.6,201.0 1349.8,205.2 1350.0,205.2 1350.2,205.0 1350.5,204.8 1350.7,207.9 1350.9,207.9 1351.1,205.5 1351.3,203.9 1351.5,204.1 1351.7,202.9 1351.9,203.1 1352.1,205.9 1352.3,203.6 1352.5,200.9 1352.7,205.6 1352.9,207.3 1353.1,207.3 1353.3,208.2 1353.5,206.6 1353.7,206.1 1353.9,207.5 1354.2,209.1 1354.4,206.6 1354.6,202.0 1354.8,200.3 1355.0,202.8 1355.2,203.2 1355.4,204.2 1355.6,206.2 1355.8,206.0 1356.0,206.3 1356.2,205.8 1356.4,205.6 1356.6,205.6 1356.8,203.5 1357.0,203.2 1357.2,204.7 1357.4,206.0 1357.7,205.5 1357.9,202.9 1358.1,206.1 1358.3,208.5 1358.5,207.4 1358.7,208.6 1358.9,206.6 1359.1,205.8 1359.3,206.5 1359.5,203.5 1359.7,203.5 1359.9,205.4 1360.1,205.9 1360.3,205.2 1360.5,204.0 1360.7,202.8 1360.9,204.3 1361.2,203.1 1361.4,201.9 1361.6,204.0 1361.8,203.4 1362.0,204.4 1362.2,204.5 1362.4,201.7 1362.6,199.3 1362.8,199.1 1363.0,200.9 1363.2,203.0 1363.4,203.7 1363.6,204.2 1363.8,205.0 1364.0,204.3 1364.2,202.1 1364.4,202.0 1364.7,203.1 1364.9,206.2 1365.1,208.5 1365.3,204.9 1365.5,203.3 1365.7,206.3 1365.9,206.8 1366.1,206.5 1366.3,206.6 1366.5,205.5 1366.7,206.1 1366.9,204.9 1367.1,203.0 1367.3,203.3 1367.5,205.9 1367.7,206.8 1367.9,203.5 1368.1,204.5 1368.4,207.0 1368.6,206.9 1368.8,206.6 1369.0,205.4 1369.2,202.1 1369.4,202.5 1369.6,202.7 1369.8,202.0 1370.0,207.1 1370.2,207.7 1370.4,205.6 1370.6,204.6 1370.8,204.5 1371.0,203.4 1371.2,202.7 1371.4,204.9 1371.6,204.8 1371.9,202.9 1372.1,199.9 1372.3,200.6 1372.5,202.7 1372.7,202.8 1372.9,204.6 1373.1,202.9 1373.3,203.3 1373.5,203.8 1373.7,206.3 1373.9,210.0 1374.1,207.4 1374.3,204.4 1374.5,203.8 1374.7,205.2 1374.9,204.1 1375.1,203.1 1375.4,205.5 1375.6,206.5 1375.8,207.7 1376.0,209.2 1376.2,206.4 1376.4,205.6 1376.6,205.9 1376.8,203.3 1377.0,203.9 1377.2,204.5 1377.4,205.7 1377.6,208.3 1377.8,202.9 1378.0,201.6 1378.2,203.5 1378.4,205.7 1378.6,207.0 1378.9,205.1 1379.1,206.1 1379.3,204.3 1379.5,203.7 1379.7,206.9 1379.9,205.8 1380.1,204.8 1380.3,205.3 1380.5,207.7 1380.7,210.8 1380.9,207.7 1381.1,204.6 1381.3,205.3 1381.5,205.5 1381.7,204.5 1381.9,203.9 1382.1,206.5 1382.3,210.5 1382.6,208.8 1382.8,203.4 1383.0,200.6 1383.2,203.6 1383.4,204.2 1383.6,202.7 1383.8,204.2 1384.0,204.4 1384.2,205.9 1384.4,204.7 1384.6,203.1 1384.8,203.3 1385.0,203.4 1385.2,202.4 1385.4,201.5 1385.6,205.7 1385.8,205.3 1386.1,204.2 1386.3,204.4 1386.5,204.3 1386.7,204.5 1386.9,205.1 1387.1,204.1 1387.3,203.0 1387.5,205.5 1387.7,204.8 1387.9,204.9 1388.1,207.1 1388.3,206.4 1388.5,202.3 1388.7,204.4 1388.9,205.5 1389.1,203.1 1389.3,205.5 1389.6,207.8 1389.8,207.3 1390.0,203.8 1390.2,204.6 1390.4,208.2 1390.6,205.9 1390.8,204.4 1391.0,205.8 1391.2,205.2 1391.4,204.8 1391.6,205.1 1391.8,206.3 1392.0,209.3 1392.2,205.8 1392.4,204.7 1392.6,207.5 1392.8,203.7 1393.1,201.5 1393.3,204.9 1393.5,204.6 1393.7,205.3 1393.9,205.7 1394.1,203.6 1394.3,204.2 1394.5,201.7 1394.7,202.1 1394.9,206.9 1395.1,208.1 1395.3,205.7 1395.5,206.8 1395.7,208.1 1395.9,205.5 1396.1,204.4 1396.3,205.8 1396.5,204.6 1396.8,201.5 1397.0,203.4 1397.2,207.6 1397.4,205.5 1397.6,209.5 1397.8,208.5 1398.0,203.0 1398.2,205.1 1398.4,204.3 1398.6,203.9 1398.8,207.2 1399.0,205.7 1399.2,200.6 1399.4,201.2 1399.6,202.7 1399.8,202.9 1400.0,203.2 1400.3,203.8 1400.5,208.1 1400.7,208.2 1400.9,208.0 1401.1,207.8 1401.3,203.9 1401.5,201.1 1401.7,202.2 1401.9,205.8 1402.1,209.3 1402.3,206.0 1402.5,201.2 1402.7,203.2 1402.9,203.8 1403.1,204.3 1403.3,203.4 1403.5,203.3 1403.8,203.1 1404.0,201.8 1404.2,203.6 1404.4,206.7 1404.6,205.4 1404.8,201.1 1405.0,201.2 1405.2,203.9 1405.4,204.6 1405.6,206.3 1405.8,204.9 1406.0,202.7 1406.2,203.3 1406.4,206.1 1406.6,207.6 1406.8,204.7 1407.0,203.0 1407.3,204.7 1407.5,204.0 1407.7,204.3 1407.9,207.8 1408.1,207.0 1408.3,205.8 1408.5,205.0 1408.7,205.9 1408.9,205.6 1409.1,205.8 1409.3,204.1 1409.5,204.6 1409.7,206.5 1409.9,206.3 1410.1,207.0 1410.3,204.5 1410.5,203.8 1410.7,203.7 1411.0,205.0 1411.2,203.9 1411.4,200.7 1411.6,204.0 1411.8,206.6 1412.0,203.9 1412.2,204.2 1412.4,203.7 1412.6,203.0 1412.8,202.9 1413.0,203.9 1413.2,205.7 1413.4,205.0 1413.6,202.1 1413.8,200.1 1414.0,200.9 1414.2,201.9 1414.5,204.0 1414.7,202.2 1414.9,201.5 1415.1,203.7 1415.3,205.0 1415.5,205.0 1415.7,204.7 1415.9,206.7 1416.1,204.1 1416.3,204.0 1416.5,204.3 1416.7,202.6 1416.9,203.5 1417.1,203.9 1417.3,204.7 1417.5,206.1 1417.7,204.2 1418.0,203.9 1418.2,206.8 1418.4,207.1 1418.6,205.6 1418.8,205.9 1419.0,207.1 1419.2,206.1 1419.4,205.9 1419.6,205.8 1419.8,207.7 1420.0,206.4 1420.2,201.7 1420.4,202.2 1420.6,205.9 1420.8,204.7 1421.0,203.1 1421.2,201.8 1421.5,203.1 1421.7,203.8 1421.9,204.4 1422.1,207.5 1422.3,208.9 1422.5,209.2 1422.7,208.1 1422.9,206.4 1423.1,207.7 1423.3,204.7 1423.5,200.2 1423.7,205.5 1423.9,206.2 1424.1,202.1 1424.3,202.1 1424.5,204.9 1424.7,207.4 1424.9,207.2 1425.2,205.0 1425.4,203.7 1425.6,205.3 1425.8,205.2 1426.0,205.1 1426.2,203.7 1426.4,204.5 1426.6,206.6 1426.8,204.9 1427.0,203.9 1427.2,200.7 1427.4,203.4 1427.6,205.8 1427.8,203.9 1428.0,204.7 1428.2,206.0 1428.4,205.9 1428.7,207.2 1428.9,208.5 1429.1,205.2 1429.3,203.4 1429.5,207.6 1429.7,207.1 1429.9,202.8 1430.1,202.5 1430.3,203.4 1430.5,204.9 1430.7,206.4 1430.9,205.2 1431.1,201.4 1431.3,205.3 1431.5,203.4 1431.7,200.9 1431.9,202.2 1432.2,203.0 1432.4,204.4 1432.6,204.5 1432.8,205.1 1433.0,204.5 1433.2,203.3 1433.4,202.9 1433.6,205.0 1433.8,205.3 1434.0,206.5 1434.2,207.6 1434.4,210.0 1434.6,206.8 1434.8,203.5 1435.0,205.3 1435.2,205.5 1435.4,207.6 1435.7,209.7 1435.9,209.9 1436.1,205.7 1436.3,202.2 1436.5,202.1 1436.7,203.3 1436.9,202.5 1437.1,202.2 1437.3,202.1 1437.5,202.0 1437.7,204.2 1437.9,206.4 1438.1,206.3 1438.3,204.2 1438.5,205.2 1438.7,204.4 1438.9,205.3 1439.1,206.5 1439.4,205.4 1439.6,205.1 1439.8,204.4 1440.0,204.3 1440.2,203.3 1440.4,204.0 1440.6,206.0 1440.8,203.8 1441.0,202.7 1441.2,206.3 1441.4,205.8 1441.6,206.0 1441.8,207.5 1442.0,204.3 1442.2,202.4 1442.4,205.9 1442.6,208.4 1442.9,207.1 1443.1,205.7 1443.3,201.6 1443.5,201.3 1443.7,202.2 1443.9,202.1 1444.1,204.5 1444.3,204.5 1444.5,205.3 1444.7,205.7 1444.9,203.2 1445.1,202.4 1445.3,205.5 1445.5,209.2 1445.7,206.2 1445.9,203.9 1446.1,207.1 1446.4,207.2 1446.6,205.4 1446.8,206.4 1447.0,209.3 1447.2,207.8 1447.4,204.0 1447.6,201.7 1447.8,204.0 1448.0,208.0 1448.2,206.6 1448.4,204.7 1448.6,204.7 1448.8,207.6 1449.0,206.6 1449.2,204.7 1449.4,205.2 1449.6,205.2 1449.9,206.8 1450.1,207.5 1450.3,206.5 1450.5,203.8 1450.7,203.3 1450.9,202.8 1451.1,205.0 1451.3,206.3 1451.5,202.5 1451.7,202.9 1451.9,204.6 1452.1,201.8 1452.3,202.0 1452.5,204.4 1452.7,203.9 1452.9,203.1 1453.1,202.3 1453.4,201.4 1453.6,205.8 1453.8,205.7 1454.0,203.8 1454.2,206.4 1454.4,205.6 1454.6,201.9 1454.8,203.5 1455.0,205.4 1455.2,206.9 1455.4,207.3 1455.6,202.6 1455.8,204.9 1456.0,206.0 1456.2,204.7 1456.4,206.6 1456.6,204.9 1456.8,201.6 1457.1,203.0 1457.3,206.3 1457.5,206.1 1457.7,204.1 1457.9,206.4 1458.1,208.4 1458.3,206.4 1458.5,208.0 1458.7,207.3 1458.9,204.7 1459.1,204.1 1459.3,204.5 1459.5,207.4 1459.7,206.3 1459.9,202.7 1460.1,203.3 1460.3,205.2 1460.6,205.3 1460.8,203.7 1461.0,203.6 1461.2,204.4 1461.4,205.1 1461.6,206.3 1461.8,204.8 1462.0,204.9 1462.2,206.1 1462.4,208.2 1462.6,207.0 1462.8,205.0 1463.0,204.2 1463.2,204.0 1463.4,203.0 1463.6,202.5 1463.8,206.7 1464.1,207.1 1464.3,204.5 1464.5,203.8 1464.7,203.0 1464.9,204.6 1465.1,205.3 1465.3,203.3 1465.5,206.4 1465.7,209.0 1465.9,206.8 1466.1,204.4 1466.3,205.9 1466.5,209.7 1466.7,207.7 1466.9,205.5 1467.1,206.3 1467.3,207.9 1467.6,207.9 1467.8,206.3 1468.0,205.1 1468.2,203.8 1468.4,204.7 1468.6,205.9 1468.8,204.9 1469.0,203.2 1469.2,203.4 1469.4,204.1 1469.6,204.5 1469.8,206.7 1470.0,207.7 1470.2,208.2 1470.4,204.4 1470.6,204.4 1470.8,205.2 1471.0,203.8 1471.3,205.4 1471.5,205.7 1471.7,204.4 1471.9,204.4 1472.1,203.3 1472.3,204.1 1472.5,205.1 1472.7,206.6 1472.9,207.3 1473.1,203.8 1473.3,204.3 1473.5,205.2 1473.7,205.3 1473.9,204.1 1474.1,203.5 1474.3,203.8 1474.5,206.2 1474.8,205.6 1475.0,204.2 1475.2,204.3 1475.4,203.7 1475.6,204.9 1475.8,205.7 1476.0,203.5 1476.2,203.7 1476.4,205.3 1476.6,205.0 1476.8,208.4 1477.0,208.2 1477.2,202.5 1477.4,204.2 1477.6,205.2 1477.8,202.5 1478.0,202.9 1478.3,204.8 1478.5,203.3 1478.7,201.5 1478.9,202.6 1479.1,204.3 1479.3,205.9 1479.5,204.9 1479.7,204.4 1479.9,203.2 1480.1,201.6 1480.3,204.2 1480.5,205.0 1480.7,203.8 1480.9,203.7 1481.1,201.8 1481.3,200.8 1481.5,203.3 1481.8,208.0 1482.0,207.3 1482.2,206.7 1482.4,206.6 1482.6,204.2 1482.8,205.2 1483.0,203.9 1483.2,203.1 1483.4,203.9 1483.6,204.7 1483.8,202.3 1484.0,203.1 1484.2,207.5 1484.4,206.4 1484.6,205.5 1484.8,204.8 1485.0,204.0 1485.2,204.6 1485.5,203.1 1485.7,201.5 1485.9,202.7 1486.1,207.0 1486.3,207.2 1486.5,206.9 1486.7,206.5 1486.9,198.9 1487.1,199.6 1487.3,204.5 1487.5,207.4 1487.7,206.1 1487.9,204.1 1488.1,204.0 1488.3,203.9 1488.5,206.0 1488.7,204.1 1489.0,204.7 1489.2,206.7 1489.4,204.2 1489.6,205.0 1489.8,205.1 1490.0,204.5 1490.2,204.9 1490.4,202.9 1490.6,205.3 1490.8,209.1 1491.0,208.8 1491.2,207.1 1491.4,205.2 1491.6,207.4 1491.8,208.2 1492.0,205.8 1492.2,204.6 1492.5,202.2 1492.7,203.8 1492.9,206.5 1493.1,204.4 1493.3,202.7 1493.5,204.1 1493.7,204.9 1493.9,203.2 1494.1,200.9 1494.3,201.7 1494.5,204.3 1494.7,206.1 1494.9,205.1 1495.1,206.6 1495.3,205.4 1495.5,202.2 1495.7,204.0 1496.0,204.9 1496.2,205.3 1496.4,203.9 1496.6,202.4 1496.8,201.3 1497.0,203.5 1497.2,204.6 1497.4,203.6 1497.6,206.1 1497.8,206.1 1498.0,202.7 1498.2,202.3 1498.4,204.7 1498.6,207.4 1498.8,207.6 1499.0,204.1 1499.2,208.3 1499.4,210.8 1499.7,206.7 1499.9,203.9 1500.1,201.5 1500.3,202.6 1500.5,204.8 1500.7,204.1 1500.9,204.4 1501.1,205.0 1501.3,202.0 1501.5,204.7 1501.7,204.3 1501.9,203.4 1502.1,205.2 1502.3,200.5 1502.5,199.9 1502.7,204.7 1502.9,203.9 1503.2,201.4 1503.4,205.4 1503.6,204.7 1503.8,203.6 1504.0,203.0 1504.2,201.9 1504.4,203.5 1504.6,203.5 1504.8,202.7 1505.0,204.5 1505.2,203.1 1505.4,203.1 1505.6,205.2 1505.8,202.0 1506.0,202.7 1506.2,204.6 1506.4,203.6 1506.7,201.6 1506.9,203.1 1507.1,200.9 1507.3,189.8 1507.5,179.0 1507.7,160.3 1507.9,130.0 1508.1,100.0 1508.3,84.0 1508.5,84.9 1508.7,100.3 1508.9,127.7 1509.1,153.8 1509.3,178.8 1509.5,194.6 1509.7,199.9 1509.9,201.5 1510.2,203.4 1510.4,200.6 1510.6,198.1 1510.8,198.6 1511.0,199.9 1511.2,205.0 1511.4,205.4 1511.6,202.6 1511.8,201.9 1512.0,203.6 1512.2,204.1 1512.4,206.2 1512.6,205.0 1512.8,204.5 1513.0,206.5 1513.2,206.6 1513.4,204.5 1513.6,202.3 1513.9,202.8 1514.1,202.3 1514.3,201.8 1514.5,202.2 1514.7,203.8 1514.9,204.1 1515.1,204.7 1515.3,204.9 1515.5,206.4 1515.7,207.2 1515.9,204.6 1516.1,202.8 1516.3,204.1 1516.5,207.6 1516.7,205.9 1516.9,205.4 1517.1,208.2 1517.4,206.0 1517.6,204.7 1517.8,205.6 1518.0,204.3 1518.2,203.1 1518.4,203.1 1518.6,204.6 1518.8,205.8 1519.0,205.1 1519.2,203.5 1519.4,207.3 1519.6,208.1 1519.8,205.9 1520.0,206.2 1520.2,203.7 1520.4,203.3 1520.6,205.1 1520.9,202.8 1521.1,205.5 1521.3,206.9 1521.5,203.2 1521.7,204.3 1521.9,206.2 1522.1,206.9 1522.3,206.1 1522.5,207.2 1522.7,207.8 1522.9,205.8 1523.1,205.8 1523.3,205.2 1523.5,204.0 1523.7,205.2 1523.9,204.6 1524.1,203.0 1524.4,204.0 1524.6,204.8 1524.8,204.5 1525.0,203.7 1525.2,206.0 1525.4,206.8 1525.6,205.7 1525.8,206.8 1526.0,204.3 1526.2,203.7 1526.4,205.6 1526.6,207.0 1526.8,204.1 1527.0,200.9 1527.2,204.5 1527.4,204.8 1527.6,202.0 1527.8,204.3 1528.1,205.5 1528.3,206.1 1528.5,203.4 1528.7,203.2 1528.9,207.3 1529.1,205.4 1529.3,203.3 1529.5,205.4 1529.7,204.7 1529.9,206.5 1530.1,209.2 1530.3,204.1 1530.5,202.9 1530.7,205.2 1530.9,206.6 1531.1,205.5 1531.3,204.6 1531.6,205.1 1531.8,204.2 1532.0,203.8 1532.2,205.1 1532.4,205.7 1532.6,205.5 1532.8,206.2 1533.0,205.6 1533.2,207.4 1533.4,208.8 1533.6,207.3 1533.8,204.4 1534.0,205.2 1534.2,207.0 1534.4,205.5 1534.6,204.1 1534.8,203.4 1535.1,206.8 1535.3,208.3 1535.5,206.0 1535.7,205.3 1535.9,204.7 1536.1,205.3 1536.3,205.2 1536.5,203.4 1536.7,206.0 1536.9,206.8 1537.1,206.2 1537.3,205.2 1537.5,203.3 1537.7,205.4 1537.9,206.1 1538.1,205.5 1538.3,205.3 1538.6,202.3 1538.8,202.9 1539.0,205.8 1539.2,202.8 1539.4,203.7 1539.6,207.4 1539.8,209.0 1540.0,207.6 1540.2,206.0 1540.4,203.5 1540.6,205.8 1540.8,208.2 1541.0,205.4 1541.2,205.4 1541.4,203.6 1541.6,201.5 1541.8,203.5 1542.0,203.7" fill="none" stroke="#e8141a" stroke-width="1.8" stroke-linejoin="round" stroke-linecap="round" />
<polyline points="1079.0,134.3 1079.2,134.3 1079.4,133.0 1079.6,132.8 1079.8,132.6 1080.0,133.3 1080.2,133.1 1080.4,133.2 1080.6,133.1 1080.9,132.9 1081.1,133.2 1081.3,133.7 1081.5,134.7 1081.7,134.4 1081.9,134.0 1082.1,133.2 1082.3,132.6 1082.5,133.1 1082.7,132.9 1082.9,133.0 1083.1,132.6 1083.3,133.5 1083.5,134.0 1083.7,133.7 1083.9,133.0 1084.1,133.1 1084.4,133.4 1084.6,133.4 1084.8,133.1 1085.0,133.4 1085.2,134.4 1085.4,134.0 1085.6,133.5 1085.8,132.6 1086.0,132.2 1086.2,132.1 1086.4,132.0 1086.6,133.2 1086.8,133.5 1087.0,133.3 1087.2,133.1 1087.4,133.0 1087.6,133.0 1087.8,132.6 1088.1,132.5 1088.3,132.8 1088.5,133.0 1088.7,132.4 1088.9,132.6 1089.1,133.0 1089.3,134.1 1089.5,134.5 1089.7,134.6 1089.9,134.8 1090.1,134.0 1090.3,133.9 1090.5,132.8 1090.7,132.9 1090.9,132.0 1091.1,133.0 1091.3,133.7 1091.6,134.3 1091.8,134.5 1092.0,133.8 1092.2,133.9 1092.4,133.4 1092.6,133.2 1092.8,133.3 1093.0,134.0 1093.2,134.0 1093.4,134.1 1093.6,133.4 1093.8,134.4 1094.0,134.2 1094.2,134.5 1094.4,134.1 1094.6,134.0 1094.8,133.3 1095.1,133.6 1095.3,133.0 1095.5,133.6 1095.7,133.3 1095.9,133.5 1096.1,133.5 1096.3,133.7 1096.5,133.9 1096.7,133.6 1096.9,132.2 1097.1,131.8 1097.3,131.9 1097.5,132.8 1097.7,132.8 1097.9,133.1 1098.1,133.1 1098.3,133.4 1098.6,133.5 1098.8,133.4 1099.0,133.3 1099.2,133.8 1099.4,134.4 1099.6,134.1 1099.8,133.3 1100.0,133.2 1100.2,134.1 1100.4,134.2 1100.6,133.8 1100.8,133.1 1101.0,133.3 1101.2,133.6 1101.4,133.7 1101.6,133.4 1101.8,133.1 1102.0,133.5 1102.3,133.4 1102.5,133.7 1102.7,133.7 1102.9,134.1 1103.1,133.7 1103.3,133.8 1103.5,133.4 1103.7,133.9 1103.9,133.2 1104.1,132.8 1104.3,132.7 1104.5,133.1 1104.7,133.7 1104.9,133.7 1105.1,133.3 1105.3,133.1 1105.5,133.0 1105.8,133.8 1106.0,134.4 1106.2,134.3 1106.4,133.8 1106.6,133.3 1106.8,133.4 1107.0,133.5 1107.2,133.5 1107.4,133.0 1107.6,132.4 1107.8,132.6 1108.0,133.3 1108.2,134.0 1108.4,133.7 1108.6,133.9 1108.8,133.7 1109.0,133.8 1109.3,133.9 1109.5,133.9 1109.7,133.7 1109.9,133.7 1110.1,133.1 1110.3,133.5 1110.5,133.1 1110.7,133.7 1110.9,133.4 1111.1,133.4 1111.3,133.2 1111.5,133.8 1111.7,133.5 1111.9,133.6 1112.1,133.2 1112.3,133.0 1112.5,133.9 1112.8,134.0 1113.0,133.9 1113.2,133.4 1113.4,133.1 1113.6,133.7 1113.8,133.6 1114.0,133.7 1114.2,133.4 1114.4,132.9 1114.6,133.1 1114.8,132.7 1115.0,132.5 1115.2,132.5 1115.4,133.4 1115.6,134.0 1115.8,134.7 1116.0,134.6 1116.2,134.2 1116.5,133.5 1116.7,132.6 1116.9,132.4 1117.1,132.1 1117.3,132.9 1117.5,133.5 1117.7,133.6 1117.9,133.3 1118.1,132.6 1118.3,132.7 1118.5,133.0 1118.7,133.7 1118.9,133.5 1119.1,134.1 1119.3,134.3 1119.5,134.6 1119.7,133.7 1120.0,133.2 1120.2,133.3 1120.4,133.4 1120.6,133.7 1120.8,133.9 1121.0,134.4 1121.2,134.6 1121.4,134.3 1121.6,134.0 1121.8,133.5 1122.0,133.3 1122.2,133.8 1122.4,133.8 1122.6,134.7 1122.8,133.9 1123.0,134.2 1123.2,133.8 1123.5,134.0 1123.7,134.0 1123.9,133.6 1124.1,133.4 1124.3,133.2 1124.5,133.1 1124.7,133.8 1124.9,133.8 1125.1,134.6 1125.3,133.1 1125.5,133.2 1125.7,132.8 1125.9,133.6 1126.1,134.0 1126.3,134.0 1126.5,134.0 1126.7,133.8 1127.0,134.5 1127.2,134.7 1127.4,134.7 1127.6,133.5 1127.8,133.5 1128.0,132.9 1128.2,133.0 1128.4,133.8 1128.6,134.7 1128.8,134.9 1129.0,134.5 1129.2,134.8 1129.4,134.7 1129.6,135.1 1129.8,134.8 1130.0,134.6 1130.2,134.5 1130.4,133.3 1130.7,133.1 1130.9,132.6 1131.1,133.1 1131.3,133.2 1131.5,132.9 1131.7,133.0 1131.9,134.0 1132.1,134.4 1132.3,134.6 1132.5,134.2 1132.7,133.9 1132.9,134.2 1133.1,133.8 1133.3,134.5 1133.5,133.7 1133.7,133.8 1133.9,133.3 1134.2,133.4 1134.4,133.5 1134.6,133.2 1134.8,134.1 1135.0,133.9 1135.2,134.5 1135.4,133.9 1135.6,134.1 1135.8,133.2 1136.0,133.2 1136.2,132.7 1136.4,133.4 1136.6,133.4 1136.8,133.8 1137.0,133.4 1137.2,134.1 1137.4,134.6 1137.7,134.9 1137.9,134.2 1138.1,133.5 1138.3,134.0 1138.5,134.7 1138.7,134.2 1138.9,133.5 1139.1,132.5 1139.3,132.5 1139.5,132.2 1139.7,132.7 1139.9,132.7 1140.1,133.7 1140.3,133.9 1140.5,134.0 1140.7,133.1 1140.9,132.6 1141.2,133.4 1141.4,133.5 1141.6,133.2 1141.8,132.7 1142.0,133.1 1142.2,133.4 1142.4,134.0 1142.6,133.9 1142.8,134.3 1143.0,133.4 1143.2,133.3 1143.4,133.1 1143.6,132.6 1143.8,132.8 1144.0,132.2 1144.2,133.0 1144.4,132.4 1144.7,133.7 1144.9,133.8 1145.1,134.6 1145.3,134.2 1145.5,133.7 1145.7,132.6 1145.9,132.1 1146.1,132.9 1146.3,133.7 1146.5,134.1 1146.7,134.1 1146.9,133.6 1147.1,133.4 1147.3,133.8 1147.5,134.1 1147.7,133.3 1147.9,132.5 1148.1,132.6 1148.4,133.4 1148.6,133.2 1148.8,133.4 1149.0,132.5 1149.2,133.1 1149.4,133.6 1149.6,134.8 1149.8,134.0 1150.0,133.5 1150.2,132.1 1150.4,132.7 1150.6,132.5 1150.8,133.2 1151.0,133.3 1151.2,133.3 1151.4,134.0 1151.6,133.9 1151.9,133.9 1152.1,133.0 1152.3,132.5 1152.5,132.3 1152.7,133.0 1152.9,133.4 1153.1,134.1 1153.3,133.7 1153.5,133.6 1153.7,133.2 1153.9,133.4 1154.1,133.7 1154.3,133.4 1154.5,134.0 1154.7,133.7 1154.9,134.3 1155.1,133.8 1155.4,134.4 1155.6,133.5 1155.8,133.7 1156.0,133.0 1156.2,133.6 1156.4,133.8 1156.6,133.6 1156.8,133.1 1157.0,132.3 1157.2,132.8 1157.4,132.6 1157.6,133.0 1157.8,132.4 1158.0,132.7 1158.2,132.5 1158.4,133.1 1158.6,133.3 1158.9,133.2 1159.1,133.1 1159.3,133.2 1159.5,132.5 1159.7,132.3 1159.9,132.5 1160.1,133.8 1160.3,134.6 1160.5,134.8 1160.7,134.5 1160.9,133.4 1161.1,133.2 1161.3,133.5 1161.5,134.2 1161.7,133.9 1161.9,133.7 1162.1,133.6 1162.3,134.5 1162.6,134.5 1162.8,134.0 1163.0,133.2 1163.2,132.9 1163.4,132.9 1163.6,133.4 1163.8,133.9 1164.0,134.4 1164.2,134.5 1164.4,134.0 1164.6,133.9 1164.8,133.3 1165.0,133.5 1165.2,133.8 1165.4,133.9 1165.6,133.3 1165.8,132.8 1166.1,132.5 1166.3,132.6 1166.5,132.5 1166.7,133.0 1166.9,134.1 1167.1,134.2 1167.3,134.3 1167.5,134.1 1167.7,133.9 1167.9,133.5 1168.1,133.1 1168.3,133.5 1168.5,133.0 1168.7,132.9 1168.9,133.2 1169.1,134.2 1169.3,134.9 1169.6,134.5 1169.8,134.7 1170.0,134.3 1170.2,133.9 1170.4,133.5 1170.6,133.2 1170.8,133.8 1171.0,133.5 1171.2,134.1 1171.4,134.0 1171.6,133.9 1171.8,133.8 1172.0,133.8 1172.2,133.8 1172.4,133.9 1172.6,133.7 1172.8,133.6 1173.1,132.9 1173.3,132.6 1173.5,132.6 1173.7,133.4 1173.9,133.6 1174.1,133.8 1174.3,132.8 1174.5,132.9 1174.7,133.4 1174.9,134.1 1175.1,134.1 1175.3,133.6 1175.5,133.0 1175.7,132.9 1175.9,132.6 1176.1,132.6 1176.3,133.0 1176.5,133.5 1176.8,134.0 1177.0,133.8 1177.2,133.1 1177.4,132.9 1177.6,132.7 1177.8,133.5 1178.0,133.7 1178.2,134.3 1178.4,133.8 1178.6,133.0 1178.8,133.1 1179.0,133.6 1179.2,133.7 1179.4,133.5 1179.6,133.4 1179.8,133.6 1180.0,134.1 1180.3,133.6 1180.5,133.6 1180.7,133.5 1180.9,133.7 1181.1,133.8 1181.3,133.7 1181.5,132.9 1181.7,133.8 1181.9,133.2 1182.1,133.9 1182.3,133.2 1182.5,133.6 1182.7,133.8 1182.9,133.7 1183.1,133.8 1183.3,133.4 1183.5,133.4 1183.8,133.1 1184.0,132.8 1184.2,132.8 1184.4,133.2 1184.6,133.5 1184.8,134.2 1185.0,134.0 1185.2,133.7 1185.4,132.6 1185.6,132.2 1185.8,132.7 1186.0,133.3 1186.2,133.3 1186.4,133.6 1186.6,133.0 1186.8,132.8 1187.0,132.5 1187.3,133.9 1187.5,134.4 1187.7,134.0 1187.9,133.5 1188.1,133.6 1188.3,134.3 1188.5,133.9 1188.7,133.4 1188.9,133.1 1189.1,133.4 1189.3,134.2 1189.5,134.9 1189.7,134.5 1189.9,133.8 1190.1,133.0 1190.3,133.2 1190.5,133.5 1190.7,133.7 1191.0,133.9 1191.2,134.2 1191.4,134.0 1191.6,133.5 1191.8,132.5 1192.0,132.2 1192.2,132.2 1192.4,132.1 1192.6,132.7 1192.8,133.1 1193.0,133.6 1193.2,133.1 1193.4,132.5 1193.6,132.3 1193.8,133.3 1194.0,133.0 1194.2,133.4 1194.5,133.0 1194.7,133.8 1194.9,133.7 1195.1,133.7 1195.3,133.3 1195.5,133.6 1195.7,133.8 1195.9,133.8 1196.1,133.3 1196.3,132.9 1196.5,133.6 1196.7,134.3 1196.9,134.5 1197.1,133.9 1197.3,133.1 1197.5,132.9 1197.7,133.3 1198.0,133.3 1198.2,133.3 1198.4,133.2 1198.6,134.0 1198.8,133.6 1199.0,133.7 1199.2,132.9 1199.4,133.1 1199.6,132.9 1199.8,133.8 1200.0,135.1 1200.2,135.2 1200.4,134.9 1200.6,134.1 1200.8,133.5 1201.0,133.6 1201.2,132.8 1201.5,133.9 1201.7,134.1 1201.9,134.7 1202.1,133.9 1202.3,133.9 1202.5,133.8 1202.7,134.2 1202.9,133.8 1203.1,133.1 1203.3,133.2 1203.5,133.3 1203.7,134.1 1203.9,134.0 1204.1,133.3 1204.3,133.4 1204.5,133.4 1204.7,133.7 1204.9,133.3 1205.2,133.5 1205.4,134.0 1205.6,134.3 1205.8,134.3 1206.0,134.3 1206.2,134.7 1206.4,134.5 1206.6,134.0 1206.8,133.3 1207.0,133.2 1207.2,133.4 1207.4,133.9 1207.6,133.7 1207.8,133.6 1208.0,132.9 1208.2,133.5 1208.4,133.3 1208.7,133.7 1208.9,133.0 1209.1,133.1 1209.3,132.7 1209.5,133.5 1209.7,133.7 1209.9,133.9 1210.1,132.9 1210.3,132.5 1210.5,132.7 1210.7,133.6 1210.9,133.3 1211.1,132.7 1211.3,132.0 1211.5,132.2 1211.7,131.8 1211.9,131.8 1212.2,132.1 1212.4,131.8 1212.6,131.2 1212.8,129.5 1213.0,125.7 1213.2,115.7 1213.4,99.9 1213.6,79.0 1213.8,60.2 1214.0,51.1 1214.2,54.4 1214.4,66.1 1214.6,75.4 1214.8,81.8 1215.0,86.6 1215.2,96.5 1215.4,108.8 1215.7,120.6 1215.9,127.7 1216.1,131.4 1216.3,132.0 1216.5,132.6 1216.7,132.5 1216.9,133.4 1217.1,133.6 1217.3,134.8 1217.5,134.7 1217.7,134.7 1217.9,133.5 1218.1,134.1 1218.3,133.1 1218.5,133.7 1218.7,132.9 1218.9,132.8 1219.1,131.9 1219.4,132.1 1219.6,133.0 1219.8,133.3 1220.0,133.7 1220.2,133.6 1220.4,133.6 1220.6,132.6 1220.8,132.8 1221.0,133.2 1221.2,133.8 1221.4,133.0 1221.6,132.1 1221.8,132.9 1222.0,133.3 1222.2,133.6 1222.4,132.7 1222.6,133.1 1222.9,133.2 1223.1,133.2 1223.3,132.4 1223.5,132.6 1223.7,133.2 1223.9,133.7 1224.1,134.0 1224.3,133.8 1224.5,133.9 1224.7,133.6 1224.9,133.6 1225.1,133.9 1225.3,134.0 1225.5,133.8 1225.7,133.5 1225.9,133.3 1226.1,133.6 1226.4,133.7 1226.6,133.8 1226.8,133.2 1227.0,133.2 1227.2,133.5 1227.4,133.6 1227.6,134.0 1227.8,133.7 1228.0,134.1 1228.2,132.9 1228.4,133.2 1228.6,132.9 1228.8,133.3 1229.0,133.2 1229.2,133.1 1229.4,133.0 1229.6,132.4 1229.9,132.7 1230.1,133.2 1230.3,133.8 1230.5,134.0 1230.7,133.6 1230.9,133.6 1231.1,133.2 1231.3,134.0 1231.5,134.0 1231.7,133.6 1231.9,132.5 1232.1,133.0 1232.3,133.2 1232.5,133.4 1232.7,133.0 1232.9,133.1 1233.1,133.6 1233.3,134.1 1233.6,134.2 1233.8,134.2 1234.0,133.3 1234.2,133.2 1234.4,132.9 1234.6,133.3 1234.8,133.4 1235.0,133.7 1235.2,133.1 1235.4,133.0 1235.6,132.3 1235.8,133.1 1236.0,133.7 1236.2,134.3 1236.4,133.5 1236.6,133.3 1236.8,133.2 1237.1,133.1 1237.3,132.8 1237.5,132.9 1237.7,133.7 1237.9,134.0 1238.1,134.0 1238.3,133.9 1238.5,133.8 1238.7,133.6 1238.9,133.2 1239.1,133.1 1239.3,133.0 1239.5,134.1 1239.7,134.2 1239.9,134.4 1240.1,133.5 1240.3,133.4 1240.6,133.3 1240.8,133.5 1241.0,133.6 1241.2,134.0 1241.4,133.5 1241.6,133.7 1241.8,133.7 1242.0,133.5 1242.2,133.5 1242.4,133.2 1242.6,133.5 1242.8,133.3 1243.0,132.6 1243.2,133.1 1243.4,132.9 1243.6,133.1 1243.8,133.0 1244.1,132.7 1244.3,133.4 1244.5,133.3 1244.7,134.2 1244.9,133.8 1245.1,133.2 1245.3,132.4 1245.5,132.9 1245.7,133.2 1245.9,133.7 1246.1,133.7 1246.3,133.6 1246.5,133.7 1246.7,133.1 1246.9,133.3 1247.1,133.0 1247.3,132.9 1247.6,133.4 1247.8,134.0 1248.0,133.2 1248.2,132.0 1248.4,131.9 1248.6,132.9 1248.8,133.4 1249.0,133.7 1249.2,133.1 1249.4,133.7 1249.6,133.3 1249.8,134.1 1250.0,133.8 1250.2,134.1 1250.4,133.8 1250.6,133.5 1250.8,133.5 1251.0,133.6 1251.3,133.4 1251.5,133.6 1251.7,133.9 1251.9,134.9 1252.1,134.4 1252.3,134.1 1252.5,133.5 1252.7,133.1 1252.9,133.0 1253.1,133.2 1253.3,133.4 1253.5,134.0 1253.7,133.3 1253.9,133.3 1254.1,132.4 1254.3,133.4 1254.5,133.6 1254.8,133.7 1255.0,133.0 1255.2,132.8 1255.4,132.5 1255.6,133.1 1255.8,133.6 1256.0,134.4 1256.2,133.8 1256.4,134.5 1256.6,133.8 1256.8,133.3 1257.0,132.3 1257.2,132.7 1257.4,133.7 1257.6,133.5 1257.8,133.6 1258.0,133.9 1258.3,134.0 1258.5,133.5 1258.7,132.4 1258.9,132.7 1259.1,133.3 1259.3,134.1 1259.5,134.3 1259.7,134.5 1259.9,134.3 1260.1,134.4 1260.3,133.5 1260.5,133.2 1260.7,133.0 1260.9,133.0 1261.1,133.5 1261.3,133.9 1261.5,134.3 1261.8,133.9 1262.0,133.1 1262.2,133.5 1262.4,133.4 1262.6,133.7 1262.8,133.2 1263.0,133.5 1263.2,133.8 1263.4,133.7 1263.6,133.2 1263.8,133.3 1264.0,133.6 1264.2,134.3 1264.4,133.8 1264.6,134.0 1264.8,134.2 1265.0,134.7 1265.2,134.3 1265.5,133.8 1265.7,133.4 1265.9,133.6 1266.1,133.9 1266.3,133.5 1266.5,132.6 1266.7,132.6 1266.9,133.1 1267.1,134.1 1267.3,134.6 1267.5,134.6 1267.7,134.2 1267.9,134.0 1268.1,133.7 1268.3,134.2 1268.5,134.0 1268.7,134.2 1269.0,133.8 1269.2,133.8 1269.4,133.1 1269.6,133.0 1269.8,132.2 1270.0,132.9 1270.2,133.2 1270.4,134.7 1270.6,134.7 1270.8,134.1 1271.0,132.8 1271.2,133.4 1271.4,133.1 1271.6,134.0 1271.8,132.5 1272.0,133.0 1272.2,132.9 1272.5,133.8 1272.7,133.8 1272.9,133.3 1273.1,132.9 1273.3,133.2 1273.5,133.7 1273.7,133.9 1273.9,133.7 1274.1,133.2 1274.3,133.6 1274.5,134.0 1274.7,134.0 1274.9,133.7 1275.1,133.6 1275.3,133.7 1275.5,134.3 1275.7,134.5 1276.0,134.6 1276.2,134.3 1276.4,134.3 1276.6,134.0 1276.8,133.9 1277.0,133.2 1277.2,133.6 1277.4,133.6 1277.6,133.5 1277.8,133.1 1278.0,132.4 1278.2,132.5 1278.4,133.2 1278.6,133.7 1278.8,133.7 1279.0,133.4 1279.2,133.9 1279.4,134.1 1279.7,133.9 1279.9,133.3 1280.1,133.6 1280.3,133.6 1280.5,133.6 1280.7,133.2 1280.9,133.0 1281.1,133.4 1281.3,132.7 1281.5,133.6 1281.7,133.1 1281.9,133.4 1282.1,133.0 1282.3,132.6 1282.5,133.2 1282.7,133.4 1282.9,133.8 1283.2,133.4 1283.4,133.5 1283.6,133.5 1283.8,133.6 1284.0,133.4 1284.2,134.2 1284.4,134.0 1284.6,133.9 1284.8,133.7 1285.0,133.0 1285.2,132.9 1285.4,131.9 1285.6,132.1 1285.8,132.9 1286.0,133.6 1286.2,134.8 1286.4,134.0 1286.7,134.1 1286.9,133.5 1287.1,133.3 1287.3,133.1 1287.5,133.3 1287.7,134.0 1287.9,134.0 1288.1,134.1 1288.3,133.5 1288.5,133.6 1288.7,133.0 1288.9,133.5 1289.1,133.2 1289.3,133.7 1289.5,133.3 1289.7,133.8 1289.9,133.9 1290.2,134.0 1290.4,133.7 1290.6,133.7 1290.8,133.9 1291.0,134.1 1291.2,134.4 1291.4,134.7 1291.6,134.7 1291.8,133.8 1292.0,133.9 1292.2,134.4 1292.4,134.7 1292.6,134.0 1292.8,132.5 1293.0,132.9 1293.2,132.7 1293.4,134.1 1293.6,132.9 1293.9,133.3 1294.1,132.9 1294.3,133.6 1294.5,133.3 1294.7,133.2 1294.9,133.1 1295.1,133.3 1295.3,133.2 1295.5,133.2 1295.7,133.2 1295.9,133.5 1296.1,133.6 1296.3,133.7 1296.5,133.2 1296.7,133.6 1296.9,133.1 1297.1,133.7 1297.4,132.3 1297.6,132.5 1297.8,131.6 1298.0,133.0 1298.2,133.4 1298.4,133.5 1298.6,132.9 1298.8,133.3 1299.0,133.7 1299.2,134.1 1299.4,133.1 1299.6,132.6 1299.8,132.6 1300.0,134.0 1300.2,134.3 1300.4,134.3 1300.6,133.2 1300.9,133.8 1301.1,133.4 1301.3,133.6 1301.5,132.5 1301.7,132.5 1301.9,132.7 1302.1,133.9 1302.3,133.6 1302.5,133.9 1302.7,133.3 1302.9,133.6 1303.1,132.9 1303.3,132.4 1303.5,132.1 1303.7,133.0 1303.9,133.2 1304.1,133.5 1304.4,133.3 1304.6,133.0 1304.8,133.3 1305.0,132.7 1305.2,133.5 1305.4,133.6 1305.6,133.8 1305.8,133.6 1306.0,133.6 1306.2,133.8 1306.4,133.7 1306.6,133.4 1306.8,132.7 1307.0,133.4 1307.2,133.0 1307.4,133.5 1307.6,133.7 1307.8,134.4 1308.1,134.2 1308.3,133.4 1308.5,132.9 1308.7,133.3 1308.9,133.7 1309.1,133.9 1309.3,134.5 1309.5,134.1 1309.7,133.9 1309.9,132.9 1310.1,133.2 1310.3,133.5 1310.5,133.6 1310.7,133.7 1310.9,133.8 1311.1,133.8 1311.3,132.7 1311.6,132.8 1311.8,132.6 1312.0,133.2 1312.2,132.8 1312.4,132.7 1312.6,132.7 1312.8,132.8 1313.0,133.1 1313.2,133.4 1313.4,133.1 1313.6,133.1 1313.8,132.7 1314.0,132.9 1314.2,133.0 1314.4,133.3 1314.6,132.9 1314.8,132.8 1315.1,132.9 1315.3,133.8 1315.5,133.8 1315.7,133.6 1315.9,132.8 1316.1,133.6 1316.3,133.4 1316.5,133.4 1316.7,132.6 1316.9,132.3 1317.1,133.1 1317.3,133.2 1317.5,134.0 1317.7,133.3 1317.9,133.1 1318.1,133.2 1318.3,133.9 1318.6,135.0 1318.8,135.1 1319.0,134.1 1319.2,133.2 1319.4,132.7 1319.6,133.7 1319.8,133.7 1320.0,133.9 1320.2,133.5 1320.4,133.7 1320.6,134.0 1320.8,133.9 1321.0,133.0 1321.2,132.2 1321.4,132.9 1321.6,133.7 1321.8,134.0 1322.0,133.1 1322.3,133.4 1322.5,133.6 1322.7,133.9 1322.9,133.3 1323.1,133.2 1323.3,133.1 1323.5,133.5 1323.7,134.0 1323.9,133.4 1324.1,132.7 1324.3,132.2 1324.5,132.9 1324.7,132.9 1324.9,132.7 1325.1,132.6 1325.3,132.9 1325.5,133.0 1325.8,133.1 1326.0,133.6 1326.2,134.0 1326.4,134.2 1326.6,134.0 1326.8,133.5 1327.0,133.1 1327.2,133.3 1327.4,133.6 1327.6,134.0 1327.8,133.9 1328.0,133.8 1328.2,133.7 1328.4,133.1 1328.6,133.0 1328.8,132.7 1329.0,133.5 1329.3,133.3 1329.5,133.6 1329.7,133.1 1329.9,133.5 1330.1,133.7 1330.3,133.8 1330.5,133.7 1330.7,133.5 1330.9,133.8 1331.1,133.6 1331.3,133.6 1331.5,133.2 1331.7,133.0 1331.9,133.0 1332.1,133.3 1332.3,133.4 1332.5,133.8 1332.8,133.4 1333.0,134.0 1333.2,133.6 1333.4,133.2 1333.6,133.0 1333.8,132.3 1334.0,132.8 1334.2,133.1 1334.4,134.3 1334.6,134.6 1334.8,133.8 1335.0,133.0 1335.2,133.3 1335.4,133.9 1335.6,134.6 1335.8,133.8 1336.0,133.6 1336.2,132.5 1336.5,132.6 1336.7,133.3 1336.9,133.4 1337.1,133.8 1337.3,133.5 1337.5,134.1 1337.7,133.8 1337.9,133.6 1338.1,134.1 1338.3,133.7 1338.5,134.0 1338.7,133.8 1338.9,134.4 1339.1,134.7 1339.3,133.1 1339.5,132.9 1339.7,131.9 1340.0,132.8 1340.2,132.8 1340.4,133.4 1340.6,133.2 1340.8,133.6 1341.0,132.9 1341.2,133.5 1341.4,133.1 1341.6,133.0 1341.8,132.1 1342.0,131.5 1342.2,131.8 1342.4,132.5 1342.6,133.5 1342.8,134.2 1343.0,133.7 1343.2,132.4 1343.5,132.0 1343.7,132.0 1343.9,132.7 1344.1,132.6 1344.3,134.0 1344.5,133.4 1344.7,133.8 1344.9,133.5 1345.1,134.0 1345.3,133.6 1345.5,133.5 1345.7,132.9 1345.9,132.6 1346.1,131.6 1346.3,132.5 1346.5,133.3 1346.7,133.7 1347.0,134.3 1347.2,134.0 1347.4,134.0 1347.6,133.2 1347.8,133.7 1348.0,133.7 1348.2,133.7 1348.4,133.8 1348.6,134.3 1348.8,134.8 1349.0,133.7 1349.2,132.9 1349.4,132.5 1349.6,132.8 1349.8,133.1 1350.0,133.1 1350.2,133.4 1350.5,133.2 1350.7,133.4 1350.9,133.0 1351.1,133.2 1351.3,133.0 1351.5,133.4 1351.7,133.7 1351.9,133.5 1352.1,133.4 1352.3,133.3 1352.5,133.7 1352.7,133.5 1352.9,133.8 1353.1,133.8 1353.3,133.5 1353.5,132.7 1353.7,132.1 1353.9,132.7 1354.2,132.9 1354.4,133.2 1354.6,133.1 1354.8,133.8 1355.0,134.6 1355.2,134.6 1355.4,134.9 1355.6,134.3 1355.8,134.8 1356.0,134.0 1356.2,133.4 1356.4,133.1 1356.6,133.7 1356.8,133.6 1357.0,133.4 1357.2,133.0 1357.4,133.8 1357.7,133.4 1357.9,133.1 1358.1,133.2 1358.3,134.3 1358.5,134.5 1358.7,134.5 1358.9,133.9 1359.1,134.0 1359.3,133.6 1359.5,133.4 1359.7,133.1 1359.9,133.3 1360.1,133.7 1360.3,134.0 1360.5,134.2 1360.7,133.6 1360.9,133.8 1361.2,132.4 1361.4,132.2 1361.6,131.8 1361.8,132.2 1362.0,132.9 1362.2,133.1 1362.4,133.4 1362.6,133.3 1362.8,132.7 1363.0,132.7 1363.2,132.5 1363.4,132.5 1363.6,133.2 1363.8,133.1 1364.0,134.0 1364.2,133.6 1364.4,133.9 1364.7,133.2 1364.9,133.2 1365.1,132.9 1365.3,133.3 1365.5,133.9 1365.7,133.9 1365.9,133.7 1366.1,133.4 1366.3,133.9 1366.5,133.9 1366.7,133.6 1366.9,133.1 1367.1,133.2 1367.3,133.4 1367.5,133.3 1367.7,133.2 1367.9,133.4 1368.1,133.6 1368.4,133.6 1368.6,133.5 1368.8,133.8 1369.0,134.2 1369.2,134.2 1369.4,133.8 1369.6,133.7 1369.8,133.5 1370.0,133.7 1370.2,133.0 1370.4,132.9 1370.6,133.0 1370.8,133.8 1371.0,133.7 1371.2,133.6 1371.4,132.8 1371.6,132.4 1371.9,131.3 1372.1,131.9 1372.3,133.0 1372.5,134.6 1372.7,134.3 1372.9,133.9 1373.1,133.8 1373.3,134.1 1373.5,133.1 1373.7,133.2 1373.9,133.2 1374.1,133.7 1374.3,133.8 1374.5,134.1 1374.7,134.6 1374.9,134.5 1375.1,134.3 1375.4,133.7 1375.6,133.4 1375.8,133.4 1376.0,134.0 1376.2,133.9 1376.4,133.7 1376.6,133.4 1376.8,133.2 1377.0,133.3 1377.2,133.3 1377.4,133.6 1377.6,133.7 1377.8,133.3 1378.0,133.4 1378.2,132.8 1378.4,134.0 1378.6,133.5 1378.9,134.0 1379.1,133.7 1379.3,133.9 1379.5,133.5 1379.7,132.5 1379.9,132.7 1380.1,133.3 1380.3,134.1 1380.5,134.1 1380.7,133.8 1380.9,133.6 1381.1,134.0 1381.3,133.9 1381.5,135.0 1381.7,134.4 1381.9,135.1 1382.1,134.5 1382.3,135.0 1382.6,134.6 1382.8,134.2 1383.0,134.4 1383.2,133.3 1383.4,133.3 1383.6,132.6 1383.8,133.3 1384.0,133.2 1384.2,133.4 1384.4,133.8 1384.6,133.6 1384.8,133.9 1385.0,133.0 1385.2,132.9 1385.4,132.0 1385.6,132.8 1385.8,133.0 1386.1,133.6 1386.3,133.3 1386.5,133.9 1386.7,133.9 1386.9,134.0 1387.1,133.0 1387.3,132.3 1387.5,132.0 1387.7,133.0 1387.9,133.7 1388.1,133.8 1388.3,134.0 1388.5,133.6 1388.7,133.3 1388.9,133.0 1389.1,133.5 1389.3,134.3 1389.6,133.6 1389.8,133.6 1390.0,133.4 1390.2,133.7 1390.4,133.5 1390.6,133.8 1390.8,133.6 1391.0,133.1 1391.2,133.2 1391.4,132.6 1391.6,133.1 1391.8,132.9 1392.0,133.9 1392.2,133.6 1392.4,133.6 1392.6,133.7 1392.8,133.5 1393.1,133.4 1393.3,133.3 1393.5,133.2 1393.7,132.9 1393.9,133.3 1394.1,134.1 1394.3,134.2 1394.5,133.9 1394.7,133.6 1394.9,134.4 1395.1,134.5 1395.3,133.5 1395.5,133.0 1395.7,133.0 1395.9,134.4 1396.1,134.3 1396.3,133.4 1396.5,133.0 1396.8,132.9 1397.0,133.4 1397.2,132.9 1397.4,133.4 1397.6,133.6 1397.8,134.1 1398.0,133.5 1398.2,132.7 1398.4,132.1 1398.6,132.6 1398.8,132.6 1399.0,133.3 1399.2,133.7 1399.4,134.1 1399.6,133.8 1399.8,133.6 1400.0,134.1 1400.3,133.9 1400.5,133.5 1400.7,133.3 1400.9,133.4 1401.1,133.7 1401.3,133.7 1401.5,134.3 1401.7,133.5 1401.9,133.8 1402.1,133.6 1402.3,134.2 1402.5,133.9 1402.7,133.9 1402.9,134.1 1403.1,133.9 1403.3,133.6 1403.5,133.3 1403.8,132.9 1404.0,132.5 1404.2,132.5 1404.4,133.0 1404.6,133.6 1404.8,133.9 1405.0,134.4 1405.2,134.1 1405.4,133.8 1405.6,133.0 1405.8,132.7 1406.0,132.8 1406.2,133.6 1406.4,133.4 1406.6,133.7 1406.8,133.2 1407.0,134.0 1407.3,133.6 1407.5,133.9 1407.7,133.4 1407.9,133.8 1408.1,132.9 1408.3,133.2 1408.5,133.3 1408.7,133.4 1408.9,133.5 1409.1,132.9 1409.3,133.8 1409.5,133.5 1409.7,134.1 1409.9,133.9 1410.1,133.5 1410.3,133.8 1410.5,134.1 1410.7,134.2 1411.0,133.8 1411.2,133.6 1411.4,133.7 1411.6,133.1 1411.8,133.4 1412.0,133.5 1412.2,134.2 1412.4,134.4 1412.6,134.7 1412.8,134.1 1413.0,133.8 1413.2,133.1 1413.4,133.1 1413.6,133.8 1413.8,134.0 1414.0,134.4 1414.2,133.1 1414.5,133.3 1414.7,133.2 1414.9,132.7 1415.1,132.5 1415.3,132.7 1415.5,133.9 1415.7,134.2 1415.9,133.7 1416.1,133.5 1416.3,133.2 1416.5,133.3 1416.7,133.1 1416.9,134.1 1417.1,134.0 1417.3,134.4 1417.5,133.7 1417.7,133.5 1418.0,132.8 1418.2,132.7 1418.4,133.0 1418.6,133.4 1418.8,133.2 1419.0,133.0 1419.2,133.2 1419.4,133.6 1419.6,133.6 1419.8,133.3 1420.0,133.9 1420.2,134.0 1420.4,133.5 1420.6,133.2 1420.8,134.1 1421.0,135.0 1421.2,134.2 1421.5,132.8 1421.7,132.8 1421.9,133.2 1422.1,134.1 1422.3,133.6 1422.5,134.2 1422.7,134.1 1422.9,134.0 1423.1,133.5 1423.3,133.1 1423.5,133.2 1423.7,133.1 1423.9,132.8 1424.1,132.4 1424.3,132.0 1424.5,132.1 1424.7,132.7 1424.9,133.5 1425.2,134.1 1425.4,133.5 1425.6,132.5 1425.8,132.7 1426.0,133.1 1426.2,133.6 1426.4,132.9 1426.6,132.3 1426.8,133.1 1427.0,133.4 1427.2,134.0 1427.4,132.8 1427.6,133.6 1427.8,133.5 1428.0,133.8 1428.2,133.3 1428.4,133.4 1428.7,134.0 1428.9,133.3 1429.1,133.6 1429.3,132.8 1429.5,133.3 1429.7,132.9 1429.9,133.3 1430.1,133.0 1430.3,133.0 1430.5,133.0 1430.7,133.3 1430.9,133.3 1431.1,133.2 1431.3,133.5 1431.5,133.5 1431.7,133.4 1431.9,133.1 1432.2,133.5 1432.4,133.1 1432.6,132.8 1432.8,132.7 1433.0,132.6 1433.2,132.8 1433.4,132.6 1433.6,133.3 1433.8,133.5 1434.0,133.4 1434.2,133.0 1434.4,133.3 1434.6,133.2 1434.8,133.5 1435.0,133.8 1435.2,133.9 1435.4,133.7 1435.7,132.9 1435.9,132.7 1436.1,132.4 1436.3,132.4 1436.5,132.4 1436.7,133.0 1436.9,133.5 1437.1,133.6 1437.3,133.6 1437.5,132.9 1437.7,133.8 1437.9,134.5 1438.1,135.0 1438.3,134.4 1438.5,133.6 1438.7,133.9 1438.9,133.5 1439.1,133.0 1439.4,133.0 1439.6,132.8 1439.8,133.4 1440.0,132.9 1440.2,133.0 1440.4,133.2 1440.6,134.1 1440.8,134.3 1441.0,133.8 1441.2,133.3 1441.4,133.2 1441.6,132.7 1441.8,132.6 1442.0,132.0 1442.2,132.8 1442.4,132.6 1442.6,133.5 1442.9,132.8 1443.1,132.7 1443.3,132.9 1443.5,133.8 1443.7,134.4 1443.9,134.3 1444.1,133.5 1444.3,133.4 1444.5,133.3 1444.7,133.6 1444.9,133.8 1445.1,133.5 1445.3,134.2 1445.5,133.5 1445.7,133.6 1445.9,132.9 1446.1,132.7 1446.4,132.8 1446.6,132.8 1446.8,132.7 1447.0,132.6 1447.2,132.1 1447.4,132.5 1447.6,133.2 1447.8,133.5 1448.0,133.6 1448.2,133.3 1448.4,133.0 1448.6,133.2 1448.8,132.9 1449.0,133.1 1449.2,132.4 1449.4,132.4 1449.6,133.0 1449.9,134.0 1450.1,134.1 1450.3,133.8 1450.5,133.2 1450.7,132.9 1450.9,132.3 1451.1,133.0 1451.3,133.0 1451.5,133.7 1451.7,133.7 1451.9,133.9 1452.1,133.8 1452.3,133.3 1452.5,133.3 1452.7,133.5 1452.9,133.3 1453.1,133.8 1453.4,133.9 1453.6,133.6 1453.8,132.8 1454.0,132.4 1454.2,132.6 1454.4,132.8 1454.6,133.3 1454.8,133.3 1455.0,133.4 1455.2,133.1 1455.4,132.7 1455.6,133.0 1455.8,133.1 1456.0,134.3 1456.2,133.8 1456.4,133.5 1456.6,133.1 1456.8,133.3 1457.1,132.9 1457.3,133.2 1457.5,133.2 1457.7,133.8 1457.9,133.1 1458.1,133.6 1458.3,133.3 1458.5,133.5 1458.7,133.4 1458.9,133.9 1459.1,133.8 1459.3,133.9 1459.5,134.1 1459.7,134.5 1459.9,133.7 1460.1,133.3 1460.3,133.6 1460.6,133.7 1460.8,134.1 1461.0,133.7 1461.2,134.0 1461.4,133.8 1461.6,133.9 1461.8,134.4 1462.0,134.0 1462.2,134.1 1462.4,133.6 1462.6,133.7 1462.8,133.8 1463.0,134.0 1463.2,133.8 1463.4,133.9 1463.6,133.7 1463.8,134.2 1464.1,134.1 1464.3,134.1 1464.5,133.4 1464.7,133.2 1464.9,133.7 1465.1,134.1 1465.3,134.4 1465.5,133.9 1465.7,133.7 1465.9,133.1 1466.1,132.5 1466.3,132.7 1466.5,133.0 1466.7,133.6 1466.9,133.8 1467.1,133.4 1467.3,134.0 1467.6,133.2 1467.8,133.7 1468.0,132.7 1468.2,133.1 1468.4,133.4 1468.6,133.3 1468.8,133.4 1469.0,133.1 1469.2,133.7 1469.4,133.7 1469.6,133.9 1469.8,134.0 1470.0,134.1 1470.2,134.1 1470.4,134.2 1470.6,134.0 1470.8,133.2 1471.0,133.3 1471.3,133.2 1471.5,134.2 1471.7,133.7 1471.9,133.4 1472.1,133.3 1472.3,133.2 1472.5,133.1 1472.7,133.1 1472.9,132.9 1473.1,133.8 1473.3,133.1 1473.5,133.7 1473.7,133.4 1473.9,133.1 1474.1,132.9 1474.3,132.7 1474.5,133.4 1474.8,133.6 1475.0,134.3 1475.2,134.1 1475.4,133.9 1475.6,134.1 1475.8,134.4 1476.0,134.7 1476.2,133.5 1476.4,132.7 1476.6,132.3 1476.8,132.7 1477.0,133.4 1477.2,134.5 1477.4,134.2 1477.6,133.8 1477.8,133.1 1478.0,133.6 1478.3,134.2 1478.5,133.9 1478.7,133.5 1478.9,133.8 1479.1,134.0 1479.3,133.9 1479.5,133.1 1479.7,132.9 1479.9,132.8 1480.1,133.2 1480.3,133.3 1480.5,133.7 1480.7,133.2 1480.9,133.7 1481.1,133.8 1481.3,133.7 1481.5,132.4 1481.8,132.1 1482.0,132.6 1482.2,133.8 1482.4,133.8 1482.6,132.9 1482.8,132.3 1483.0,132.7 1483.2,133.7 1483.4,133.5 1483.6,133.5 1483.8,132.6 1484.0,132.4 1484.2,132.2 1484.4,132.7 1484.6,133.3 1484.8,133.9 1485.0,133.6 1485.2,134.0 1485.5,133.3 1485.7,133.6 1485.9,133.4 1486.1,132.9 1486.3,132.5 1486.5,131.8 1486.7,132.7 1486.9,133.6 1487.1,134.2 1487.3,133.9 1487.5,133.8 1487.7,133.2 1487.9,134.1 1488.1,133.7 1488.3,134.2 1488.5,133.4 1488.7,133.7 1489.0,132.9 1489.2,133.3 1489.4,132.4 1489.6,132.9 1489.8,132.6 1490.0,132.8 1490.2,132.9 1490.4,133.5 1490.6,133.8 1490.8,133.9 1491.0,133.8 1491.2,134.2 1491.4,134.5 1491.6,134.4 1491.8,134.6 1492.0,134.1 1492.2,134.2 1492.5,133.2 1492.7,134.2 1492.9,133.8 1493.1,134.2 1493.3,133.9 1493.5,133.9 1493.7,133.6 1493.9,132.4 1494.1,132.4 1494.3,133.4 1494.5,134.1 1494.7,134.8 1494.9,134.4 1495.1,134.2 1495.3,133.1 1495.5,132.7 1495.7,133.1 1496.0,133.5 1496.2,133.6 1496.4,133.6 1496.6,133.5 1496.8,133.0 1497.0,132.7 1497.2,133.0 1497.4,133.2 1497.6,132.9 1497.8,132.4 1498.0,132.6 1498.2,132.9 1498.4,133.2 1498.6,132.9 1498.8,132.9 1499.0,132.7 1499.2,132.8 1499.4,132.2 1499.7,132.0 1499.9,132.1 1500.1,132.8 1500.3,133.3 1500.5,133.5 1500.7,133.5 1500.9,133.0 1501.1,133.3 1501.3,133.5 1501.5,134.1 1501.7,133.6 1501.9,133.3 1502.1,132.9 1502.3,132.6 1502.5,132.5 1502.7,132.1 1502.9,132.0 1503.2,132.3 1503.4,133.0 1503.6,133.9 1503.8,133.5 1504.0,133.3 1504.2,133.2 1504.4,133.2 1504.6,132.5 1504.8,133.0 1505.0,133.6 1505.2,134.7 1505.4,133.9 1505.6,133.2 1505.8,132.7 1506.0,132.7 1506.2,132.5 1506.4,132.2 1506.7,132.3 1506.9,133.2 1507.1,133.5 1507.3,133.0 1507.5,131.9 1507.7,132.2 1507.9,132.2 1508.1,132.4 1508.3,130.6 1508.5,127.4 1508.7,121.8 1508.9,110.1 1509.1,91.8 1509.3,66.0 1509.5,41.2 1509.7,25.8 1509.9,26.0 1510.2,41.2 1510.4,64.8 1510.6,89.3 1510.8,109.0 1511.0,121.3 1511.2,127.2 1511.4,130.2 1511.6,131.8 1511.8,133.3 1512.0,132.3 1512.2,132.1 1512.4,132.3 1512.6,132.7 1512.8,132.5 1513.0,132.0 1513.2,131.7 1513.4,132.2 1513.6,132.6 1513.9,133.6 1514.1,134.1 1514.3,133.8 1514.5,133.6 1514.7,133.1 1514.9,132.8 1515.1,132.5 1515.3,132.3 1515.5,132.6 1515.7,132.8 1515.9,133.1 1516.1,133.1 1516.3,133.6 1516.5,133.4 1516.7,132.6 1516.9,132.1 1517.1,132.9 1517.4,133.9 1517.6,134.1 1517.8,133.4 1518.0,133.1 1518.2,133.1 1518.4,133.2 1518.6,133.5 1518.8,134.1 1519.0,133.9 1519.2,133.6 1519.4,133.1 1519.6,133.2 1519.8,133.7 1520.0,133.5 1520.2,134.3 1520.4,134.1 1520.6,134.8 1520.9,133.7 1521.1,133.4 1521.3,132.8 1521.5,133.1 1521.7,132.6 1521.9,132.9 1522.1,132.3 1522.3,133.2 1522.5,133.3 1522.7,133.9 1522.9,133.7 1523.1,133.3 1523.3,133.3 1523.5,133.4 1523.7,133.8 1523.9,134.1 1524.1,134.5 1524.4,134.3 1524.6,133.9 1524.8,133.2 1525.0,132.7 1525.2,132.8 1525.4,132.8 1525.6,133.8 1525.8,134.1 1526.0,135.0 1526.2,133.7 1526.4,133.6 1526.6,133.3 1526.8,134.1 1527.0,133.9 1527.2,133.6 1527.4,133.5 1527.6,133.7 1527.8,133.7 1528.1,134.0 1528.3,134.1 1528.5,134.1 1528.7,133.8 1528.9,133.8 1529.1,133.5 1529.3,133.7 1529.5,133.4 1529.7,134.0 1529.9,133.6 1530.1,133.7 1530.3,133.3 1530.5,133.2 1530.7,133.6 1530.9,133.7 1531.1,134.1 1531.3,134.2 1531.6,133.9 1531.8,133.9 1532.0,133.9 1532.2,134.8 1532.4,134.9 1532.6,135.0 1532.8,134.3 1533.0,134.0 1533.2,133.6 1533.4,133.9 1533.6,134.3 1533.8,134.3 1534.0,133.5 1534.2,132.6 1534.4,132.5 1534.6,132.4 1534.8,133.2 1535.1,132.8 1535.3,133.4 1535.5,133.7 1535.7,133.3 1535.9,133.2 1536.1,132.8 1536.3,133.9 1536.5,133.9 1536.7,133.7 1536.9,133.0 1537.1,133.6 1537.3,133.6 1537.5,133.8 1537.7,133.3 1537.9,133.2 1538.1,132.9 1538.3,132.1 1538.6,132.2 1538.8,132.7 1539.0,133.5 1539.2,133.1 1539.4,133.4 1539.6,132.9 1539.8,133.2 1540.0,133.3 1540.2,133.9 1540.4,134.2 1540.6,134.1 1540.8,134.0 1541.0,134.1 1541.2,133.4 1541.4,133.4 1541.6,133.2 1541.8,133.8 1542.0,133.8" fill="none" stroke="#1e7d1e" stroke-width="1.5" stroke-linejoin="round" stroke-linecap="round" />
<rect x="1079" y="15.5" width="463" height="345.0" fill="none" stroke="#555" stroke-width="1.8"/>
<line x1="1079.0" y1="360.5" x2="1079.0" y2="368.0" stroke="#444" stroke-width="1.6"/>
<text x="1079.0" y="390.3" font-size="23" fill="#111" text-anchor="middle" >20</text>
<line x1="1130.5" y1="360.5" x2="1130.5" y2="365.0" stroke="#444" stroke-width="1.6"/>
<line x1="1181.9" y1="360.5" x2="1181.9" y2="368.0" stroke="#444" stroke-width="1.6"/>
<text x="1181.9" y="390.3" font-size="23" fill="#111" text-anchor="middle" >30</text>
<line x1="1233.3" y1="360.5" x2="1233.3" y2="365.0" stroke="#444" stroke-width="1.6"/>
<line x1="1284.8" y1="360.5" x2="1284.8" y2="368.0" stroke="#444" stroke-width="1.6"/>
<text x="1284.8" y="390.3" font-size="23" fill="#111" text-anchor="middle" >40</text>
<line x1="1336.2" y1="360.5" x2="1336.2" y2="365.0" stroke="#444" stroke-width="1.6"/>
<line x1="1387.7" y1="360.5" x2="1387.7" y2="368.0" stroke="#444" stroke-width="1.6"/>
<text x="1387.7" y="390.3" font-size="23" fill="#111" text-anchor="middle" >50</text>
<line x1="1439.2" y1="360.5" x2="1439.2" y2="365.0" stroke="#444" stroke-width="1.6"/>
<line x1="1490.6" y1="360.5" x2="1490.6" y2="368.0" stroke="#444" stroke-width="1.6"/>
<text x="1490.6" y="390.3" font-size="23" fill="#111" text-anchor="middle" >60</text>
<line x1="1542.0" y1="360.5" x2="1542.0" y2="365.0" stroke="#444" stroke-width="1.6"/>
<text x="1083.50" y="124.20" font-size="18.79" font-weight="bold" fill="#1e7d1e"  >Si substrate</text>
<text x="1084.20" y="188.30" font-size="18.55" font-weight="bold" fill="#dd2020"  >Sample</text>
<text x="1081.2" y="279.3" font-size="18.85" font-weight="bold" fill="#2424cc"><tspan font-style="italic">m</tspan>ZrO<tspan font-size="11" dy="7">2</tspan><tspan dy="-7">: PDF #010-70-8739</tspan></text>
<text x="1083.75" y="337.80" font-size="18.84" font-weight="bold" fill="#111"  >MgO: PDF #000-04-0829</text>
<text transform="translate(1044.50,312.98) rotate(-90)" font-size="37.06" fill="#111">Intensity (rel.)</text>
<text x="1260.12" y="430.10" font-size="38.50" fill="#111"  >2</text>
<text x="1281.05" y="430.50" font-size="37.38" fill="#111" style="font-family:'Liberation Serif',serif" >θ</text>
<text x="1309.73" y="430.50" font-size="38.50" fill="#111"  >(</text>
<text x="1324.15" y="430.50" font-size="38.50" fill="#111"  >°</text>
<text x="1344.65" y="430.50" font-size="38.50" fill="#111"  >)</text>
<line x1="306.4" y1="490" x2="306.4" y2="932" stroke="#333" stroke-width="1.4" stroke-dasharray="6,3"/>
<line x1="543.7" y1="490" x2="543.7" y2="932" stroke="#333" stroke-width="1.4" stroke-dasharray="6,3"/>
<line x1="605.8" y1="490" x2="605.8" y2="932" stroke="#333" stroke-width="1.4" stroke-dasharray="6,3"/>
<polyline points="166.8,932.0 171.6,930.5 176.4,929.0 181.1,927.5 185.9,925.9 190.7,924.4 195.5,922.9 200.2,921.3 205.0,919.7 209.8,918.1 214.6,916.4 219.3,914.8 224.1,913.1 228.9,911.4 233.7,909.7 238.4,908.0 243.2,906.2 248.0,904.5 252.8,902.7 257.6,900.9 262.3,899.0 267.1,897.2 271.9,895.3 276.7,893.4 281.4,891.5 286.2,889.5 291.0,887.5 295.8,885.5 300.5,883.5 305.3,881.5 310.1,879.4 314.9,877.3 319.6,875.2 324.4,873.0 329.2,870.9 334.0,868.7 338.8,866.5 343.5,864.2 348.3,862.0 353.1,859.7 357.9,857.4 362.6,855.1 367.4,852.7 372.2,850.3 377.0,847.9 381.7,845.5 386.5,843.1 391.3,840.6 396.1,838.1 400.8,835.6 405.6,833.1 410.4,830.5 415.2,828.0 420.0,825.4 424.7,822.8 429.5,820.1 434.3,817.5 439.1,814.8 443.8,812.2 448.6,809.5 453.4,806.7 458.2,804.0 462.9,801.3 467.7,798.5 472.5,795.7 477.3,792.9 482.0,790.1 486.8,787.3 491.6,784.5 496.4,781.6 501.2,778.8 505.9,775.9 510.7,773.0 515.5,770.1 520.3,767.3 525.0,764.4 529.8,761.4 534.6,758.5 539.4,755.6 544.1,752.7 548.9,749.8 553.7,746.9 558.5,743.9 563.2,741.0 568.0,738.1 572.8,735.2 577.6,732.3 582.4,729.3 587.1,726.4 591.9,723.5 596.7,720.6 601.5,717.7 606.2,714.9 611.0,712.0 615.8,709.1 620.6,706.3 625.3,703.5 630.1,700.6 634.9,697.8 639.7,695.1 644.4,692.3 649.2,689.5 654.0,686.8 658.8,684.1 663.6,681.4 668.3,678.8 673.1,676.2 677.9,673.6 682.7,671.0 687.4,668.5 692.2,666.0 697.0,663.5 701.8,661.0 706.5,658.6 711.3,656.3 716.1,654.0 720.9,651.7 725.6,649.4 730.4,647.3 735.2,645.1" fill="none" stroke="#e01a1a" stroke-width="2.7" stroke-linejoin="round" stroke-linecap="round" />
<polyline points="168.3,930.5 169.0,929.3 170.0,927.6 171.0,925.7 172.0,924.0 172.8,922.5 173.4,921.1 174.2,919.8 175.0,918.5 176.1,917.2 177.3,915.9 178.5,914.9 179.6,914.4 180.4,914.5 181.1,915.0 181.8,915.9 182.6,917.0 183.5,918.5 184.6,920.3 185.7,922.1 187.1,923.7 188.7,924.9 190.5,925.9 192.4,926.7 194.6,927.5 196.0,928.3 196.9,929.1 199.4,929.7 205.2,930.2 216.1,930.5 230.8,930.5 246.3,930.5 260.0,930.5 271.0,930.5 280.9,930.4 290.3,930.4 300.0,930.3 310.4,930.3 320.9,930.4 331.1,930.4 340.0,930.2 347.4,929.7 353.8,929.1 359.5,928.3 365.0,927.5 370.5,926.4 375.6,925.0 380.5,923.8 385.0,923.2 389.0,923.3 392.5,923.9 396.0,924.7 400.0,925.5 404.2,926.2 408.4,927.0 413.5,927.7 420.0,928.2 428.1,928.5 437.5,928.7 448.1,928.8 460.0,928.8 474.1,928.8 490.0,928.6 505.9,928.5 520.0,928.5 531.4,928.7 541.2,929.0 550.5,929.3 560.0,929.5 570.6,929.6 581.6,929.6 591.8,929.5 600.0,929.2 605.7,928.7 609.6,928.1 612.4,927.3 615.0,926.0 617.4,924.1 619.2,921.8 620.6,919.3 622.0,917.0 623.2,915.8 624.2,915.3 625.1,913.6 626.1,908.7 627.2,899.1 628.3,886.0 629.5,872.3 630.6,860.6 631.7,850.4 632.9,840.7 634.0,833.4 635.1,830.5 636.2,833.6 637.4,841.2 638.5,851.0 639.6,860.6 640.7,870.1 641.8,880.5 642.9,890.8 644.1,899.7 645.6,907.2 647.2,913.9 648.8,919.5 650.2,923.8 651.2,926.4 651.9,927.5 652.9,927.9 654.7,928.3 656.6,928.9 658.6,929.2 662.4,929.3 670.0,929.5 684.3,929.6 703.5,929.7 722.2,929.8 735.0,929.8" fill="none" stroke="#2ade2a" stroke-width="3.0" stroke-linejoin="round" stroke-linecap="round" />
<polyline points="168.3,931.3 169.3,928.2 170.7,923.6 172.0,918.5 173.1,913.3 174.1,907.5 175.0,900.4 175.8,891.3 176.6,880.8 177.3,870.3 177.9,860.2 178.3,850.0 178.8,840.2 179.3,830.2 179.8,820.6 180.3,813.1 180.8,808.5 181.3,806.0 181.8,804.8 182.3,804.7 182.7,805.9 183.3,808.6 184.0,813.1 184.8,819.0 185.6,825.2 186.5,831.6 187.6,838.3 188.6,844.7 189.5,850.6 190.5,856.1 191.6,861.3 192.9,866.1 194.4,870.6 196.1,874.8 198.0,878.7 200.0,882.4 202.1,885.4 204.1,887.6 206.2,889.2 208.2,890.6 210.1,891.6 212.0,892.4 214.2,893.6 216.9,895.6 219.9,898.1 223.2,900.4 227.1,902.5 231.4,904.5 235.3,906.4 238.5,908.2 241.4,909.8 244.3,910.9 247.2,911.0 250.1,910.6 253.3,910.6 257.1,911.8 261.3,913.5 265.4,914.7 269.5,914.7 273.5,914.1 277.4,913.7 281.0,913.8 284.4,914.1 287.9,914.7 291.5,915.5 295.2,916.6 298.5,917.7 301.2,919.1 303.6,920.5 306.0,921.5 308.5,921.7 311.1,921.5 314.1,921.3 317.8,921.3 321.9,921.3 325.4,920.8 327.7,920.0 329.3,918.8 331.0,916.5 332.9,912.8 334.8,908.1 336.7,902.4 338.6,895.6 340.4,887.8 342.3,879.8 344.1,871.7 346.0,863.3 348.0,854.5 350.2,844.9 352.6,834.9 355.0,826.2 357.3,820.4 359.6,815.8 362.0,809.3 364.8,799.0 367.7,786.9 370.5,775.4 373.1,765.2 375.5,755.6 377.6,747.2 379.3,740.4 380.7,734.8 382.0,730.0 383.3,726.0 384.6,722.9 385.9,720.0 387.1,717.5 388.4,715.2 389.9,712.5 392.0,708.9 394.3,704.8 396.5,701.3 398.4,698.7 400.1,696.6 401.7,694.8 403.3,693.1 404.9,691.8 406.3,690.8 407.5,690.5 408.5,690.7 409.6,690.5 410.7,689.7 411.9,688.4 412.9,686.9 413.7,684.8 414.3,682.4 414.9,680.3 415.5,678.9 416.1,677.8 416.9,677.0 417.9,676.6 419.1,676.4 420.2,675.7 421.3,674.0 422.5,671.9 423.5,670.4 424.4,669.8 425.2,669.8 426.1,670.1 427.1,670.8 428.3,671.8 429.4,672.4 430.5,672.2 431.6,671.6 432.7,671.1 433.8,671.1 434.9,671.2 436.0,671.1 437.1,670.5 438.2,669.6 439.2,669.1 440.1,669.0 441.0,669.3 441.9,670.4 442.8,673.1 443.7,676.6 444.5,679.6 445.2,681.3 445.8,682.4 446.5,683.6 447.5,685.2 448.7,686.9 449.8,688.8 450.7,690.9 451.5,693.3 452.4,696.1 453.5,699.7 454.6,703.8 455.7,707.9 456.6,711.8 457.4,715.7 458.3,720.0 459.3,724.5 460.3,729.3 461.5,735.0 463.0,741.8 464.7,749.6 466.5,758.5 468.2,769.1 470.0,780.9 472.1,792.4 474.6,802.9 477.5,813.2 480.6,823.4 484.2,833.9 488.0,844.3 491.9,854.5 495.6,864.4 499.2,874.0 503.2,882.7 507.7,890.2 512.5,896.7 517.3,902.4 522.0,907.4 526.8,911.6 531.4,915.1 535.4,917.8 539.3,919.8 544.4,921.6 551.0,923.4 558.8,925.1 568.0,926.4 580.4,927.4 594.2,928.1 604.7,928.4 609.3,928.5 610.6,928.3 612.0,927.5 614.6,925.8 617.2,923.4 620.0,920.8 623.1,918.1 626.3,915.1 629.1,911.7 631.4,906.7 633.3,901.3 635.1,898.2 636.7,899.0 638.2,902.1 639.6,905.7 640.9,909.6 642.3,914.1 644.1,917.7 646.6,919.8 649.6,921.2 653.2,922.3 657.3,923.5 662.1,924.4 668.2,925.3 675.9,926.1 684.9,926.8 695.3,927.4 709.1,928.0 724.2,928.5 735.0,928.9" fill="none" stroke="#111" stroke-width="2.8" stroke-linejoin="round" stroke-linecap="round" />
<path d="M303.4,917.5 L309.4,917.5 L306.4,924.5 Z" fill="#111"/>
<path d="M540.7,917.6 L546.7,917.6 L543.7,924.6 Z" fill="#111"/>
<path d="M602.8,924.4 L608.8,924.4 L605.8,931.4 Z" fill="#111"/>
<rect x="166.8" y="490" width="568.4000000000001" height="442" fill="none" stroke="#333" stroke-width="1.8"/>
<line x1="159.8" y1="932.0" x2="166.8" y2="932.0" stroke="#333" stroke-width="1.6"/>
<text x="153.6" y="938.9" font-size="25" fill="#222" text-anchor="end" >0.00</text>
<line x1="162.8" y1="887.8" x2="166.8" y2="887.8" stroke="#333" stroke-width="1.6"/>
<line x1="159.8" y1="843.6" x2="166.8" y2="843.6" stroke="#333" stroke-width="1.6"/>
<text x="153.6" y="850.5" font-size="25" fill="#222" text-anchor="end" >0.01</text>
<line x1="162.8" y1="799.4" x2="166.8" y2="799.4" stroke="#333" stroke-width="1.6"/>
<line x1="159.8" y1="755.2" x2="166.8" y2="755.2" stroke="#333" stroke-width="1.6"/>
<text x="153.6" y="762.1" font-size="25" fill="#222" text-anchor="end" >0.02</text>
<line x1="162.8" y1="711.0" x2="166.8" y2="711.0" stroke="#333" stroke-width="1.6"/>
<line x1="159.8" y1="666.8" x2="166.8" y2="666.8" stroke="#333" stroke-width="1.6"/>
<text x="153.6" y="673.7" font-size="25" fill="#222" text-anchor="end" >0.03</text>
<line x1="162.8" y1="622.6" x2="166.8" y2="622.6" stroke="#333" stroke-width="1.6"/>
<line x1="159.8" y1="578.4" x2="166.8" y2="578.4" stroke="#333" stroke-width="1.6"/>
<text x="153.6" y="585.3" font-size="25" fill="#222" text-anchor="end" >0.04</text>
<line x1="162.8" y1="534.2" x2="166.8" y2="534.2" stroke="#333" stroke-width="1.6"/>
<line x1="159.8" y1="490.0" x2="166.8" y2="490.0" stroke="#333" stroke-width="1.6"/>
<text x="153.6" y="496.9" font-size="25" fill="#222" text-anchor="end" >0.05</text>
<line x1="735.2" y1="932.0" x2="743.2" y2="932.0" stroke="#333" stroke-width="1.6"/>
<text x="748.7" y="938.8" font-size="25" fill="#222" text-anchor="start" >20</text>
<line x1="735.2" y1="876.8" x2="739.7" y2="876.8" stroke="#333" stroke-width="1.6"/>
<line x1="735.2" y1="821.5" x2="743.2" y2="821.5" stroke="#333" stroke-width="1.6"/>
<text x="748.7" y="828.3" font-size="25" fill="#222" text-anchor="start" >40</text>
<line x1="735.2" y1="766.2" x2="739.7" y2="766.2" stroke="#333" stroke-width="1.6"/>
<line x1="735.2" y1="711.0" x2="743.2" y2="711.0" stroke="#333" stroke-width="1.6"/>
<text x="748.7" y="717.8" font-size="25" fill="#222" text-anchor="start" >60</text>
<line x1="735.2" y1="655.8" x2="739.7" y2="655.8" stroke="#333" stroke-width="1.6"/>
<line x1="735.2" y1="600.5" x2="743.2" y2="600.5" stroke="#333" stroke-width="1.6"/>
<text x="748.7" y="607.3" font-size="25" fill="#222" text-anchor="start" >80</text>
<line x1="735.2" y1="545.2" x2="739.7" y2="545.2" stroke="#333" stroke-width="1.6"/>
<line x1="735.2" y1="490.0" x2="743.2" y2="490.0" stroke="#333" stroke-width="1.6"/>
<text x="748.7" y="496.8" font-size="25" fill="#222" text-anchor="start" >100</text>
<line x1="166.8" y1="932" x2="166.8" y2="940" stroke="#333" stroke-width="1.6"/>
<text x="166.8" y="966.5" font-size="25" fill="#222" text-anchor="middle" >0</text>
<line x1="247.9" y1="932" x2="247.9" y2="936.5" stroke="#333" stroke-width="1.6"/>
<line x1="329.1" y1="932" x2="329.1" y2="940" stroke="#333" stroke-width="1.6"/>
<text x="329.1" y="966.5" font-size="25" fill="#222" text-anchor="middle" >5</text>
<line x1="410.2" y1="932" x2="410.2" y2="936.5" stroke="#333" stroke-width="1.6"/>
<line x1="491.3" y1="932" x2="491.3" y2="940" stroke="#333" stroke-width="1.6"/>
<text x="491.3" y="966.5" font-size="25" fill="#222" text-anchor="middle" >10</text>
<line x1="572.4" y1="932" x2="572.4" y2="936.5" stroke="#333" stroke-width="1.6"/>
<line x1="653.6" y1="932" x2="653.6" y2="940" stroke="#333" stroke-width="1.6"/>
<text x="653.6" y="966.5" font-size="25" fill="#222" text-anchor="middle" >15</text>
<line x1="734.7" y1="932" x2="734.7" y2="936.5" stroke="#333" stroke-width="1.6"/>
<text x="201.58" y="525.70" font-size="38.30" fill="#111"  >H</text>
<text x="228.60" y="540.00" font-size="29.00" fill="#111"  >2</text>
<text x="240.75" y="526.20" font-size="38.30" fill="#111"  >O</text>
<text x="331.90" y="526.60" font-size="38.77" fill="#111"  >0.01 N HCl</text>
<text x="542.62" y="525.80" font-size="37.22" fill="#111"  >3 N</text>
<text x="543.20" y="567.80" font-size="36.74" fill="#111"  >HCl</text>
<text x="610.62" y="525.80" font-size="38.54" fill="#111"  >4 N HF</text>
<text x="319.57" y="692.00" font-size="46.70" font-weight="bold" fill="#111"  >Mg</text>
<text x="638.82" y="820.90" font-size="47.48" font-weight="bold" fill="#22dd22"  >Zr</text>
<text x="328.30" y="1021.40" font-size="44.46" fill="#111"  >Time (min)</text>
<text transform="translate(77.50,971.35) rotate(-90)" font-size="45.26" fill="#111">Concentration (µmol/mL)</text>
<text transform="translate(821.60,899.20) rotate(-90)" font-size="42.44" fill="#dd1c1c">Temperarure (°C)</text>
<line x1="674" y1="690" x2="708" y2="690" stroke="#e01010" stroke-width="3.2"/>
<path d="M705,682 L732.5,690 L705,698 Z" fill="#e01010"/>
<polyline points="982.6,873.8 983.9,870.5 985.4,866.4 987.2,861.6 989.2,856.2 991.4,850.3 993.8,844.0 996.5,837.3 999.4,830.4 1002.6,823.2 1006.0,816.0 1009.7,808.3 1013.8,799.6 1018.3,790.4 1023.0,780.7 1027.9,770.9 1032.9,761.3 1037.9,752.1 1043.0,743.5 1047.9,735.9 1052.7,729.4 1057.3,724.1 1062.0,719.8 1066.7,716.3 1071.3,713.3 1076.0,710.9 1080.7,708.8 1085.3,706.8 1090.0,704.9 1094.7,702.9 1099.3,700.5 1104.0,698.0 1108.7,695.5 1113.3,693.0 1118.0,690.6 1122.7,688.3 1127.3,686.1 1132.0,684.1 1136.7,682.2 1141.4,680.4 1146.0,678.9 1150.7,677.5 1155.4,676.3 1160.0,675.2 1164.7,674.2 1169.4,673.4 1174.0,672.8 1178.7,672.3 1183.4,671.9 1188.0,671.7 1192.7,671.6 1197.4,671.8 1202.0,672.2 1206.7,672.7 1211.4,673.5 1216.0,674.3 1220.7,675.3 1225.4,676.2 1230.0,677.2 1234.7,678.1 1239.4,678.9 1244.0,679.5 1248.7,680.2 1253.4,680.8 1258.1,681.4 1262.7,682.0 1267.4,682.7 1272.1,683.4 1276.7,684.2 1281.4,685.1 1286.1,686.1 1290.7,687.2 1295.4,688.5 1300.1,689.9 1304.7,691.3 1309.4,692.8 1314.1,694.4 1318.7,696.0 1323.4,697.5 1328.1,699.0 1332.7,700.5 1337.4,702.0 1342.1,703.4 1346.7,704.9 1351.4,706.3 1356.1,707.7 1360.7,709.2 1365.4,710.6 1370.1,712.1 1374.8,713.5 1379.4,715.0 1384.1,716.4 1388.8,717.8 1393.4,719.3 1398.1,720.7 1402.8,722.2 1407.4,723.6 1412.1,725.1 1416.8,726.5 1421.4,728.0 1426.1,729.4 1430.8,730.9 1435.4,732.4 1440.1,734.0 1444.8,735.5 1449.4,737.1 1454.1,738.6 1458.8,740.0 1463.4,741.4 1468.1,742.7 1472.8,743.8 1477.7,744.9 1482.9,745.9 1488.3,746.8 1493.7,747.6 1499.0,748.4 1504.1,749.0 1508.9,749.7 1513.1,750.2 1516.7,750.7 1519.5,751.1" fill="none" stroke="#333" stroke-width="1.4" stroke-linejoin="round" stroke-linecap="round" stroke-dasharray="6,4"/>
<polyline points="982.6,888.2 983.9,884.1 985.4,879.0 987.2,873.0 989.2,866.3 991.4,858.9 993.8,851.0 996.5,842.6 999.4,833.9 1002.6,825.0 1006.0,816.0 1009.7,806.5 1013.8,796.1 1018.3,785.1 1023.0,773.6 1027.9,761.9 1032.9,750.2 1037.9,738.7 1043.0,727.7 1047.9,717.3 1052.7,707.7 1057.3,699.0 1062.0,690.6 1066.7,682.7 1071.3,675.2 1076.0,668.0 1080.7,661.1 1085.3,654.5 1090.0,648.0 1094.7,641.7 1099.3,635.5 1104.0,629.5 1108.7,623.6 1113.3,617.9 1118.0,612.4 1122.7,607.1 1127.3,602.1 1132.0,597.4 1136.7,592.9 1141.4,588.8 1146.0,585.0 1150.7,581.7 1155.4,578.8 1160.0,576.4 1164.7,574.3 1169.4,572.4 1174.0,570.6 1178.7,568.9 1183.4,567.2 1188.0,565.4 1192.7,563.3 1197.4,561.1 1202.0,558.8 1206.7,556.4 1211.4,554.0 1216.0,551.6 1220.7,549.3 1225.4,547.1 1230.0,545.1 1234.7,543.3 1239.4,541.7 1244.0,540.3 1248.7,539.1 1253.4,538.0 1258.1,537.1 1262.7,536.3 1267.4,535.6 1272.1,535.1 1276.7,534.7 1281.4,534.5 1286.1,534.5 1290.7,534.6 1295.4,535.0 1300.1,535.6 1304.7,536.3 1309.4,537.2 1314.1,538.1 1318.7,539.1 1323.4,540.0 1328.1,540.9 1332.7,541.7 1337.4,542.4 1342.1,543.1 1346.7,543.8 1351.4,544.6 1356.1,545.3 1360.7,546.0 1365.4,546.7 1370.1,547.5 1374.8,548.2 1379.4,548.9 1384.1,549.6 1388.8,550.3 1393.4,551.1 1398.1,551.8 1402.8,552.5 1407.4,553.2 1412.1,554.0 1416.8,554.7 1421.4,555.4 1426.1,556.1 1430.8,556.8 1435.4,557.6 1440.1,558.3 1444.8,559.0 1449.4,559.7 1454.1,560.5 1458.8,561.2 1463.4,561.9 1468.1,562.6 1472.8,563.3 1477.7,564.1 1482.9,564.9 1488.3,565.7 1493.7,566.6 1499.0,567.4 1504.1,568.2 1508.9,568.9 1513.1,569.6 1516.7,570.1 1519.5,570.6" fill="none" stroke="#222" stroke-width="1.5" stroke-linejoin="round" stroke-linecap="round" />
<rect x="978.6" y="869.8" width="8" height="8" fill="#fff" stroke="#333" stroke-width="1.2"/>
<rect x="1002.0" y="812.0" width="8" height="8" fill="#fff" stroke="#333" stroke-width="1.2"/>
<rect x="1048.7" y="725.4" width="8" height="8" fill="#fff" stroke="#333" stroke-width="1.2"/>
<rect x="1095.3" y="696.5" width="8" height="8" fill="#fff" stroke="#333" stroke-width="1.2"/>
<rect x="1142.0" y="674.9" width="8" height="8" fill="#fff" stroke="#333" stroke-width="1.2"/>
<rect x="1188.7" y="667.6" width="8" height="8" fill="#fff" stroke="#333" stroke-width="1.2"/>
<rect x="1235.4" y="674.9" width="8" height="8" fill="#fff" stroke="#333" stroke-width="1.2"/>
<rect x="1282.1" y="682.1" width="8" height="8" fill="#fff" stroke="#333" stroke-width="1.2"/>
<rect x="1328.7" y="696.5" width="8" height="8" fill="#fff" stroke="#333" stroke-width="1.2"/>
<rect x="1375.4" y="711.0" width="8" height="8" fill="#fff" stroke="#333" stroke-width="1.2"/>
<rect x="1422.1" y="725.4" width="8" height="8" fill="#fff" stroke="#333" stroke-width="1.2"/>
<rect x="1468.8" y="739.8" width="8" height="8" fill="#fff" stroke="#333" stroke-width="1.2"/>
<rect x="1515.5" y="747.1" width="8" height="8" fill="#fff" stroke="#333" stroke-width="1.2"/>
<rect x="978.3" y="883.9" width="8.6" height="8.6" fill="#000"/>
<rect x="1001.7" y="811.7" width="8.6" height="8.6" fill="#000"/>
<rect x="1048.4" y="703.4" width="8.6" height="8.6" fill="#000"/>
<rect x="1095.0" y="631.2" width="8.6" height="8.6" fill="#000"/>
<rect x="1141.7" y="580.7" width="8.6" height="8.6" fill="#000"/>
<rect x="1188.4" y="559.0" width="8.6" height="8.6" fill="#000"/>
<rect x="1235.1" y="537.4" width="8.6" height="8.6" fill="#000"/>
<rect x="1281.8" y="530.2" width="8.6" height="8.6" fill="#000"/>
<rect x="1328.4" y="537.4" width="8.6" height="8.6" fill="#000"/>
<rect x="1375.1" y="544.6" width="8.6" height="8.6" fill="#000"/>
<rect x="1421.8" y="551.8" width="8.6" height="8.6" fill="#000"/>
<rect x="1468.5" y="559.0" width="8.6" height="8.6" fill="#000"/>
<rect x="1515.2" y="566.3" width="8.6" height="8.6" fill="#000"/>
<rect x="959.3" y="494.6" width="583.7" height="434.0" fill="none" stroke="#333" stroke-width="1.8"/>
<line x1="953.8" y1="909.9" x2="959.3" y2="909.9" stroke="#333" stroke-width="1.6"/>
<line x1="949.8" y1="873.8" x2="959.3" y2="873.8" stroke="#333" stroke-width="1.6"/>
<text x="944.3" y="882.1" font-size="30" fill="#222" text-anchor="end" >2</text>
<line x1="953.8" y1="837.7" x2="959.3" y2="837.7" stroke="#333" stroke-width="1.6"/>
<line x1="949.8" y1="801.6" x2="959.3" y2="801.6" stroke="#333" stroke-width="1.6"/>
<text x="944.3" y="809.9" font-size="30" fill="#222" text-anchor="end" >3</text>
<line x1="953.8" y1="765.5" x2="959.3" y2="765.5" stroke="#333" stroke-width="1.6"/>
<line x1="949.8" y1="729.4" x2="959.3" y2="729.4" stroke="#333" stroke-width="1.6"/>
<text x="944.3" y="737.7" font-size="30" fill="#222" text-anchor="end" >4</text>
<line x1="953.8" y1="693.3" x2="959.3" y2="693.3" stroke="#333" stroke-width="1.6"/>
<line x1="949.8" y1="657.2" x2="959.3" y2="657.2" stroke="#333" stroke-width="1.6"/>
<text x="944.3" y="665.5" font-size="30" fill="#222" text-anchor="end" >5</text>
<line x1="953.8" y1="621.1" x2="959.3" y2="621.1" stroke="#333" stroke-width="1.6"/>
<line x1="949.8" y1="585.0" x2="959.3" y2="585.0" stroke="#333" stroke-width="1.6"/>
<text x="944.3" y="593.3" font-size="30" fill="#222" text-anchor="end" >6</text>
<line x1="953.8" y1="548.9" x2="959.3" y2="548.9" stroke="#333" stroke-width="1.6"/>
<line x1="949.8" y1="512.8" x2="959.3" y2="512.8" stroke="#333" stroke-width="1.6"/>
<text x="944.3" y="521.1" font-size="30" fill="#222" text-anchor="end" >7</text>
<line x1="959.3" y1="928.6" x2="959.3" y2="937.6" stroke="#333" stroke-width="1.6"/>
<text x="959.3" y="966.5" font-size="30" fill="#222" text-anchor="middle" >0</text>
<line x1="1006.0" y1="928.6" x2="1006.0" y2="933.6" stroke="#333" stroke-width="1.6"/>
<line x1="1052.7" y1="928.6" x2="1052.7" y2="937.6" stroke="#333" stroke-width="1.6"/>
<text x="1052.7" y="966.5" font-size="30" fill="#222" text-anchor="middle" >200</text>
<line x1="1099.3" y1="928.6" x2="1099.3" y2="933.6" stroke="#333" stroke-width="1.6"/>
<line x1="1146.0" y1="928.6" x2="1146.0" y2="937.6" stroke="#333" stroke-width="1.6"/>
<text x="1146.0" y="966.5" font-size="30" fill="#222" text-anchor="middle" >400</text>
<line x1="1192.7" y1="928.6" x2="1192.7" y2="933.6" stroke="#333" stroke-width="1.6"/>
<line x1="1239.4" y1="928.6" x2="1239.4" y2="937.6" stroke="#333" stroke-width="1.6"/>
<text x="1239.4" y="966.5" font-size="30" fill="#222" text-anchor="middle" >600</text>
<line x1="1286.1" y1="928.6" x2="1286.1" y2="933.6" stroke="#333" stroke-width="1.6"/>
<line x1="1332.7" y1="928.6" x2="1332.7" y2="937.6" stroke="#333" stroke-width="1.6"/>
<text x="1332.7" y="966.5" font-size="30" fill="#222" text-anchor="middle" >800</text>
<line x1="1379.4" y1="928.6" x2="1379.4" y2="933.6" stroke="#333" stroke-width="1.6"/>
<line x1="1426.1" y1="928.6" x2="1426.1" y2="937.6" stroke="#333" stroke-width="1.6"/>
<text x="1426.1" y="966.5" font-size="30" fill="#222" text-anchor="middle" >1000</text>
<line x1="1472.8" y1="928.6" x2="1472.8" y2="933.6" stroke="#333" stroke-width="1.6"/>
<line x1="1519.5" y1="928.6" x2="1519.5" y2="937.6" stroke="#333" stroke-width="1.6"/>
<text x="1519.5" y="966.5" font-size="30" fill="#222" text-anchor="middle" >1200</text>
<rect x="1068" y="824.3" width="465.7" height="88.2" fill="#fff" stroke="#555" stroke-width="1.3"/>
<line x1="1080.7" y1="848.8" x2="1160.3" y2="848.8" stroke="#222" stroke-width="1.5"/>
<rect x="1116.2" y="844.5" width="8.6" height="8.6" fill="#000"/>
<line x1="1080.7" y1="892.8" x2="1160.3" y2="892.8" stroke="#333" stroke-width="1.4" stroke-dasharray="6,4"/>
<rect x="1116.5" y="888.8" width="8" height="8" fill="#fff" stroke="#333" stroke-width="1.2"/>
<text x="1169.70" y="860.30" font-size="35.55" fill="#111"  >as-deposited sample</text>
<text x="1169.70" y="904.30" font-size="35.52" fill="#111"  >aged in air for 2 weeks</text>
<text transform="translate(918.20,791.19) rotate(-90)" font-size="50.00" fill="#111" textLength="132.65" lengthAdjust="spacingAndGlyphs">SEEC</text>
<text x="1198.90" y="1026.50" font-size="43.40" fill="#111"  >E</text>
<text x="1229.75" y="1039.40" font-size="42.50" fill="#111"  >p</text>
<text x="1265.85" y="1026.50" font-size="44.40" fill="#111"  >(eV)</text>
<text x="7.03" y="398.30" font-size="44.95" fill="#111"  >a)</text>
<text x="498.42" y="396.50" font-size="45.38" fill="#111"  >b)</text>
<text x="1019.62" y="397.80" font-size="45.26" fill="#111"  >c)</text>
<text x="19.27" y="1043.20" font-size="52.06" fill="#111"  >d)</text>
<text x="856.48" y="1043.50" font-size="50.16" fill="#111"  >e)</text>
</svg>
</body></html>
